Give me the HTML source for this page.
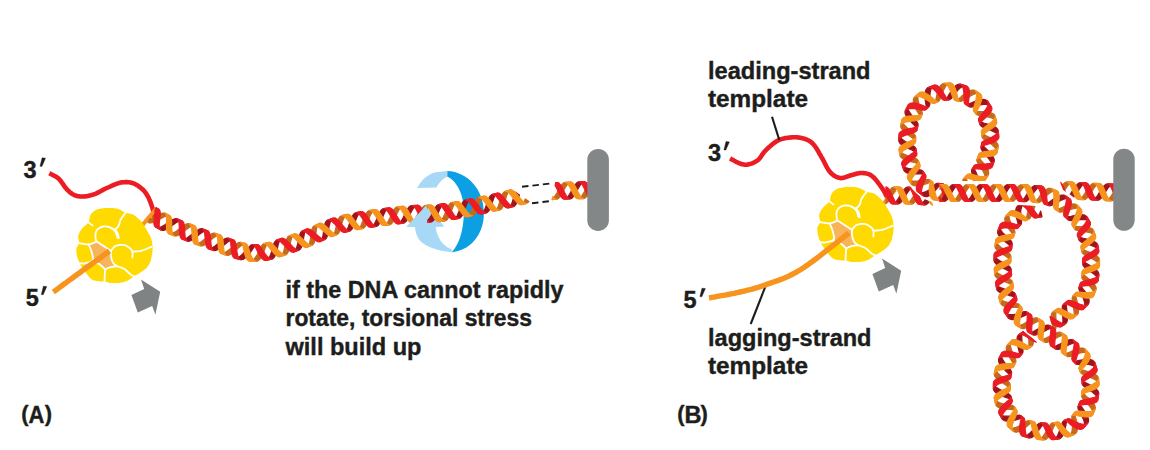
<!DOCTYPE html>
<html><head><meta charset="utf-8"><title>DNA replication torsional stress</title>
<style>html,body{margin:0;padding:0;background:#fff;width:1150px;height:450px;overflow:hidden}svg{display:block}</style>
</head><body>
<svg width="1150" height="450" viewBox="0 0 1150 450">
<rect width="1150" height="450" fill="#fff"/>
<path d="M447.2,171.1 C468,172 484,190 483.9,213.3 C483.8,236 469,251 451.7,252.2 C458,246 463.9,232 463.9,211 C463.9,195 457,181 447.2,176.5 Z" fill="#0c9fe3"/>
<path d="M417.2,188 C421,180 428,174 436,172.2 L447.2,171.1 L447.2,176.5 C442,179.5 438.5,183 436.5,187.5 Z" fill="#a7d8f5"/>
<path d="M49.3,173.2 L50.1,173.6 L50.9,174.1 L51.7,174.5 L52.5,174.9 L53.3,175.3 L54.1,175.7 L54.9,176.1 L55.7,176.5 L56.5,177.0 L57.2,177.5 L58.0,178.1 L58.7,178.7 L59.4,179.4 L60.1,180.2 L60.7,181.0 L61.4,181.9 L62.0,182.8 L62.7,183.7 L63.3,184.6 L63.9,185.6 L64.5,186.4 L65.1,187.3 L65.8,188.1 L66.4,188.8 L67.0,189.5 L67.7,190.1 L68.3,190.7 L68.9,191.3 L69.6,191.9 L70.2,192.4 L70.8,192.9 L71.5,193.4 L72.1,193.9 L72.8,194.3 L73.5,194.7 L74.2,195.0 L74.9,195.3 L75.6,195.6 L76.4,195.8 L77.1,196.0 L77.9,196.2 L78.7,196.3 L79.4,196.4 L80.2,196.5 L81.0,196.5 L81.8,196.5 L82.7,196.5 L83.5,196.5 L84.3,196.5 L85.2,196.4 L86.1,196.3 L87.0,196.2 L87.8,196.0 L88.8,195.8 L89.7,195.6 L90.6,195.4 L91.5,195.1 L92.5,194.9 L93.4,194.5 L94.4,194.2 L95.4,193.8 L96.4,193.4 L97.4,192.9 L98.4,192.4 L99.4,191.9 L100.5,191.3 L101.5,190.7 L102.6,190.2 L103.6,189.6 L104.7,189.0 L105.8,188.5 L106.9,188.0 L108.0,187.5 L109.2,187.0 L110.3,186.5 L111.5,185.9 L112.7,185.4 L113.9,184.9 L115.1,184.4 L116.3,183.9 L117.5,183.5 L118.6,183.1 L119.8,182.8 L120.9,182.6 L122.0,182.4 L123.1,182.3 L124.1,182.2 L125.2,182.1 L126.3,182.1 L127.3,182.1 L128.3,182.2 L129.3,182.3 L130.3,182.5 L131.3,182.7 L132.3,183.0 L133.3,183.3 L134.3,183.7 L135.3,184.2 L136.2,184.7 L137.2,185.3 L138.2,185.9 L139.1,186.6 L140.1,187.3 L141.0,188.0 L141.8,188.8 L142.7,189.5 L143.5,190.3 L144.2,191.1 L144.9,191.9 L145.5,192.7 L146.1,193.5 L146.7,194.4 L147.2,195.3 L147.7,196.2 L148.2,197.1 L148.7,198.0 L149.1,199.0 L149.5,200.0 L150.0,201.0 L150.4,202.0 L150.8,203.1 L151.2,204.2 L151.6,205.4 L152.0,206.6 L152.4,207.8 L152.7,209.1 L153.0,210.3 L153.4,211.5 L153.7,212.7 L154.0,213.9 L154.2,215.0 L154.5,216.0 L154.7,217.0 L155.0,217.9 L155.1,218.8 L155.3,219.6 L155.5,220.5 L155.6,221.2 L155.8,222.0 L155.9,222.8 L156.0,223.6 L156.2,224.4 L156.3,225.2 L156.5,226.0" fill="none" stroke="#ec1c24" stroke-width="4.6"/>
<path d="M140.0,228.0 L140.8,227.0 L141.7,225.9 L142.6,224.9 L143.5,223.8 L144.4,222.7 L145.2,221.7 L146.1,220.6 L147.0,219.6 L147.8,218.6 L148.6,217.7 L149.3,216.8 L150.0,216.0 L150.6,215.2 L151.2,214.5 L151.8,213.9 L152.3,213.3 L152.8,212.7 L153.2,212.2 L153.7,211.7 L154.1,211.1 L154.6,210.6 L155.0,210.1 L155.5,209.6 L156.0,209.0" fill="none" stroke="#f7941e" stroke-width="4"/>
<g transform="translate(0,0)">
<path d="M88.7,222.5 L88.9,221.5 L89.1,220.6 L89.3,219.6 L89.4,218.6 L89.6,217.6 L89.9,216.7 L90.1,215.8 L90.5,215.0 L90.9,214.3 L91.4,213.6 L91.9,213.0 L92.5,212.4 L93.1,211.9 L93.7,211.4 L94.3,210.9 L95.0,210.5 L95.7,210.1 L96.4,209.8 L97.1,209.5 L97.8,209.3 L98.6,209.1 L99.4,208.9 L100.2,208.8 L101.0,208.6 L101.8,208.4 L102.7,208.3 L103.5,208.2 L104.4,208.1 L105.3,208.0 L106.2,207.9 L107.2,207.9 L108.2,207.9 L109.3,207.9 L110.5,208.0 L111.8,208.0 L113.1,208.1 L114.4,208.2 L115.7,208.4 L116.9,208.6 L118.0,208.9 L119.0,209.3 L120.0,209.7 L121.0,210.2 L121.9,210.8 L122.8,211.3 L123.7,211.9 L124.6,212.4 L125.5,212.8 L126.5,213.1 L127.4,213.3 L128.4,213.5 L129.4,213.6 L130.4,213.8 L131.4,214.0 L132.4,214.3 L133.4,214.8 L134.4,215.4 L135.4,216.1 L136.4,216.9 L137.4,217.8 L138.4,218.7 L139.4,219.6 L140.3,220.6 L141.2,221.6 L142.0,222.6 L142.8,223.7 L143.6,224.8 L144.3,225.9 L145.0,227.1 L145.7,228.2 L146.4,229.3 L147.0,230.4 L147.6,231.4 L148.2,232.4 L148.7,233.4 L149.3,234.3 L149.8,235.2 L150.2,236.2 L150.6,237.2 L151.0,238.2 L151.3,239.3 L151.6,240.4 L151.9,241.5 L152.1,242.6 L152.3,243.7 L152.4,244.9 L152.5,245.9 L152.6,247.0 L152.6,248.0 L152.6,249.0 L152.6,250.0 L152.5,250.9 L152.4,251.9 L152.3,252.8 L152.2,253.7 L152.0,254.7 L151.8,255.7 L151.6,256.7 L151.4,257.7 L151.2,258.7 L151.0,259.7 L150.7,260.7 L150.4,261.6 L150.0,262.5 L149.6,263.3 L149.2,264.1 L148.7,264.9 L148.2,265.7 L147.7,266.4 L147.2,267.1 L146.6,267.7 L146.0,268.4 L145.3,269.0 L144.6,269.6 L143.9,270.2 L143.1,270.7 L142.3,271.3 L141.5,271.8 L140.8,272.3 L140.0,272.8 L139.2,273.3 L138.5,273.8 L137.8,274.2 L137.0,274.7 L136.2,275.1 L135.5,275.6 L134.8,276.0 L134.0,276.5 L133.3,277.0 L132.5,277.5 L131.8,278.1 L131.1,278.6 L130.4,279.1 L129.6,279.6 L128.8,280.1 L128.0,280.5 L127.1,280.9 L126.2,281.2 L125.2,281.6 L124.2,281.9 L123.2,282.2 L122.1,282.4 L121.1,282.6 L120.0,282.8 L118.9,282.9 L117.8,283.0 L116.6,283.1 L115.4,283.1 L114.2,283.1 L113.1,283.1 L112.0,283.1 L111.0,283.0 L110.1,282.9 L109.2,282.7 L108.4,282.5 L107.6,282.3 L106.8,282.0 L106.1,281.8 L105.3,281.6 L104.5,281.5 L103.7,281.4 L102.9,281.4 L102.0,281.4 L101.2,281.4 L100.4,281.4 L99.6,281.3 L98.8,281.3 L98.0,281.2 L97.2,281.1 L96.4,280.9 L95.6,280.8 L94.9,280.6 L94.1,280.4 L93.4,280.2 L92.7,279.9 L92.0,279.5 L91.4,279.1 L90.8,278.6 L90.2,278.1 L89.7,277.5 L89.1,276.9 L88.6,276.3 L88.1,275.7 L87.5,275.0 L86.9,274.3 L86.4,273.6 L85.8,272.9 L85.2,272.1 L84.6,271.3 L84.1,270.5 L83.5,269.8 L83.0,269.0 L82.5,268.3 L82.0,267.5 L81.6,266.8 L81.1,266.1 L80.7,265.3 L80.3,264.6 L79.9,263.8 L79.5,263.0 L79.1,262.2 L78.8,261.3 L78.4,260.5 L78.1,259.6 L77.8,258.7 L77.5,257.8 L77.2,256.9 L77.0,256.0 L76.8,255.1 L76.6,254.1 L76.5,253.1 L76.4,252.2 L76.3,251.2 L76.3,250.2 L76.3,249.3 L76.4,248.5 L76.6,247.7 L76.9,247.0 L77.3,246.4 L77.8,245.8 L78.2,245.2 L78.6,244.5 L78.9,243.8 L79.1,243.1 L79.1,242.3 L79.0,241.4 L78.8,240.6 L78.6,239.7 L78.4,238.7 L78.2,237.8 L78.1,236.9 L78.2,236.0 L78.4,235.1 L78.7,234.2 L79.1,233.3 L79.5,232.4 L80.0,231.5 L80.6,230.6 L81.2,229.8 L81.8,228.9 L82.5,228.1 L83.3,227.3 L84.1,226.4 L85.0,225.7 L86.0,224.9 L86.9,224.1 L87.8,223.3 L88.7,222.5Z" fill="#ffda00"/>
<path d="M88.7,244.4 L96.5,241.5 L103.4,245.9 L110.8,250.8 L111.3,258.0 L113.5,263.3 L117.3,266.4 L110.5,267.1 L105.2,269.4 L103.7,267.9 L99.2,264.1 L95.0,262.5 L90.8,261.8 L93.1,259.6 L91.6,251.7Z" fill="#f8b45a"/>
<path d="M88.7,222.6 L89.2,223.0 L89.7,223.3 L90.2,223.7 L90.7,224.1 L91.1,224.4 L91.6,224.8 L92.1,225.1 L92.6,225.5" fill="none" stroke="#fff" stroke-width="1.8" stroke-linecap="round"/>
<path d="M117.5,237.8 L117.2,237.0 L117.0,236.1 L116.7,235.3 L116.5,234.4 L116.2,233.6 L115.9,232.8 L115.5,232.1 L115.1,231.4 L114.6,230.8 L114.1,230.2 L113.5,229.6 L112.9,229.1 L112.3,228.6 L111.6,228.2 L110.9,227.8 L110.2,227.5 L109.4,227.2 L108.6,227.0 L107.7,226.7 L106.9,226.6 L106.0,226.5 L105.1,226.4 L104.2,226.4 L103.4,226.5 L102.6,226.7 L101.8,226.9 L101.0,227.2 L100.2,227.6 L99.4,228.0 L98.7,228.4 L98.0,228.9 L97.5,229.4 L97.0,229.9 L96.7,230.5 L96.4,231.0 L96.1,231.7 L95.9,232.3 L95.7,233.0 L95.6,233.6 L95.5,234.3 L95.4,235.0 L95.4,235.8 L95.5,236.6 L95.6,237.5 L95.7,238.3 L95.8,239.0 L95.9,239.7 L96.0,240.2 L96.1,240.6 L96.1,240.8 L96.2,241.0 L96.2,241.1 L96.3,241.2 L96.4,241.3 L96.4,241.4 L96.5,241.5" fill="none" stroke="#fff" stroke-width="1.8" stroke-linecap="round"/>
<path d="M125.5,212.8 L124.9,213.7 L124.2,214.6 L123.5,215.4 L122.9,216.3 L122.2,217.2 L121.6,218.1 L121.1,218.9 L120.6,219.7 L120.2,220.5 L120.0,221.3 L119.8,222.0 L119.6,222.8 L119.4,223.5 L119.2,224.2 L119.0,224.9 L118.7,225.5 L118.3,226.1 L117.9,226.7 L117.4,227.4 L116.9,227.9 L116.4,228.4 L115.9,228.9 L115.3,229.2 L114.8,229.4 L114.3,229.4 L113.7,229.3 L113.1,229.1 L112.5,228.8 L112.0,228.5 L111.4,228.1 L110.8,227.8 L110.2,227.5" fill="none" stroke="#fff" stroke-width="1.8" stroke-linecap="round"/>
<path d="M114.8,229.4 L115.2,229.9 L115.6,230.4 L116.0,230.9 L116.4,231.4 L116.8,231.8 L117.1,232.3 L117.4,232.9 L117.7,233.4 L117.9,234.0 L118.1,234.5 L118.2,235.1 L118.3,235.8 L118.4,236.4 L118.5,237.0 L118.6,237.6 L118.7,238.2" fill="none" stroke="#fff" stroke-width="1.8" stroke-linecap="round"/>
<path d="M77.9,243.0 L78.6,243.1 L79.4,243.2 L80.2,243.4 L80.9,243.5 L81.7,243.6 L82.4,243.7 L83.1,243.8 L83.8,243.9 L84.5,244.0 L85.1,244.1 L85.7,244.2 L86.3,244.3 L86.9,244.4 L87.5,244.4 L88.1,244.4 L88.7,244.4 L89.3,244.3 L90.0,244.2 L90.6,244.0 L91.3,243.8 L91.9,243.5 L92.5,243.3 L93.1,243.1 L93.6,242.9 L94.1,242.7 L94.5,242.5 L94.8,242.4 L95.2,242.2 L95.5,242.0 L95.8,241.8 L96.2,241.7 L96.5,241.5" fill="none" stroke="#fff" stroke-width="1.8" stroke-linecap="round"/>
<path d="M96.5,241.5 L97.4,242.0 L98.2,242.6 L99.1,243.1 L99.9,243.7 L100.8,244.2 L101.6,244.8 L102.5,245.3 L103.4,245.9 L104.3,246.5 L105.2,247.1 L106.1,247.7 L107.1,248.3 L108.0,248.9 L108.9,249.6 L109.9,250.2 L110.8,250.8" fill="none" stroke="#fff" stroke-width="1.8" stroke-linecap="round"/>
<path d="M88.7,244.4 L89.1,245.3 L89.5,246.2 L89.8,247.1 L90.2,248.0 L90.6,248.9 L91.0,249.8 L91.3,250.8 L91.6,251.7 L91.9,252.7 L92.2,253.8 L92.4,254.9 L92.7,256.0 L92.9,257.0 L93.0,258.0 L93.1,258.9 L93.1,259.6 L93.0,260.1 L92.8,260.6 L92.5,260.8 L92.2,261.1 L91.8,261.2 L91.5,261.4 L91.1,261.6 L90.8,261.8" fill="none" stroke="#fff" stroke-width="1.8" stroke-linecap="round"/>
<path d="M78.5,263.0 L79.2,263.1 L79.8,263.2 L80.4,263.3 L81.0,263.4 L81.7,263.5 L82.4,263.5 L83.1,263.5 L83.8,263.5 L84.6,263.4 L85.4,263.2 L86.3,263.0 L87.2,262.8 L88.1,262.5 L89.0,262.3 L89.9,262.0 L90.8,261.8" fill="none" stroke="#fff" stroke-width="1.8" stroke-linecap="round"/>
<path d="M90.8,261.8 L91.3,261.9 L91.8,262.0 L92.4,262.0 L92.9,262.1 L93.4,262.2 L94.0,262.3 L94.5,262.4 L95.0,262.5 L95.5,262.6 L96.0,262.8 L96.6,262.9 L97.1,263.1 L97.6,263.3 L98.1,263.5 L98.7,263.8 L99.2,264.1 L99.8,264.5 L100.4,264.9 L101.0,265.5 L101.6,266.0 L102.2,266.5 L102.8,267.1 L103.3,267.5 L103.7,267.9 L104.0,268.2 L104.3,268.4 L104.5,268.6 L104.6,268.8 L104.8,268.9 L104.9,269.1 L105.0,269.2 L105.2,269.4" fill="none" stroke="#fff" stroke-width="1.8" stroke-linecap="round"/>
<path d="M105.2,269.4 L105.1,270.1 L105.1,270.7 L105.0,271.3 L105.0,272.0 L104.9,272.6 L104.9,273.3 L104.8,274.0 L104.8,274.7 L104.8,275.5 L104.7,276.3 L104.7,277.1 L104.6,278.0 L104.6,278.9 L104.6,279.8 L104.5,280.6 L104.5,281.5" fill="none" stroke="#fff" stroke-width="1.8" stroke-linecap="round"/>
<path d="M105.2,269.4 L105.9,269.1 L106.5,268.8 L107.1,268.5 L107.8,268.1 L108.4,267.8 L109.1,267.6 L109.8,267.3 L110.5,267.1 L111.3,266.9 L112.1,266.8 L113.0,266.6 L114.0,266.5 L114.9,266.4 L115.7,266.4 L116.5,266.4 L117.3,266.4 L118.0,266.5 L118.6,266.6 L119.2,266.8 L119.8,267.0 L120.3,267.2 L120.8,267.5 L121.3,267.7 L121.8,267.9 L122.2,268.1 L122.6,268.2 L122.9,268.3 L123.3,268.4 L123.6,268.6 L124.0,268.8 L124.4,269.0 L124.9,269.4 L125.5,269.9 L126.3,270.5 L127.0,271.3 L127.9,272.0 L128.7,272.8 L129.5,273.5 L130.2,274.2 L130.9,274.7 L131.5,275.1 L132.0,275.4 L132.4,275.6 L132.9,275.8 L133.3,276.0 L133.7,276.1 L134.1,276.3 L134.5,276.5" fill="none" stroke="#fff" stroke-width="1.8" stroke-linecap="round"/>
<path d="M110.8,250.8 L110.9,251.7 L110.9,252.6 L110.9,253.6 L110.9,254.5 L111.0,255.4 L111.1,256.3 L111.2,257.2 L111.3,258.0 L111.5,258.8 L111.7,259.5 L111.9,260.2 L112.2,260.9 L112.5,261.6 L112.8,262.2 L113.1,262.8 L113.5,263.3 L113.9,263.8 L114.3,264.2 L114.8,264.6 L115.3,265.0 L115.8,265.3 L116.3,265.7 L116.8,266.0 L117.3,266.4" fill="none" stroke="#fff" stroke-width="1.8" stroke-linecap="round"/>
<path d="M110.8,250.8 L111.4,250.2 L112.0,249.5 L112.5,248.8 L113.1,248.1 L113.6,247.5 L114.3,246.9 L114.9,246.3 L115.7,245.9 L116.6,245.6 L117.5,245.3 L118.5,245.1 L119.6,244.9 L120.7,244.8 L121.7,244.8 L122.7,244.8 L123.6,244.9 L124.4,245.1 L125.3,245.3 L126.1,245.7 L126.8,246.0 L127.5,246.5 L128.2,246.9 L128.8,247.4 L129.4,247.8 L129.9,248.2 L130.4,248.7 L130.9,249.1 L131.3,249.6 L131.6,250.0 L131.9,250.6 L132.2,251.1 L132.4,251.7 L132.5,252.3 L132.6,253.0 L132.6,253.8 L132.6,254.5 L132.5,255.3 L132.5,256.1 L132.4,256.8 L132.4,257.6" fill="none" stroke="#fff" stroke-width="1.8" stroke-linecap="round"/>
<path d="M132.4,251.7 L133.5,251.6 L134.6,251.5 L135.6,251.5 L136.7,251.4 L137.8,251.4 L138.9,251.2 L140.0,251.1 L141.2,250.8 L142.4,250.4 L143.7,250.0 L145.0,249.5 L146.3,249.0 L147.6,248.4 L148.9,247.9 L150.2,247.3 L151.5,246.8" fill="none" stroke="#fff" stroke-width="1.8" stroke-linecap="round"/>
</g>
<path d="M53.3,292.0 L56.0,290.1 L58.6,288.1 L61.2,286.2 L63.8,284.3 L66.5,282.4 L69.1,280.4 L71.8,278.5 L74.5,276.5 L77.2,274.5 L80.0,272.5 L82.8,270.4 L85.7,268.3 L88.6,266.2 L91.6,264.0 L94.6,261.9 L97.6,259.7 L100.6,257.5 L103.6,255.3 L106.5,253.2 L109.5,251.0" fill="none" stroke="#f7941e" stroke-width="5.4" stroke-linecap="butt"/>
<path d="M141.0,279.5 L160.2,291.7 L155.4,314.7 L152.2,306.1 L137.8,312.5 L131.4,295.0 L144.2,289.0Z" fill="#808384"/>
<path d="M155.5,208.8 L156.2,208.7 L157.6,208.8 L158.8,209.2 L156.1,207.7Z" fill="#a0141b" stroke="#a0141b" stroke-width="1.2" stroke-linejoin="round"/>
<path d="M160.9,230.0 L162.1,230.4 L163.5,230.4 L165.0,230.0 L166.6,229.2 L168.3,228.2 L170.1,227.1 L171.8,225.8 L173.6,224.5 L175.3,223.3 L176.9,222.3 L178.5,221.5 L179.9,221.0 L181.1,220.8 L182.2,221.0 L177.2,218.9 L176.1,218.7 L174.8,218.8 L173.4,219.3 L171.9,220.1 L170.2,221.1 L168.5,222.3 L166.7,223.5 L164.9,224.7 L163.1,225.8 L161.3,226.7 L159.6,227.3 L158.0,227.5 L156.6,227.4 L155.5,227.0Z" fill="#a0141b" stroke="#a0141b" stroke-width="1.2" stroke-linejoin="round"/>
<path d="M187.2,241.0 L188.4,241.3 L189.6,241.1 L191.0,240.5 L192.6,239.7 L194.2,238.6 L195.9,237.3 L197.6,236.0 L199.2,234.6 L200.9,233.3 L202.5,232.2 L204.0,231.3 L205.4,230.7 L206.6,230.5 L207.7,230.7 L202.5,228.8 L201.4,228.7 L200.2,228.9 L198.8,229.4 L197.3,230.3 L195.7,231.4 L194.0,232.6 L192.3,234.0 L190.6,235.3 L188.9,236.6 L187.3,237.7 L185.8,238.5 L184.3,239.0 L183.1,239.2 L181.9,239.0Z" fill="#a0141b" stroke="#a0141b" stroke-width="1.2" stroke-linejoin="round"/>
<path d="M213.4,250.4 L214.4,250.6 L215.7,250.4 L217.1,249.9 L218.6,249.0 L220.2,247.9 L221.9,246.7 L223.6,245.3 L225.3,244.0 L226.9,242.7 L228.5,241.6 L230.0,240.7 L231.4,240.1 L232.6,239.9 L233.7,240.1 L228.6,238.2 L227.5,238.0 L226.2,238.2 L224.9,238.8 L223.3,239.6 L221.7,240.7 L220.0,242.0 L218.3,243.3 L216.6,244.7 L215.0,246.0 L213.4,247.1 L211.9,248.0 L210.6,248.6 L209.4,248.8 L208.3,248.7Z" fill="#a0141b" stroke="#a0141b" stroke-width="1.2" stroke-linejoin="round"/>
<path d="M240.5,259.6 L241.8,259.7 L243.1,259.4 L244.5,258.6 L246.0,257.5 L247.4,256.1 L248.8,254.5 L250.1,252.8 L251.4,251.0 L252.5,249.3 L253.6,247.7 L254.6,246.4 L255.6,245.4 L256.5,244.8 L257.4,244.5 L252.8,244.6 L251.8,244.7 L250.8,245.2 L249.8,246.1 L248.6,247.3 L247.4,248.7 L246.0,250.3 L244.6,251.9 L243.1,253.5 L241.6,255.0 L240.0,256.3 L238.6,257.3 L237.2,257.9 L235.8,258.2 L234.6,258.1Z" fill="#a0141b" stroke="#a0141b" stroke-width="1.2" stroke-linejoin="round"/>
<path d="M271.8,259.1 L272.9,258.6 L273.9,257.7 L274.8,256.4 L275.5,254.8 L276.2,252.9 L276.8,250.9 L277.3,248.8 L277.8,246.7 L278.2,244.6 L278.8,242.8 L279.4,241.2 L280.1,239.9 L280.9,238.9 L281.9,238.3 L276.7,240.1 L275.8,240.7 L275.0,241.6 L274.2,242.8 L273.6,244.4 L273.0,246.3 L272.5,248.3 L271.9,250.4 L271.3,252.5 L270.6,254.5 L269.8,256.3 L269.0,257.9 L268.0,259.1 L266.9,260.0 L265.7,260.4Z" fill="#a0141b" stroke="#a0141b" stroke-width="1.2" stroke-linejoin="round"/>
<path d="M298.7,250.3 L299.7,249.7 L300.6,248.8 L301.4,247.4 L302.0,245.8 L302.6,243.9 L303.0,241.8 L303.4,239.7 L303.7,237.5 L304.1,235.5 L304.4,233.6 L304.9,231.9 L305.5,230.6 L306.3,229.6 L307.2,228.9 L302.2,231.1 L301.3,231.7 L300.6,232.6 L300.0,234.0 L299.4,235.6 L299.0,237.5 L298.6,239.5 L298.1,241.6 L297.7,243.8 L297.1,245.8 L296.6,247.6 L296.0,249.3 L295.3,250.6 L294.5,251.5 L293.5,252.1Z" fill="#a0141b" stroke="#a0141b" stroke-width="1.2" stroke-linejoin="round"/>
<path d="M324.9,239.4 L325.8,238.8 L326.6,237.8 L327.2,236.4 L327.6,234.8 L328.1,232.9 L328.4,230.8 L328.7,228.7 L329.1,226.5 L329.5,224.5 L330.1,222.6 L330.7,220.9 L331.5,219.6 L332.4,218.6 L333.5,218.0 L327.9,220.0 L326.8,220.6 L325.9,221.6 L325.2,223.0 L324.7,224.7 L324.2,226.6 L323.9,228.7 L323.6,230.8 L323.3,233.0 L323.0,235.0 L322.6,236.9 L322.2,238.6 L321.6,240.0 L320.8,241.0 L319.9,241.6Z" fill="#a0141b" stroke="#a0141b" stroke-width="1.2" stroke-linejoin="round"/>
<path d="M349.5,231.1 L350.5,230.7 L351.4,229.8 L352.3,228.6 L353.1,227.1 L353.8,225.3 L354.6,223.4 L355.3,221.3 L356.1,219.3 L356.9,217.3 L357.7,215.6 L358.6,214.1 L359.6,212.9 L360.6,212.1 L361.7,211.7 L356.0,212.7 L355.0,213.1 L353.9,213.9 L353.0,215.1 L352.1,216.6 L351.3,218.4 L350.6,220.4 L349.9,222.4 L349.1,224.5 L348.5,226.5 L347.7,228.2 L347.0,229.8 L346.2,231.0 L345.3,231.9 L344.4,232.3Z" fill="#a0141b" stroke="#a0141b" stroke-width="1.2" stroke-linejoin="round"/>
<path d="M376.1,226.5 L377.1,226.1 L378.2,225.4 L379.1,224.2 L380.0,222.8 L380.9,221.1 L381.8,219.1 L382.7,217.1 L383.5,215.2 L384.4,213.3 L385.3,211.5 L386.3,210.1 L387.3,208.9 L388.3,208.2 L389.4,207.8 L383.8,208.5 L382.7,208.9 L381.7,209.6 L380.7,210.8 L379.8,212.2 L378.9,214.0 L378.0,215.9 L377.1,217.9 L376.3,219.9 L375.4,221.8 L374.5,223.5 L373.6,225.0 L372.7,226.2 L371.7,226.9 L370.6,227.3Z" fill="#a0141b" stroke="#a0141b" stroke-width="1.2" stroke-linejoin="round"/>
<path d="M403.3,223.1 L404.4,222.8 L405.4,222.1 L406.4,221.0 L407.3,219.5 L408.2,217.8 L409.2,216.0 L410.1,214.0 L411.1,212.1 L412.2,210.2 L413.2,208.6 L414.4,207.2 L415.5,206.2 L416.7,205.5 L417.9,205.3 L411.9,205.5 L410.7,205.8 L409.6,206.5 L408.5,207.6 L407.4,209.0 L406.4,210.7 L405.5,212.6 L404.6,214.5 L403.7,216.5 L402.8,218.4 L401.8,220.1 L400.9,221.6 L399.9,222.7 L398.8,223.4 L397.8,223.8Z" fill="#a0141b" stroke="#a0141b" stroke-width="1.2" stroke-linejoin="round"/>
<path d="M430.1,222.2 L431.4,221.9 L432.5,221.3 L433.7,220.2 L434.8,218.8 L435.8,217.1 L436.8,215.2 L437.8,213.3 L438.7,211.3 L439.5,209.4 L440.4,207.7 L441.3,206.2 L442.2,205.1 L443.2,204.3 L444.2,203.9 L438.9,204.7 L437.9,205.0 L437.0,205.7 L436.0,206.8 L435.1,208.3 L434.1,209.9 L433.2,211.8 L432.2,213.7 L431.1,215.6 L430.0,217.4 L428.9,219.0 L427.7,220.4 L426.5,221.4 L425.4,222.0 L424.2,222.2Z" fill="#a0141b" stroke="#a0141b" stroke-width="1.2" stroke-linejoin="round"/>
<path d="M458.9,218.4 L460.0,218.0 L460.9,217.2 L461.9,216.0 L462.7,214.5 L463.5,212.7 L464.3,210.7 L465.0,208.7 L465.8,206.6 L466.5,204.7 L467.3,202.9 L468.1,201.4 L469.0,200.2 L470.0,199.3 L471.0,198.9 L465.6,200.0 L464.5,200.4 L463.5,201.2 L462.6,202.4 L461.8,204.0 L461.0,205.7 L460.3,207.7 L459.5,209.7 L458.8,211.8 L458.0,213.7 L457.2,215.5 L456.3,217.0 L455.4,218.2 L454.4,219.0 L453.3,219.4Z" fill="#a0141b" stroke="#a0141b" stroke-width="1.2" stroke-linejoin="round"/>
<path d="M486.2,212.9 L487.2,212.5 L488.2,211.6 L489.1,210.4 L489.9,208.9 L490.7,207.1 L491.4,205.1 L492.1,203.1 L492.8,201.0 L493.5,199.0 L494.2,197.2 L495.0,195.7 L495.9,194.5 L496.8,193.6 L497.8,193.2 L492.5,194.4 L491.4,194.8 L490.5,195.7 L489.6,196.9 L488.8,198.4 L488.1,200.2 L487.3,202.2 L486.6,204.2 L485.9,206.3 L485.2,208.2 L484.4,210.0 L483.6,211.6 L482.7,212.8 L481.7,213.6 L480.7,214.0Z" fill="#a0141b" stroke="#a0141b" stroke-width="1.2" stroke-linejoin="round"/>
<path d="M513.5,206.6 L514.5,206.1 L515.4,205.2 L516.2,204.0 L517.0,202.4 L517.7,200.6 L518.3,198.6 L519.0,196.5 L519.4,194.9 L515.4,192.2 L514.8,193.8 L514.1,195.8 L513.5,197.9 L512.9,200.0 L512.3,202.0 L511.6,203.8 L510.8,205.3 L510.0,206.6 L509.0,207.5 L508.0,208.0Z" fill="#a0141b" stroke="#a0141b" stroke-width="1.2" stroke-linejoin="round"/>
<path d="M147.9,222.3 L148.5,222.7 L149.5,223.0 L150.6,223.0 L152.0,222.7 L153.7,222.1 L155.5,221.4 L157.4,220.5 L159.3,219.5 L161.2,218.5 L163.1,217.5 L164.7,216.6 L166.3,215.9 L167.6,215.5 L168.8,215.4 L169.8,215.7 L165.4,213.4 L164.5,213.0 L163.3,213.0 L161.9,213.3 L160.2,213.9 L158.4,214.6 L156.5,215.5 L154.6,216.5 L152.7,217.5 L150.8,218.5 L149.7,219.1Z" fill="#c6691d" stroke="#c6691d" stroke-width="1.2" stroke-linejoin="round"/>
<path d="M174.0,235.8 L175.1,236.0 L176.4,235.9 L177.8,235.4 L179.4,234.6 L181.0,233.5 L182.7,232.3 L184.4,230.9 L186.2,229.6 L187.8,228.4 L189.5,227.3 L191.0,226.4 L192.4,225.9 L193.6,225.7 L194.7,225.9 L189.6,223.9 L188.5,223.7 L187.2,223.9 L185.8,224.4 L184.3,225.3 L182.7,226.3 L181.0,227.6 L179.2,228.9 L177.5,230.2 L175.8,231.4 L174.1,232.4 L172.6,233.2 L171.1,233.7 L169.8,233.8 L168.7,233.6Z" fill="#c6691d" stroke="#c6691d" stroke-width="1.2" stroke-linejoin="round"/>
<path d="M200.2,245.8 L201.3,246.0 L202.6,245.8 L204.0,245.2 L205.5,244.4 L207.1,243.2 L208.7,241.9 L210.4,240.5 L212.0,239.1 L213.7,237.8 L215.3,236.6 L216.8,235.8 L218.2,235.2 L219.5,235.0 L220.7,235.2 L215.2,233.3 L214.0,233.1 L212.8,233.3 L211.4,233.9 L209.9,234.8 L208.4,236.0 L206.8,237.3 L205.1,238.7 L203.4,240.1 L201.7,241.4 L200.1,242.5 L198.6,243.3 L197.2,243.9 L195.9,244.1 L194.8,243.9Z" fill="#c6691d" stroke="#c6691d" stroke-width="1.2" stroke-linejoin="round"/>
<path d="M226.1,255.2 L227.3,255.4 L228.6,255.2 L230.0,254.6 L231.5,253.8 L233.1,252.6 L234.8,251.3 L236.4,249.8 L238.0,248.4 L239.5,247.0 L241.0,245.7 L242.3,244.7 L243.6,244.0 L244.7,243.6 L245.7,243.6 L240.8,242.4 L239.8,242.3 L238.6,242.6 L237.3,243.2 L235.9,244.2 L234.4,245.3 L232.7,246.7 L231.1,248.1 L229.4,249.5 L227.7,250.7 L226.1,251.8 L224.6,252.7 L223.2,253.2 L221.9,253.4 L220.8,253.2Z" fill="#c6691d" stroke="#c6691d" stroke-width="1.2" stroke-linejoin="round"/>
<path d="M256.0,261.4 L257.3,261.1 L258.6,260.4 L259.8,259.3 L260.9,257.9 L261.9,256.2 L262.8,254.3 L263.7,252.2 L264.4,250.2 L265.1,248.3 L265.8,246.5 L266.6,245.0 L267.3,243.8 L268.2,242.9 L269.1,242.4 L264.2,243.6 L263.3,244.0 L262.4,244.8 L261.6,245.9 L260.8,247.4 L259.9,249.1 L259.1,250.9 L258.1,252.9 L257.1,254.8 L255.9,256.6 L254.7,258.2 L253.5,259.6 L252.1,260.5 L250.8,261.0 L249.5,261.1Z" fill="#c6691d" stroke="#c6691d" stroke-width="1.2" stroke-linejoin="round"/>
<path d="M285.5,254.9 L286.5,254.3 L287.4,253.3 L288.1,252.0 L288.7,250.4 L289.2,248.5 L289.7,246.5 L290.1,244.3 L290.6,242.2 L291.0,240.2 L291.6,238.3 L292.2,236.7 L293.0,235.3 L293.9,234.4 L294.9,233.9 L289.5,235.7 L288.5,236.2 L287.6,237.2 L286.9,238.5 L286.3,240.2 L285.7,242.0 L285.3,244.1 L284.8,246.2 L284.4,248.3 L283.9,250.4 L283.4,252.3 L282.7,253.9 L282.0,255.2 L281.0,256.2 L280.0,256.7Z" fill="#c6691d" stroke="#c6691d" stroke-width="1.2" stroke-linejoin="round"/>
<path d="M312.1,245.2 L313.0,244.5 L313.8,243.5 L314.5,242.1 L314.9,240.4 L315.3,238.5 L315.6,236.4 L315.8,234.2 L316.1,232.1 L316.4,230.0 L316.8,228.1 L317.2,226.4 L317.9,225.0 L318.7,224.0 L319.6,223.4 L314.4,225.7 L313.5,226.3 L312.7,227.4 L312.1,228.7 L311.6,230.4 L311.3,232.3 L311.0,234.4 L310.7,236.6 L310.5,238.7 L310.1,240.8 L309.7,242.7 L309.2,244.4 L308.5,245.8 L307.7,246.8 L306.6,247.4Z" fill="#c6691d" stroke="#c6691d" stroke-width="1.2" stroke-linejoin="round"/>
<path d="M336.9,234.6 L337.8,234.1 L338.6,233.1 L339.3,231.9 L339.9,230.3 L340.5,228.5 L341.0,226.5 L341.6,224.4 L342.2,222.3 L342.9,220.3 L343.7,218.4 L344.5,216.9 L345.4,215.6 L346.4,214.8 L347.5,214.3 L341.8,215.7 L340.6,216.2 L339.6,217.1 L338.8,218.3 L338.0,219.9 L337.3,221.8 L336.8,223.8 L336.3,226.0 L335.8,228.1 L335.3,230.1 L334.8,232.0 L334.3,233.6 L333.7,234.9 L332.9,235.8 L332.0,236.4Z" fill="#c6691d" stroke="#c6691d" stroke-width="1.2" stroke-linejoin="round"/>
<path d="M362.4,228.6 L363.5,228.2 L364.4,227.4 L365.4,226.3 L366.3,224.8 L367.1,223.0 L367.9,221.1 L368.8,219.1 L369.6,217.1 L370.4,215.1 L371.3,213.4 L372.3,211.9 L373.2,210.8 L374.3,210.0 L375.4,209.6 L369.7,210.4 L368.7,210.8 L367.6,211.6 L366.6,212.8 L365.7,214.2 L364.9,216.0 L364.0,217.9 L363.2,220.0 L362.4,222.0 L361.6,223.9 L360.8,225.7 L360.0,227.2 L359.1,228.3 L358.1,229.2 L357.1,229.6Z" fill="#c6691d" stroke="#c6691d" stroke-width="1.2" stroke-linejoin="round"/>
<path d="M389.4,224.8 L390.5,224.4 L391.5,223.7 L392.5,222.6 L393.5,221.1 L394.4,219.4 L395.3,217.5 L396.2,215.5 L397.1,213.5 L398.0,211.6 L398.9,209.9 L399.9,208.5 L400.9,207.4 L401.9,206.6 L403.0,206.3 L397.4,206.9 L396.3,207.2 L395.3,208.0 L394.3,209.1 L393.3,210.6 L392.4,212.3 L391.5,214.2 L390.6,216.2 L389.7,218.2 L388.8,220.0 L387.9,221.8 L387.0,223.2 L386.0,224.4 L385.0,225.1 L383.9,225.5Z" fill="#c6691d" stroke="#c6691d" stroke-width="1.2" stroke-linejoin="round"/>
<path d="M416.1,222.1 L417.2,221.9 L418.2,221.3 L419.3,220.3 L420.3,218.9 L421.4,217.4 L422.6,215.6 L423.7,213.8 L424.9,211.9 L426.0,210.1 L427.1,208.6 L428.2,207.2 L429.2,206.2 L430.2,205.6 L431.2,205.3 L426.0,205.4 L425.0,205.6 L423.8,206.2 L422.7,207.2 L421.6,208.5 L420.4,210.1 L419.3,211.8 L418.1,213.7 L417.0,215.6 L416.0,217.4 L415.0,219.0 L413.9,220.4 L412.9,221.4 L412.0,222.1 L410.9,222.4Z" fill="#c6691d" stroke="#c6691d" stroke-width="1.2" stroke-linejoin="round"/>
<path d="M444.7,220.8 L445.8,220.4 L446.9,219.7 L447.8,218.5 L448.8,217.0 L449.6,215.2 L450.4,213.3 L451.2,211.3 L452.0,209.2 L452.8,207.3 L453.6,205.5 L454.4,204.0 L455.3,202.8 L456.3,202.0 L457.3,201.6 L451.9,202.6 L450.9,203.0 L449.9,203.8 L449.0,205.0 L448.1,206.5 L447.3,208.2 L446.5,210.2 L445.7,212.2 L444.9,214.2 L444.0,216.1 L443.1,217.9 L442.2,219.3 L441.1,220.5 L440.0,221.2 L438.8,221.6Z" fill="#c6691d" stroke="#c6691d" stroke-width="1.2" stroke-linejoin="round"/>
<path d="M472.4,215.8 L473.4,215.3 L474.4,214.5 L475.3,213.3 L476.1,211.8 L476.9,210.0 L477.6,208.0 L478.3,206.0 L479.1,203.9 L479.8,201.9 L480.6,200.1 L481.4,198.6 L482.3,197.4 L483.2,196.6 L484.3,196.1 L478.8,197.3 L477.8,197.7 L476.8,198.5 L475.9,199.8 L475.1,201.3 L474.3,203.1 L473.6,205.0 L472.9,207.1 L472.1,209.1 L471.4,211.1 L470.6,212.9 L469.8,214.4 L468.9,215.6 L467.9,216.5 L466.8,216.9Z" fill="#c6691d" stroke="#c6691d" stroke-width="1.2" stroke-linejoin="round"/>
<path d="M499.6,210.0 L500.7,209.5 L501.7,208.7 L502.5,207.4 L503.3,205.9 L504.0,204.0 L504.7,202.0 L505.3,200.0 L506.0,197.9 L506.6,195.9 L507.3,194.1 L508.0,192.5 L508.9,191.3 L509.8,190.4 L510.8,189.9 L505.4,191.3 L504.4,191.8 L503.5,192.6 L502.7,193.9 L501.9,195.4 L501.2,197.2 L500.5,199.2 L499.9,201.3 L499.2,203.4 L498.5,205.4 L497.8,207.2 L497.0,208.7 L496.1,209.9 L495.1,210.8 L494.0,211.2Z" fill="#c6691d" stroke="#c6691d" stroke-width="1.2" stroke-linejoin="round"/>
<path d="M526.5,203.3 L527.6,202.8 L528.5,202.0 L528.9,201.4 L525.3,199.0 L524.7,200.5 L523.9,202.0 L523.1,203.3 L522.2,204.1 L521.1,204.6Z" fill="#c6691d" stroke="#c6691d" stroke-width="1.2" stroke-linejoin="round"/>
<path d="M156.1,207.7 L158.9,209.3 L159.6,210.0 L160.0,211.0 L160.2,212.3 L160.2,213.9 L160.1,215.7 L159.8,217.6 L159.6,219.7 L159.4,221.7 L159.2,223.7 L159.2,225.5 L159.4,227.1 L159.7,228.5 L160.3,229.5 L161.0,230.1 L155.4,226.9 L154.7,226.3 L154.3,225.3 L154.0,223.9 L154.0,222.3 L154.2,220.6 L154.4,218.6 L154.7,216.6 L154.9,214.5 L155.0,212.5 L155.0,210.7 L155.0,209.7Z" fill="#ec1c24" stroke="#ec1c24" stroke-width="1.2" stroke-linejoin="round"/>
<path d="M182.3,221.1 L183.0,221.6 L183.6,222.5 L184.0,223.7 L184.3,225.3 L184.5,227.0 L184.6,229.0 L184.7,231.1 L184.8,233.1 L185.0,235.1 L185.2,236.9 L185.6,238.4 L186.0,239.7 L186.6,240.6 L187.3,241.1 L181.8,239.0 L181.1,238.4 L180.5,237.5 L180.1,236.3 L179.8,234.7 L179.6,232.9 L179.4,231.0 L179.3,228.9 L179.3,226.9 L179.1,224.9 L179.0,223.1 L178.7,221.5 L178.3,220.3 L177.8,219.4 L177.1,218.9Z" fill="#ec1c24" stroke="#ec1c24" stroke-width="1.2" stroke-linejoin="round"/>
<path d="M207.8,230.7 L208.5,231.2 L209.1,232.1 L209.6,233.3 L209.9,234.8 L210.2,236.6 L210.5,238.6 L210.7,240.6 L210.9,242.6 L211.1,244.6 L211.4,246.4 L211.7,247.9 L212.2,249.1 L212.7,250.0 L213.4,250.5 L208.2,248.6 L207.5,248.1 L206.8,247.3 L206.3,246.0 L205.9,244.5 L205.6,242.7 L205.4,240.8 L205.2,238.7 L205.0,236.7 L204.8,234.7 L204.5,232.9 L204.2,231.4 L203.7,230.2 L203.1,229.3 L202.4,228.8Z" fill="#ec1c24" stroke="#ec1c24" stroke-width="1.2" stroke-linejoin="round"/>
<path d="M233.8,240.1 L234.5,240.6 L235.1,241.4 L235.5,242.6 L235.9,244.2 L236.2,245.9 L236.4,247.9 L236.7,249.9 L237.0,252.0 L237.4,253.9 L237.8,255.7 L238.3,257.2 L239.0,258.4 L239.7,259.2 L240.6,259.7 L234.5,258.0 L233.7,257.6 L233.0,256.7 L232.4,255.5 L232.0,253.9 L231.7,252.1 L231.4,250.2 L231.2,248.1 L231.0,246.1 L230.8,244.1 L230.6,242.3 L230.2,240.8 L229.8,239.6 L229.2,238.7 L228.5,238.2Z" fill="#ec1c24" stroke="#ec1c24" stroke-width="1.2" stroke-linejoin="round"/>
<path d="M257.5,244.5 L258.2,244.7 L259.0,245.2 L259.8,246.1 L260.8,247.4 L261.8,248.8 L262.8,250.5 L264.0,252.2 L265.2,253.9 L266.4,255.4 L267.6,256.8 L268.8,257.9 L269.9,258.7 L271.0,259.1 L271.9,259.1 L265.6,260.4 L264.6,260.4 L263.6,259.9 L262.5,259.0 L261.4,257.8 L260.3,256.4 L259.2,254.7 L258.2,252.9 L257.3,251.1 L256.4,249.3 L255.6,247.8 L254.8,246.4 L254.1,245.4 L253.4,244.8 L252.7,244.5Z" fill="#ec1c24" stroke="#ec1c24" stroke-width="1.2" stroke-linejoin="round"/>
<path d="M282.0,238.3 L282.9,238.2 L283.9,238.5 L285.0,239.2 L286.3,240.2 L287.6,241.4 L289.0,242.8 L290.4,244.2 L291.9,245.7 L293.2,247.1 L294.6,248.3 L295.8,249.3 L296.9,250.0 L297.9,250.3 L298.7,250.3 L293.4,252.1 L292.5,252.2 L291.5,251.9 L290.4,251.2 L289.1,250.2 L287.8,249.0 L286.4,247.6 L285.0,246.2 L283.5,244.7 L282.1,243.3 L280.8,242.1 L279.6,241.1 L278.5,240.4 L277.5,240.1 L276.6,240.1Z" fill="#ec1c24" stroke="#ec1c24" stroke-width="1.2" stroke-linejoin="round"/>
<path d="M307.3,228.9 L308.1,228.8 L309.1,229.0 L310.3,229.5 L311.6,230.4 L313.1,231.5 L314.6,232.8 L316.1,234.1 L317.7,235.5 L319.2,236.7 L320.6,237.8 L321.9,238.7 L323.1,239.3 L324.1,239.5 L325.0,239.4 L319.8,241.7 L318.9,241.8 L317.9,241.6 L316.7,241.1 L315.4,240.2 L313.9,239.1 L312.4,237.9 L310.9,236.5 L309.3,235.1 L307.8,233.9 L306.4,232.7 L305.1,231.8 L304.0,231.3 L303.0,231.0 L302.1,231.1Z" fill="#ec1c24" stroke="#ec1c24" stroke-width="1.2" stroke-linejoin="round"/>
<path d="M333.6,218.0 L334.5,217.9 L335.6,218.2 L336.7,218.9 L338.0,219.9 L339.3,221.2 L340.6,222.7 L341.9,224.3 L343.2,225.9 L344.5,227.4 L345.7,228.7 L346.8,229.8 L347.8,230.6 L348.8,231.0 L349.6,231.1 L344.3,232.4 L343.5,232.3 L342.5,232.0 L341.5,231.2 L340.3,230.2 L339.1,228.9 L337.8,227.4 L336.4,225.9 L335.0,224.4 L333.6,223.0 L332.2,221.8 L330.9,220.8 L329.7,220.2 L328.7,219.9 L327.8,220.0Z" fill="#ec1c24" stroke="#ec1c24" stroke-width="1.2" stroke-linejoin="round"/>
<path d="M361.8,211.7 L362.7,211.7 L363.7,212.2 L364.7,213.1 L365.7,214.2 L366.8,215.7 L368.0,217.3 L369.1,219.0 L370.2,220.8 L371.3,222.4 L372.4,223.8 L373.4,225.0 L374.4,225.9 L375.3,226.4 L376.2,226.5 L370.5,227.3 L369.6,227.2 L368.7,226.7 L367.7,225.9 L366.7,224.7 L365.6,223.3 L364.5,221.6 L363.3,219.9 L362.2,218.2 L361.1,216.6 L359.9,215.2 L358.9,214.0 L357.8,213.2 L356.9,212.7 L355.9,212.7Z" fill="#ec1c24" stroke="#ec1c24" stroke-width="1.2" stroke-linejoin="round"/>
<path d="M389.5,207.8 L390.4,207.9 L391.3,208.5 L392.3,209.3 L393.3,210.6 L394.4,212.0 L395.4,213.7 L396.5,215.5 L397.6,217.2 L398.6,218.9 L399.6,220.4 L400.6,221.6 L401.6,222.5 L402.5,223.0 L403.4,223.1 L397.7,223.8 L396.8,223.7 L395.9,223.2 L394.9,222.3 L393.9,221.0 L392.9,219.6 L391.8,217.9 L390.7,216.1 L389.7,214.4 L388.6,212.7 L387.5,211.3 L386.5,210.0 L385.6,209.2 L384.6,208.6 L383.7,208.5Z" fill="#ec1c24" stroke="#ec1c24" stroke-width="1.2" stroke-linejoin="round"/>
<path d="M418.0,205.3 L418.9,205.5 L419.8,206.1 L420.7,207.1 L421.6,208.5 L422.4,210.1 L423.2,211.9 L424.1,213.8 L424.9,215.6 L425.7,217.4 L426.6,219.0 L427.5,220.4 L428.4,221.4 L429.3,222.0 L430.3,222.2 L424.1,222.2 L423.3,221.9 L422.4,221.3 L421.6,220.3 L420.8,219.0 L420.0,217.4 L419.1,215.6 L418.3,213.7 L417.4,211.8 L416.5,210.1 L415.6,208.5 L414.6,207.2 L413.7,206.2 L412.7,205.7 L411.8,205.5Z" fill="#ec1c24" stroke="#ec1c24" stroke-width="1.2" stroke-linejoin="round"/>
<path d="M444.3,203.9 L445.2,204.0 L446.1,204.4 L447.1,205.3 L448.1,206.5 L449.2,207.9 L450.4,209.5 L451.5,211.2 L452.7,212.9 L453.9,214.5 L455.0,215.9 L456.1,217.1 L457.1,217.9 L458.1,218.3 L459.0,218.4 L453.2,219.4 L452.3,219.4 L451.3,218.9 L450.3,218.1 L449.2,216.9 L448.1,215.5 L447.0,213.9 L445.8,212.2 L444.7,210.4 L443.6,208.8 L442.5,207.4 L441.5,206.2 L440.5,205.3 L439.6,204.8 L438.8,204.7Z" fill="#ec1c24" stroke="#ec1c24" stroke-width="1.2" stroke-linejoin="round"/>
<path d="M471.1,198.9 L472.0,198.9 L472.9,199.3 L474.0,200.2 L475.1,201.3 L476.2,202.7 L477.4,204.2 L478.7,205.9 L479.9,207.5 L481.1,209.1 L482.3,210.5 L483.4,211.6 L484.4,212.4 L485.4,212.8 L486.3,212.9 L480.6,214.1 L479.7,214.0 L478.7,213.6 L477.7,212.8 L476.6,211.7 L475.4,210.3 L474.2,208.7 L473.0,207.1 L471.8,205.4 L470.6,203.8 L469.4,202.4 L468.3,201.3 L467.3,200.5 L466.3,200.1 L465.5,200.0Z" fill="#ec1c24" stroke="#ec1c24" stroke-width="1.2" stroke-linejoin="round"/>
<path d="M497.9,193.1 L498.8,193.1 L499.7,193.6 L500.8,194.3 L501.9,195.4 L503.1,196.8 L504.4,198.3 L505.7,199.9 L506.9,201.5 L508.2,203.0 L509.4,204.3 L510.6,205.4 L511.7,206.2 L512.7,206.5 L513.6,206.5 L507.9,208.0 L507.0,208.0 L506.0,207.6 L504.9,206.8 L503.8,205.8 L502.5,204.4 L501.3,202.9 L500.0,201.3 L498.8,199.6 L497.5,198.1 L496.3,196.7 L495.2,195.6 L494.2,194.8 L493.2,194.4 L492.4,194.4Z" fill="#ec1c24" stroke="#ec1c24" stroke-width="1.2" stroke-linejoin="round"/>
<path d="M148.0,222.1 L148.6,222.7 L147.9,222.3Z" fill="#f7941e" stroke="#f7941e" stroke-width="1.2" stroke-linejoin="round"/>
<path d="M169.9,215.7 L170.5,216.2 L171.0,217.1 L171.3,218.4 L171.5,219.9 L171.6,221.7 L171.7,223.7 L171.7,225.7 L171.8,227.8 L171.9,229.8 L172.1,231.6 L172.4,233.1 L172.8,234.4 L173.3,235.3 L174.1,235.8 L168.6,233.5 L167.9,233.0 L167.3,232.1 L166.9,230.8 L166.6,229.2 L166.5,227.4 L166.4,225.4 L166.4,223.4 L166.5,221.3 L166.5,219.4 L166.5,217.6 L166.5,216.0 L166.3,214.8 L165.9,213.9 L165.3,213.3Z" fill="#f7941e" stroke="#f7941e" stroke-width="1.2" stroke-linejoin="round"/>
<path d="M194.8,226.0 L195.5,226.5 L196.1,227.3 L196.5,228.6 L196.9,230.1 L197.1,231.9 L197.3,233.9 L197.4,235.9 L197.6,238.0 L197.8,239.9 L198.1,241.7 L198.4,243.3 L198.9,244.5 L199.5,245.4 L200.3,245.9 L194.7,243.9 L194.0,243.4 L193.4,242.5 L192.9,241.2 L192.6,239.7 L192.3,237.9 L192.1,235.9 L192.0,233.9 L191.9,231.8 L191.7,229.9 L191.5,228.1 L191.2,226.5 L190.7,225.3 L190.2,224.4 L189.5,223.9Z" fill="#f7941e" stroke="#f7941e" stroke-width="1.2" stroke-linejoin="round"/>
<path d="M220.8,235.3 L221.5,235.8 L222.1,236.7 L222.6,237.9 L222.9,239.5 L223.1,241.2 L223.3,243.2 L223.5,245.3 L223.6,247.3 L223.8,249.3 L224.0,251.1 L224.4,252.6 L224.8,253.9 L225.5,254.8 L226.2,255.3 L220.7,253.2 L219.9,252.7 L219.4,251.8 L218.9,250.6 L218.6,249.0 L218.3,247.2 L218.2,245.3 L218.0,243.2 L217.9,241.2 L217.7,239.2 L217.4,237.4 L217.0,235.8 L216.5,234.6 L215.9,233.7 L215.1,233.2Z" fill="#f7941e" stroke="#f7941e" stroke-width="1.2" stroke-linejoin="round"/>
<path d="M245.8,243.6 L246.5,244.0 L247.1,244.7 L247.7,245.8 L248.2,247.3 L248.8,248.9 L249.4,250.8 L250.0,252.8 L250.7,254.7 L251.5,256.5 L252.3,258.2 L253.2,259.5 L254.2,260.6 L255.2,261.2 L256.2,261.4 L249.4,261.1 L248.4,260.8 L247.5,260.1 L246.7,259.0 L246.0,257.5 L245.3,255.8 L244.7,253.9 L244.3,251.9 L243.8,249.9 L243.4,247.9 L243.0,246.2 L242.5,244.7 L242.0,243.6 L241.4,242.8 L240.7,242.4Z" fill="#f7941e" stroke="#f7941e" stroke-width="1.2" stroke-linejoin="round"/>
<path d="M269.2,242.4 L270.0,242.4 L271.0,242.8 L272.0,243.5 L273.2,244.6 L274.4,245.9 L275.8,247.3 L277.1,248.8 L278.5,250.3 L279.9,251.7 L281.3,253.0 L282.5,254.0 L283.7,254.6 L284.7,254.9 L285.6,254.8 L279.9,256.8 L279.0,256.8 L277.9,256.5 L276.8,255.8 L275.5,254.8 L274.2,253.5 L272.9,252.0 L271.6,250.5 L270.3,248.9 L269.0,247.4 L267.9,246.0 L266.8,244.9 L265.8,244.1 L264.9,243.7 L264.1,243.6Z" fill="#f7941e" stroke="#f7941e" stroke-width="1.2" stroke-linejoin="round"/>
<path d="M295.0,233.8 L295.8,233.8 L296.7,234.1 L297.8,234.8 L299.0,235.7 L300.4,236.9 L301.8,238.3 L303.3,239.7 L304.8,241.1 L306.2,242.5 L307.6,243.6 L309.0,244.5 L310.2,245.0 L311.3,245.3 L312.1,245.1 L306.5,247.5 L305.6,247.6 L304.6,247.3 L303.3,246.7 L302.0,245.8 L300.7,244.6 L299.2,243.2 L297.8,241.7 L296.4,240.2 L295.1,238.8 L293.7,237.6 L292.5,236.6 L291.3,235.9 L290.3,235.6 L289.4,235.7Z" fill="#f7941e" stroke="#f7941e" stroke-width="1.2" stroke-linejoin="round"/>
<path d="M319.7,223.3 L320.6,223.2 L321.7,223.4 L322.9,224.0 L324.2,224.8 L325.7,226.0 L327.1,227.3 L328.6,228.7 L330.1,230.2 L331.5,231.5 L332.9,232.7 L334.1,233.7 L335.2,234.3 L336.2,234.6 L337.0,234.6 L331.9,236.5 L331.0,236.6 L330.1,236.3 L328.9,235.7 L327.6,234.8 L326.3,233.6 L324.8,232.3 L323.3,230.9 L321.7,229.6 L320.2,228.3 L318.8,227.2 L317.5,226.3 L316.2,225.8 L315.2,225.6 L314.3,225.7Z" fill="#f7941e" stroke="#f7941e" stroke-width="1.2" stroke-linejoin="round"/>
<path d="M347.6,214.3 L348.5,214.3 L349.5,214.8 L350.6,215.6 L351.7,216.7 L352.8,218.1 L354.0,219.7 L355.2,221.4 L356.4,223.0 L357.6,224.6 L358.7,226.0 L359.7,227.2 L360.7,228.0 L361.7,228.5 L362.5,228.6 L357.0,229.6 L356.1,229.5 L355.2,229.1 L354.2,228.2 L353.1,227.1 L351.9,225.7 L350.8,224.1 L349.5,222.5 L348.3,220.8 L347.1,219.3 L345.9,217.9 L344.7,216.8 L343.6,216.1 L342.6,215.7 L341.7,215.7Z" fill="#f7941e" stroke="#f7941e" stroke-width="1.2" stroke-linejoin="round"/>
<path d="M375.5,209.6 L376.3,209.7 L377.3,210.2 L378.3,211.1 L379.3,212.3 L380.4,213.8 L381.5,215.4 L382.5,217.2 L383.6,218.9 L384.7,220.6 L385.7,222.0 L386.8,223.3 L387.7,224.1 L388.7,224.7 L389.5,224.8 L383.8,225.5 L382.9,225.4 L382.0,224.9 L381.1,224.0 L380.0,222.8 L379.0,221.3 L377.9,219.7 L376.8,217.9 L375.7,216.2 L374.6,214.6 L373.5,213.1 L372.5,211.9 L371.5,211.0 L370.5,210.5 L369.6,210.5Z" fill="#f7941e" stroke="#f7941e" stroke-width="1.2" stroke-linejoin="round"/>
<path d="M403.1,206.3 L404.0,206.4 L404.9,206.9 L405.9,207.8 L407.0,209.0 L408.0,210.5 L409.0,212.2 L410.0,214.0 L411.0,215.8 L411.9,217.5 L412.9,219.1 L413.7,220.4 L414.6,221.3 L415.4,221.9 L416.2,222.1 L410.8,222.4 L410.0,222.2 L409.2,221.7 L408.3,220.8 L407.3,219.5 L406.3,218.0 L405.3,216.3 L404.2,214.6 L403.2,212.8 L402.1,211.2 L401.1,209.7 L400.1,208.4 L399.1,207.5 L398.2,207.0 L397.3,206.9Z" fill="#f7941e" stroke="#f7941e" stroke-width="1.2" stroke-linejoin="round"/>
<path d="M431.3,205.3 L432.1,205.5 L432.9,206.1 L433.8,207.0 L434.7,208.3 L435.6,209.8 L436.6,211.5 L437.6,213.3 L438.7,215.0 L439.8,216.7 L440.9,218.2 L441.9,219.4 L442.9,220.2 L443.9,220.7 L444.8,220.8 L438.7,221.6 L437.8,221.5 L436.8,221.0 L435.8,220.0 L434.8,218.8 L433.8,217.3 L432.8,215.5 L431.9,213.7 L430.9,211.9 L430.1,210.1 L429.2,208.5 L428.4,207.2 L427.6,206.2 L426.8,205.6 L425.9,205.4Z" fill="#f7941e" stroke="#f7941e" stroke-width="1.2" stroke-linejoin="round"/>
<path d="M457.4,201.6 L458.3,201.6 L459.3,202.1 L460.3,202.9 L461.4,204.0 L462.5,205.4 L463.7,207.0 L464.9,208.7 L466.1,210.4 L467.3,211.9 L468.5,213.3 L469.6,214.5 L470.6,215.3 L471.6,215.7 L472.5,215.7 L466.7,216.9 L465.8,216.9 L464.9,216.4 L463.8,215.6 L462.7,214.5 L461.6,213.1 L460.4,211.5 L459.2,209.8 L458.0,208.1 L456.8,206.5 L455.7,205.1 L454.6,204.0 L453.6,203.1 L452.7,202.7 L451.8,202.6Z" fill="#f7941e" stroke="#f7941e" stroke-width="1.2" stroke-linejoin="round"/>
<path d="M484.4,196.1 L485.3,196.1 L486.2,196.6 L487.3,197.4 L488.4,198.5 L489.5,199.9 L490.7,201.4 L492.0,203.1 L493.2,204.7 L494.4,206.3 L495.6,207.6 L496.8,208.8 L497.8,209.5 L498.8,210.0 L499.7,210.0 L493.9,211.2 L493.0,211.2 L492.1,210.8 L491.0,210.0 L489.9,208.9 L488.7,207.5 L487.5,205.9 L486.3,204.3 L485.1,202.6 L483.9,201.1 L482.7,199.7 L481.6,198.6 L480.5,197.8 L479.6,197.3 L478.7,197.3Z" fill="#f7941e" stroke="#f7941e" stroke-width="1.2" stroke-linejoin="round"/>
<path d="M510.9,189.9 L511.8,189.9 L512.0,189.9 L514.6,191.7 L515.1,192.1 L516.3,193.4 L517.5,194.9 L518.8,196.5 L520.1,198.1 L521.4,199.7 L522.6,201.0 L523.7,202.1 L524.8,202.9 L525.8,203.3 L526.6,203.3 L521.0,204.6 L520.2,204.6 L519.2,204.2 L518.1,203.5 L517.0,202.4 L515.8,201.1 L514.5,199.6 L513.2,198.0 L511.9,196.4 L510.6,194.8 L509.4,193.5 L508.3,192.4 L507.2,191.7 L506.2,191.3 L505.3,191.3Z" fill="#f7941e" stroke="#f7941e" stroke-width="1.2" stroke-linejoin="round"/>
<path d="M451.7,252.2 C438,251 424,246 419.4,240 C416.5,236 415.2,231 415,227 L406.2,227 L425.8,205.7 L444.5,226.6 L435.6,227 C436.5,233 439,240 443.9,244.4 C446,246.5 448.5,248 451.7,249 Z" fill="#a7d8f5"/>
<clipPath id="cR"><rect x="427.5" y="195" width="25" height="45"/></clipPath><g clip-path="url(#cR)"><path d="M155.5,208.8 L156.2,208.7 L157.6,208.8 L158.8,209.2 L156.1,207.7Z" fill="#a0141b" stroke="#a0141b" stroke-width="1.2" stroke-linejoin="round"/>
<path d="M160.9,230.0 L162.1,230.4 L163.5,230.4 L165.0,230.0 L166.6,229.2 L168.3,228.2 L170.1,227.1 L171.8,225.8 L173.6,224.5 L175.3,223.3 L176.9,222.3 L178.5,221.5 L179.9,221.0 L181.1,220.8 L182.2,221.0 L177.2,218.9 L176.1,218.7 L174.8,218.8 L173.4,219.3 L171.9,220.1 L170.2,221.1 L168.5,222.3 L166.7,223.5 L164.9,224.7 L163.1,225.8 L161.3,226.7 L159.6,227.3 L158.0,227.5 L156.6,227.4 L155.5,227.0Z" fill="#a0141b" stroke="#a0141b" stroke-width="1.2" stroke-linejoin="round"/>
<path d="M187.2,241.0 L188.4,241.3 L189.6,241.1 L191.0,240.5 L192.6,239.7 L194.2,238.6 L195.9,237.3 L197.6,236.0 L199.2,234.6 L200.9,233.3 L202.5,232.2 L204.0,231.3 L205.4,230.7 L206.6,230.5 L207.7,230.7 L202.5,228.8 L201.4,228.7 L200.2,228.9 L198.8,229.4 L197.3,230.3 L195.7,231.4 L194.0,232.6 L192.3,234.0 L190.6,235.3 L188.9,236.6 L187.3,237.7 L185.8,238.5 L184.3,239.0 L183.1,239.2 L181.9,239.0Z" fill="#a0141b" stroke="#a0141b" stroke-width="1.2" stroke-linejoin="round"/>
<path d="M213.4,250.4 L214.4,250.6 L215.7,250.4 L217.1,249.9 L218.6,249.0 L220.2,247.9 L221.9,246.7 L223.6,245.3 L225.3,244.0 L226.9,242.7 L228.5,241.6 L230.0,240.7 L231.4,240.1 L232.6,239.9 L233.7,240.1 L228.6,238.2 L227.5,238.0 L226.2,238.2 L224.9,238.8 L223.3,239.6 L221.7,240.7 L220.0,242.0 L218.3,243.3 L216.6,244.7 L215.0,246.0 L213.4,247.1 L211.9,248.0 L210.6,248.6 L209.4,248.8 L208.3,248.7Z" fill="#a0141b" stroke="#a0141b" stroke-width="1.2" stroke-linejoin="round"/>
<path d="M240.5,259.6 L241.8,259.7 L243.1,259.4 L244.5,258.6 L246.0,257.5 L247.4,256.1 L248.8,254.5 L250.1,252.8 L251.4,251.0 L252.5,249.3 L253.6,247.7 L254.6,246.4 L255.6,245.4 L256.5,244.8 L257.4,244.5 L252.8,244.6 L251.8,244.7 L250.8,245.2 L249.8,246.1 L248.6,247.3 L247.4,248.7 L246.0,250.3 L244.6,251.9 L243.1,253.5 L241.6,255.0 L240.0,256.3 L238.6,257.3 L237.2,257.9 L235.8,258.2 L234.6,258.1Z" fill="#a0141b" stroke="#a0141b" stroke-width="1.2" stroke-linejoin="round"/>
<path d="M271.8,259.1 L272.9,258.6 L273.9,257.7 L274.8,256.4 L275.5,254.8 L276.2,252.9 L276.8,250.9 L277.3,248.8 L277.8,246.7 L278.2,244.6 L278.8,242.8 L279.4,241.2 L280.1,239.9 L280.9,238.9 L281.9,238.3 L276.7,240.1 L275.8,240.7 L275.0,241.6 L274.2,242.8 L273.6,244.4 L273.0,246.3 L272.5,248.3 L271.9,250.4 L271.3,252.5 L270.6,254.5 L269.8,256.3 L269.0,257.9 L268.0,259.1 L266.9,260.0 L265.7,260.4Z" fill="#a0141b" stroke="#a0141b" stroke-width="1.2" stroke-linejoin="round"/>
<path d="M298.7,250.3 L299.7,249.7 L300.6,248.8 L301.4,247.4 L302.0,245.8 L302.6,243.9 L303.0,241.8 L303.4,239.7 L303.7,237.5 L304.1,235.5 L304.4,233.6 L304.9,231.9 L305.5,230.6 L306.3,229.6 L307.2,228.9 L302.2,231.1 L301.3,231.7 L300.6,232.6 L300.0,234.0 L299.4,235.6 L299.0,237.5 L298.6,239.5 L298.1,241.6 L297.7,243.8 L297.1,245.8 L296.6,247.6 L296.0,249.3 L295.3,250.6 L294.5,251.5 L293.5,252.1Z" fill="#a0141b" stroke="#a0141b" stroke-width="1.2" stroke-linejoin="round"/>
<path d="M324.9,239.4 L325.8,238.8 L326.6,237.8 L327.2,236.4 L327.6,234.8 L328.1,232.9 L328.4,230.8 L328.7,228.7 L329.1,226.5 L329.5,224.5 L330.1,222.6 L330.7,220.9 L331.5,219.6 L332.4,218.6 L333.5,218.0 L327.9,220.0 L326.8,220.6 L325.9,221.6 L325.2,223.0 L324.7,224.7 L324.2,226.6 L323.9,228.7 L323.6,230.8 L323.3,233.0 L323.0,235.0 L322.6,236.9 L322.2,238.6 L321.6,240.0 L320.8,241.0 L319.9,241.6Z" fill="#a0141b" stroke="#a0141b" stroke-width="1.2" stroke-linejoin="round"/>
<path d="M349.5,231.1 L350.5,230.7 L351.4,229.8 L352.3,228.6 L353.1,227.1 L353.8,225.3 L354.6,223.4 L355.3,221.3 L356.1,219.3 L356.9,217.3 L357.7,215.6 L358.6,214.1 L359.6,212.9 L360.6,212.1 L361.7,211.7 L356.0,212.7 L355.0,213.1 L353.9,213.9 L353.0,215.1 L352.1,216.6 L351.3,218.4 L350.6,220.4 L349.9,222.4 L349.1,224.5 L348.5,226.5 L347.7,228.2 L347.0,229.8 L346.2,231.0 L345.3,231.9 L344.4,232.3Z" fill="#a0141b" stroke="#a0141b" stroke-width="1.2" stroke-linejoin="round"/>
<path d="M376.1,226.5 L377.1,226.1 L378.2,225.4 L379.1,224.2 L380.0,222.8 L380.9,221.1 L381.8,219.1 L382.7,217.1 L383.5,215.2 L384.4,213.3 L385.3,211.5 L386.3,210.1 L387.3,208.9 L388.3,208.2 L389.4,207.8 L383.8,208.5 L382.7,208.9 L381.7,209.6 L380.7,210.8 L379.8,212.2 L378.9,214.0 L378.0,215.9 L377.1,217.9 L376.3,219.9 L375.4,221.8 L374.5,223.5 L373.6,225.0 L372.7,226.2 L371.7,226.9 L370.6,227.3Z" fill="#a0141b" stroke="#a0141b" stroke-width="1.2" stroke-linejoin="round"/>
<path d="M403.3,223.1 L404.4,222.8 L405.4,222.1 L406.4,221.0 L407.3,219.5 L408.2,217.8 L409.2,216.0 L410.1,214.0 L411.1,212.1 L412.2,210.2 L413.2,208.6 L414.4,207.2 L415.5,206.2 L416.7,205.5 L417.9,205.3 L411.9,205.5 L410.7,205.8 L409.6,206.5 L408.5,207.6 L407.4,209.0 L406.4,210.7 L405.5,212.6 L404.6,214.5 L403.7,216.5 L402.8,218.4 L401.8,220.1 L400.9,221.6 L399.9,222.7 L398.8,223.4 L397.8,223.8Z" fill="#a0141b" stroke="#a0141b" stroke-width="1.2" stroke-linejoin="round"/>
<path d="M430.1,222.2 L431.4,221.9 L432.5,221.3 L433.7,220.2 L434.8,218.8 L435.8,217.1 L436.8,215.2 L437.8,213.3 L438.7,211.3 L439.5,209.4 L440.4,207.7 L441.3,206.2 L442.2,205.1 L443.2,204.3 L444.2,203.9 L438.9,204.7 L437.9,205.0 L437.0,205.7 L436.0,206.8 L435.1,208.3 L434.1,209.9 L433.2,211.8 L432.2,213.7 L431.1,215.6 L430.0,217.4 L428.9,219.0 L427.7,220.4 L426.5,221.4 L425.4,222.0 L424.2,222.2Z" fill="#a0141b" stroke="#a0141b" stroke-width="1.2" stroke-linejoin="round"/>
<path d="M458.9,218.4 L460.0,218.0 L460.9,217.2 L461.9,216.0 L462.7,214.5 L463.5,212.7 L464.3,210.7 L465.0,208.7 L465.8,206.6 L466.5,204.7 L467.3,202.9 L468.1,201.4 L469.0,200.2 L470.0,199.3 L471.0,198.9 L465.6,200.0 L464.5,200.4 L463.5,201.2 L462.6,202.4 L461.8,204.0 L461.0,205.7 L460.3,207.7 L459.5,209.7 L458.8,211.8 L458.0,213.7 L457.2,215.5 L456.3,217.0 L455.4,218.2 L454.4,219.0 L453.3,219.4Z" fill="#a0141b" stroke="#a0141b" stroke-width="1.2" stroke-linejoin="round"/>
<path d="M486.2,212.9 L487.2,212.5 L488.2,211.6 L489.1,210.4 L489.9,208.9 L490.7,207.1 L491.4,205.1 L492.1,203.1 L492.8,201.0 L493.5,199.0 L494.2,197.2 L495.0,195.7 L495.9,194.5 L496.8,193.6 L497.8,193.2 L492.5,194.4 L491.4,194.8 L490.5,195.7 L489.6,196.9 L488.8,198.4 L488.1,200.2 L487.3,202.2 L486.6,204.2 L485.9,206.3 L485.2,208.2 L484.4,210.0 L483.6,211.6 L482.7,212.8 L481.7,213.6 L480.7,214.0Z" fill="#a0141b" stroke="#a0141b" stroke-width="1.2" stroke-linejoin="round"/>
<path d="M513.5,206.6 L514.5,206.1 L515.4,205.2 L516.2,204.0 L517.0,202.4 L517.7,200.6 L518.3,198.6 L519.0,196.5 L519.4,194.9 L515.4,192.2 L514.8,193.8 L514.1,195.8 L513.5,197.9 L512.9,200.0 L512.3,202.0 L511.6,203.8 L510.8,205.3 L510.0,206.6 L509.0,207.5 L508.0,208.0Z" fill="#a0141b" stroke="#a0141b" stroke-width="1.2" stroke-linejoin="round"/>
<path d="M147.9,222.3 L148.5,222.7 L149.5,223.0 L150.6,223.0 L152.0,222.7 L153.7,222.1 L155.5,221.4 L157.4,220.5 L159.3,219.5 L161.2,218.5 L163.1,217.5 L164.7,216.6 L166.3,215.9 L167.6,215.5 L168.8,215.4 L169.8,215.7 L165.4,213.4 L164.5,213.0 L163.3,213.0 L161.9,213.3 L160.2,213.9 L158.4,214.6 L156.5,215.5 L154.6,216.5 L152.7,217.5 L150.8,218.5 L149.7,219.1Z" fill="#c6691d" stroke="#c6691d" stroke-width="1.2" stroke-linejoin="round"/>
<path d="M174.0,235.8 L175.1,236.0 L176.4,235.9 L177.8,235.4 L179.4,234.6 L181.0,233.5 L182.7,232.3 L184.4,230.9 L186.2,229.6 L187.8,228.4 L189.5,227.3 L191.0,226.4 L192.4,225.9 L193.6,225.7 L194.7,225.9 L189.6,223.9 L188.5,223.7 L187.2,223.9 L185.8,224.4 L184.3,225.3 L182.7,226.3 L181.0,227.6 L179.2,228.9 L177.5,230.2 L175.8,231.4 L174.1,232.4 L172.6,233.2 L171.1,233.7 L169.8,233.8 L168.7,233.6Z" fill="#c6691d" stroke="#c6691d" stroke-width="1.2" stroke-linejoin="round"/>
<path d="M200.2,245.8 L201.3,246.0 L202.6,245.8 L204.0,245.2 L205.5,244.4 L207.1,243.2 L208.7,241.9 L210.4,240.5 L212.0,239.1 L213.7,237.8 L215.3,236.6 L216.8,235.8 L218.2,235.2 L219.5,235.0 L220.7,235.2 L215.2,233.3 L214.0,233.1 L212.8,233.3 L211.4,233.9 L209.9,234.8 L208.4,236.0 L206.8,237.3 L205.1,238.7 L203.4,240.1 L201.7,241.4 L200.1,242.5 L198.6,243.3 L197.2,243.9 L195.9,244.1 L194.8,243.9Z" fill="#c6691d" stroke="#c6691d" stroke-width="1.2" stroke-linejoin="round"/>
<path d="M226.1,255.2 L227.3,255.4 L228.6,255.2 L230.0,254.6 L231.5,253.8 L233.1,252.6 L234.8,251.3 L236.4,249.8 L238.0,248.4 L239.5,247.0 L241.0,245.7 L242.3,244.7 L243.6,244.0 L244.7,243.6 L245.7,243.6 L240.8,242.4 L239.8,242.3 L238.6,242.6 L237.3,243.2 L235.9,244.2 L234.4,245.3 L232.7,246.7 L231.1,248.1 L229.4,249.5 L227.7,250.7 L226.1,251.8 L224.6,252.7 L223.2,253.2 L221.9,253.4 L220.8,253.2Z" fill="#c6691d" stroke="#c6691d" stroke-width="1.2" stroke-linejoin="round"/>
<path d="M256.0,261.4 L257.3,261.1 L258.6,260.4 L259.8,259.3 L260.9,257.9 L261.9,256.2 L262.8,254.3 L263.7,252.2 L264.4,250.2 L265.1,248.3 L265.8,246.5 L266.6,245.0 L267.3,243.8 L268.2,242.9 L269.1,242.4 L264.2,243.6 L263.3,244.0 L262.4,244.8 L261.6,245.9 L260.8,247.4 L259.9,249.1 L259.1,250.9 L258.1,252.9 L257.1,254.8 L255.9,256.6 L254.7,258.2 L253.5,259.6 L252.1,260.5 L250.8,261.0 L249.5,261.1Z" fill="#c6691d" stroke="#c6691d" stroke-width="1.2" stroke-linejoin="round"/>
<path d="M285.5,254.9 L286.5,254.3 L287.4,253.3 L288.1,252.0 L288.7,250.4 L289.2,248.5 L289.7,246.5 L290.1,244.3 L290.6,242.2 L291.0,240.2 L291.6,238.3 L292.2,236.7 L293.0,235.3 L293.9,234.4 L294.9,233.9 L289.5,235.7 L288.5,236.2 L287.6,237.2 L286.9,238.5 L286.3,240.2 L285.7,242.0 L285.3,244.1 L284.8,246.2 L284.4,248.3 L283.9,250.4 L283.4,252.3 L282.7,253.9 L282.0,255.2 L281.0,256.2 L280.0,256.7Z" fill="#c6691d" stroke="#c6691d" stroke-width="1.2" stroke-linejoin="round"/>
<path d="M312.1,245.2 L313.0,244.5 L313.8,243.5 L314.5,242.1 L314.9,240.4 L315.3,238.5 L315.6,236.4 L315.8,234.2 L316.1,232.1 L316.4,230.0 L316.8,228.1 L317.2,226.4 L317.9,225.0 L318.7,224.0 L319.6,223.4 L314.4,225.7 L313.5,226.3 L312.7,227.4 L312.1,228.7 L311.6,230.4 L311.3,232.3 L311.0,234.4 L310.7,236.6 L310.5,238.7 L310.1,240.8 L309.7,242.7 L309.2,244.4 L308.5,245.8 L307.7,246.8 L306.6,247.4Z" fill="#c6691d" stroke="#c6691d" stroke-width="1.2" stroke-linejoin="round"/>
<path d="M336.9,234.6 L337.8,234.1 L338.6,233.1 L339.3,231.9 L339.9,230.3 L340.5,228.5 L341.0,226.5 L341.6,224.4 L342.2,222.3 L342.9,220.3 L343.7,218.4 L344.5,216.9 L345.4,215.6 L346.4,214.8 L347.5,214.3 L341.8,215.7 L340.6,216.2 L339.6,217.1 L338.8,218.3 L338.0,219.9 L337.3,221.8 L336.8,223.8 L336.3,226.0 L335.8,228.1 L335.3,230.1 L334.8,232.0 L334.3,233.6 L333.7,234.9 L332.9,235.8 L332.0,236.4Z" fill="#c6691d" stroke="#c6691d" stroke-width="1.2" stroke-linejoin="round"/>
<path d="M362.4,228.6 L363.5,228.2 L364.4,227.4 L365.4,226.3 L366.3,224.8 L367.1,223.0 L367.9,221.1 L368.8,219.1 L369.6,217.1 L370.4,215.1 L371.3,213.4 L372.3,211.9 L373.2,210.8 L374.3,210.0 L375.4,209.6 L369.7,210.4 L368.7,210.8 L367.6,211.6 L366.6,212.8 L365.7,214.2 L364.9,216.0 L364.0,217.9 L363.2,220.0 L362.4,222.0 L361.6,223.9 L360.8,225.7 L360.0,227.2 L359.1,228.3 L358.1,229.2 L357.1,229.6Z" fill="#c6691d" stroke="#c6691d" stroke-width="1.2" stroke-linejoin="round"/>
<path d="M389.4,224.8 L390.5,224.4 L391.5,223.7 L392.5,222.6 L393.5,221.1 L394.4,219.4 L395.3,217.5 L396.2,215.5 L397.1,213.5 L398.0,211.6 L398.9,209.9 L399.9,208.5 L400.9,207.4 L401.9,206.6 L403.0,206.3 L397.4,206.9 L396.3,207.2 L395.3,208.0 L394.3,209.1 L393.3,210.6 L392.4,212.3 L391.5,214.2 L390.6,216.2 L389.7,218.2 L388.8,220.0 L387.9,221.8 L387.0,223.2 L386.0,224.4 L385.0,225.1 L383.9,225.5Z" fill="#c6691d" stroke="#c6691d" stroke-width="1.2" stroke-linejoin="round"/>
<path d="M416.1,222.1 L417.2,221.9 L418.2,221.3 L419.3,220.3 L420.3,218.9 L421.4,217.4 L422.6,215.6 L423.7,213.8 L424.9,211.9 L426.0,210.1 L427.1,208.6 L428.2,207.2 L429.2,206.2 L430.2,205.6 L431.2,205.3 L426.0,205.4 L425.0,205.6 L423.8,206.2 L422.7,207.2 L421.6,208.5 L420.4,210.1 L419.3,211.8 L418.1,213.7 L417.0,215.6 L416.0,217.4 L415.0,219.0 L413.9,220.4 L412.9,221.4 L412.0,222.1 L410.9,222.4Z" fill="#c6691d" stroke="#c6691d" stroke-width="1.2" stroke-linejoin="round"/>
<path d="M444.7,220.8 L445.8,220.4 L446.9,219.7 L447.8,218.5 L448.8,217.0 L449.6,215.2 L450.4,213.3 L451.2,211.3 L452.0,209.2 L452.8,207.3 L453.6,205.5 L454.4,204.0 L455.3,202.8 L456.3,202.0 L457.3,201.6 L451.9,202.6 L450.9,203.0 L449.9,203.8 L449.0,205.0 L448.1,206.5 L447.3,208.2 L446.5,210.2 L445.7,212.2 L444.9,214.2 L444.0,216.1 L443.1,217.9 L442.2,219.3 L441.1,220.5 L440.0,221.2 L438.8,221.6Z" fill="#c6691d" stroke="#c6691d" stroke-width="1.2" stroke-linejoin="round"/>
<path d="M472.4,215.8 L473.4,215.3 L474.4,214.5 L475.3,213.3 L476.1,211.8 L476.9,210.0 L477.6,208.0 L478.3,206.0 L479.1,203.9 L479.8,201.9 L480.6,200.1 L481.4,198.6 L482.3,197.4 L483.2,196.6 L484.3,196.1 L478.8,197.3 L477.8,197.7 L476.8,198.5 L475.9,199.8 L475.1,201.3 L474.3,203.1 L473.6,205.0 L472.9,207.1 L472.1,209.1 L471.4,211.1 L470.6,212.9 L469.8,214.4 L468.9,215.6 L467.9,216.5 L466.8,216.9Z" fill="#c6691d" stroke="#c6691d" stroke-width="1.2" stroke-linejoin="round"/>
<path d="M499.6,210.0 L500.7,209.5 L501.7,208.7 L502.5,207.4 L503.3,205.9 L504.0,204.0 L504.7,202.0 L505.3,200.0 L506.0,197.9 L506.6,195.9 L507.3,194.1 L508.0,192.5 L508.9,191.3 L509.8,190.4 L510.8,189.9 L505.4,191.3 L504.4,191.8 L503.5,192.6 L502.7,193.9 L501.9,195.4 L501.2,197.2 L500.5,199.2 L499.9,201.3 L499.2,203.4 L498.5,205.4 L497.8,207.2 L497.0,208.7 L496.1,209.9 L495.1,210.8 L494.0,211.2Z" fill="#c6691d" stroke="#c6691d" stroke-width="1.2" stroke-linejoin="round"/>
<path d="M526.5,203.3 L527.6,202.8 L528.5,202.0 L528.9,201.4 L525.3,199.0 L524.7,200.5 L523.9,202.0 L523.1,203.3 L522.2,204.1 L521.1,204.6Z" fill="#c6691d" stroke="#c6691d" stroke-width="1.2" stroke-linejoin="round"/>
<path d="M156.1,207.7 L158.9,209.3 L159.6,210.0 L160.0,211.0 L160.2,212.3 L160.2,213.9 L160.1,215.7 L159.8,217.6 L159.6,219.7 L159.4,221.7 L159.2,223.7 L159.2,225.5 L159.4,227.1 L159.7,228.5 L160.3,229.5 L161.0,230.1 L155.4,226.9 L154.7,226.3 L154.3,225.3 L154.0,223.9 L154.0,222.3 L154.2,220.6 L154.4,218.6 L154.7,216.6 L154.9,214.5 L155.0,212.5 L155.0,210.7 L155.0,209.7Z" fill="#ec1c24" stroke="#ec1c24" stroke-width="1.2" stroke-linejoin="round"/>
<path d="M182.3,221.1 L183.0,221.6 L183.6,222.5 L184.0,223.7 L184.3,225.3 L184.5,227.0 L184.6,229.0 L184.7,231.1 L184.8,233.1 L185.0,235.1 L185.2,236.9 L185.6,238.4 L186.0,239.7 L186.6,240.6 L187.3,241.1 L181.8,239.0 L181.1,238.4 L180.5,237.5 L180.1,236.3 L179.8,234.7 L179.6,232.9 L179.4,231.0 L179.3,228.9 L179.3,226.9 L179.1,224.9 L179.0,223.1 L178.7,221.5 L178.3,220.3 L177.8,219.4 L177.1,218.9Z" fill="#ec1c24" stroke="#ec1c24" stroke-width="1.2" stroke-linejoin="round"/>
<path d="M207.8,230.7 L208.5,231.2 L209.1,232.1 L209.6,233.3 L209.9,234.8 L210.2,236.6 L210.5,238.6 L210.7,240.6 L210.9,242.6 L211.1,244.6 L211.4,246.4 L211.7,247.9 L212.2,249.1 L212.7,250.0 L213.4,250.5 L208.2,248.6 L207.5,248.1 L206.8,247.3 L206.3,246.0 L205.9,244.5 L205.6,242.7 L205.4,240.8 L205.2,238.7 L205.0,236.7 L204.8,234.7 L204.5,232.9 L204.2,231.4 L203.7,230.2 L203.1,229.3 L202.4,228.8Z" fill="#ec1c24" stroke="#ec1c24" stroke-width="1.2" stroke-linejoin="round"/>
<path d="M233.8,240.1 L234.5,240.6 L235.1,241.4 L235.5,242.6 L235.9,244.2 L236.2,245.9 L236.4,247.9 L236.7,249.9 L237.0,252.0 L237.4,253.9 L237.8,255.7 L238.3,257.2 L239.0,258.4 L239.7,259.2 L240.6,259.7 L234.5,258.0 L233.7,257.6 L233.0,256.7 L232.4,255.5 L232.0,253.9 L231.7,252.1 L231.4,250.2 L231.2,248.1 L231.0,246.1 L230.8,244.1 L230.6,242.3 L230.2,240.8 L229.8,239.6 L229.2,238.7 L228.5,238.2Z" fill="#ec1c24" stroke="#ec1c24" stroke-width="1.2" stroke-linejoin="round"/>
<path d="M257.5,244.5 L258.2,244.7 L259.0,245.2 L259.8,246.1 L260.8,247.4 L261.8,248.8 L262.8,250.5 L264.0,252.2 L265.2,253.9 L266.4,255.4 L267.6,256.8 L268.8,257.9 L269.9,258.7 L271.0,259.1 L271.9,259.1 L265.6,260.4 L264.6,260.4 L263.6,259.9 L262.5,259.0 L261.4,257.8 L260.3,256.4 L259.2,254.7 L258.2,252.9 L257.3,251.1 L256.4,249.3 L255.6,247.8 L254.8,246.4 L254.1,245.4 L253.4,244.8 L252.7,244.5Z" fill="#ec1c24" stroke="#ec1c24" stroke-width="1.2" stroke-linejoin="round"/>
<path d="M282.0,238.3 L282.9,238.2 L283.9,238.5 L285.0,239.2 L286.3,240.2 L287.6,241.4 L289.0,242.8 L290.4,244.2 L291.9,245.7 L293.2,247.1 L294.6,248.3 L295.8,249.3 L296.9,250.0 L297.9,250.3 L298.7,250.3 L293.4,252.1 L292.5,252.2 L291.5,251.9 L290.4,251.2 L289.1,250.2 L287.8,249.0 L286.4,247.6 L285.0,246.2 L283.5,244.7 L282.1,243.3 L280.8,242.1 L279.6,241.1 L278.5,240.4 L277.5,240.1 L276.6,240.1Z" fill="#ec1c24" stroke="#ec1c24" stroke-width="1.2" stroke-linejoin="round"/>
<path d="M307.3,228.9 L308.1,228.8 L309.1,229.0 L310.3,229.5 L311.6,230.4 L313.1,231.5 L314.6,232.8 L316.1,234.1 L317.7,235.5 L319.2,236.7 L320.6,237.8 L321.9,238.7 L323.1,239.3 L324.1,239.5 L325.0,239.4 L319.8,241.7 L318.9,241.8 L317.9,241.6 L316.7,241.1 L315.4,240.2 L313.9,239.1 L312.4,237.9 L310.9,236.5 L309.3,235.1 L307.8,233.9 L306.4,232.7 L305.1,231.8 L304.0,231.3 L303.0,231.0 L302.1,231.1Z" fill="#ec1c24" stroke="#ec1c24" stroke-width="1.2" stroke-linejoin="round"/>
<path d="M333.6,218.0 L334.5,217.9 L335.6,218.2 L336.7,218.9 L338.0,219.9 L339.3,221.2 L340.6,222.7 L341.9,224.3 L343.2,225.9 L344.5,227.4 L345.7,228.7 L346.8,229.8 L347.8,230.6 L348.8,231.0 L349.6,231.1 L344.3,232.4 L343.5,232.3 L342.5,232.0 L341.5,231.2 L340.3,230.2 L339.1,228.9 L337.8,227.4 L336.4,225.9 L335.0,224.4 L333.6,223.0 L332.2,221.8 L330.9,220.8 L329.7,220.2 L328.7,219.9 L327.8,220.0Z" fill="#ec1c24" stroke="#ec1c24" stroke-width="1.2" stroke-linejoin="round"/>
<path d="M361.8,211.7 L362.7,211.7 L363.7,212.2 L364.7,213.1 L365.7,214.2 L366.8,215.7 L368.0,217.3 L369.1,219.0 L370.2,220.8 L371.3,222.4 L372.4,223.8 L373.4,225.0 L374.4,225.9 L375.3,226.4 L376.2,226.5 L370.5,227.3 L369.6,227.2 L368.7,226.7 L367.7,225.9 L366.7,224.7 L365.6,223.3 L364.5,221.6 L363.3,219.9 L362.2,218.2 L361.1,216.6 L359.9,215.2 L358.9,214.0 L357.8,213.2 L356.9,212.7 L355.9,212.7Z" fill="#ec1c24" stroke="#ec1c24" stroke-width="1.2" stroke-linejoin="round"/>
<path d="M389.5,207.8 L390.4,207.9 L391.3,208.5 L392.3,209.3 L393.3,210.6 L394.4,212.0 L395.4,213.7 L396.5,215.5 L397.6,217.2 L398.6,218.9 L399.6,220.4 L400.6,221.6 L401.6,222.5 L402.5,223.0 L403.4,223.1 L397.7,223.8 L396.8,223.7 L395.9,223.2 L394.9,222.3 L393.9,221.0 L392.9,219.6 L391.8,217.9 L390.7,216.1 L389.7,214.4 L388.6,212.7 L387.5,211.3 L386.5,210.0 L385.6,209.2 L384.6,208.6 L383.7,208.5Z" fill="#ec1c24" stroke="#ec1c24" stroke-width="1.2" stroke-linejoin="round"/>
<path d="M418.0,205.3 L418.9,205.5 L419.8,206.1 L420.7,207.1 L421.6,208.5 L422.4,210.1 L423.2,211.9 L424.1,213.8 L424.9,215.6 L425.7,217.4 L426.6,219.0 L427.5,220.4 L428.4,221.4 L429.3,222.0 L430.3,222.2 L424.1,222.2 L423.3,221.9 L422.4,221.3 L421.6,220.3 L420.8,219.0 L420.0,217.4 L419.1,215.6 L418.3,213.7 L417.4,211.8 L416.5,210.1 L415.6,208.5 L414.6,207.2 L413.7,206.2 L412.7,205.7 L411.8,205.5Z" fill="#ec1c24" stroke="#ec1c24" stroke-width="1.2" stroke-linejoin="round"/>
<path d="M444.3,203.9 L445.2,204.0 L446.1,204.4 L447.1,205.3 L448.1,206.5 L449.2,207.9 L450.4,209.5 L451.5,211.2 L452.7,212.9 L453.9,214.5 L455.0,215.9 L456.1,217.1 L457.1,217.9 L458.1,218.3 L459.0,218.4 L453.2,219.4 L452.3,219.4 L451.3,218.9 L450.3,218.1 L449.2,216.9 L448.1,215.5 L447.0,213.9 L445.8,212.2 L444.7,210.4 L443.6,208.8 L442.5,207.4 L441.5,206.2 L440.5,205.3 L439.6,204.8 L438.8,204.7Z" fill="#ec1c24" stroke="#ec1c24" stroke-width="1.2" stroke-linejoin="round"/>
<path d="M471.1,198.9 L472.0,198.9 L472.9,199.3 L474.0,200.2 L475.1,201.3 L476.2,202.7 L477.4,204.2 L478.7,205.9 L479.9,207.5 L481.1,209.1 L482.3,210.5 L483.4,211.6 L484.4,212.4 L485.4,212.8 L486.3,212.9 L480.6,214.1 L479.7,214.0 L478.7,213.6 L477.7,212.8 L476.6,211.7 L475.4,210.3 L474.2,208.7 L473.0,207.1 L471.8,205.4 L470.6,203.8 L469.4,202.4 L468.3,201.3 L467.3,200.5 L466.3,200.1 L465.5,200.0Z" fill="#ec1c24" stroke="#ec1c24" stroke-width="1.2" stroke-linejoin="round"/>
<path d="M497.9,193.1 L498.8,193.1 L499.7,193.6 L500.8,194.3 L501.9,195.4 L503.1,196.8 L504.4,198.3 L505.7,199.9 L506.9,201.5 L508.2,203.0 L509.4,204.3 L510.6,205.4 L511.7,206.2 L512.7,206.5 L513.6,206.5 L507.9,208.0 L507.0,208.0 L506.0,207.6 L504.9,206.8 L503.8,205.8 L502.5,204.4 L501.3,202.9 L500.0,201.3 L498.8,199.6 L497.5,198.1 L496.3,196.7 L495.2,195.6 L494.2,194.8 L493.2,194.4 L492.4,194.4Z" fill="#ec1c24" stroke="#ec1c24" stroke-width="1.2" stroke-linejoin="round"/>
<path d="M148.0,222.1 L148.6,222.7 L147.9,222.3Z" fill="#f7941e" stroke="#f7941e" stroke-width="1.2" stroke-linejoin="round"/>
<path d="M169.9,215.7 L170.5,216.2 L171.0,217.1 L171.3,218.4 L171.5,219.9 L171.6,221.7 L171.7,223.7 L171.7,225.7 L171.8,227.8 L171.9,229.8 L172.1,231.6 L172.4,233.1 L172.8,234.4 L173.3,235.3 L174.1,235.8 L168.6,233.5 L167.9,233.0 L167.3,232.1 L166.9,230.8 L166.6,229.2 L166.5,227.4 L166.4,225.4 L166.4,223.4 L166.5,221.3 L166.5,219.4 L166.5,217.6 L166.5,216.0 L166.3,214.8 L165.9,213.9 L165.3,213.3Z" fill="#f7941e" stroke="#f7941e" stroke-width="1.2" stroke-linejoin="round"/>
<path d="M194.8,226.0 L195.5,226.5 L196.1,227.3 L196.5,228.6 L196.9,230.1 L197.1,231.9 L197.3,233.9 L197.4,235.9 L197.6,238.0 L197.8,239.9 L198.1,241.7 L198.4,243.3 L198.9,244.5 L199.5,245.4 L200.3,245.9 L194.7,243.9 L194.0,243.4 L193.4,242.5 L192.9,241.2 L192.6,239.7 L192.3,237.9 L192.1,235.9 L192.0,233.9 L191.9,231.8 L191.7,229.9 L191.5,228.1 L191.2,226.5 L190.7,225.3 L190.2,224.4 L189.5,223.9Z" fill="#f7941e" stroke="#f7941e" stroke-width="1.2" stroke-linejoin="round"/>
<path d="M220.8,235.3 L221.5,235.8 L222.1,236.7 L222.6,237.9 L222.9,239.5 L223.1,241.2 L223.3,243.2 L223.5,245.3 L223.6,247.3 L223.8,249.3 L224.0,251.1 L224.4,252.6 L224.8,253.9 L225.5,254.8 L226.2,255.3 L220.7,253.2 L219.9,252.7 L219.4,251.8 L218.9,250.6 L218.6,249.0 L218.3,247.2 L218.2,245.3 L218.0,243.2 L217.9,241.2 L217.7,239.2 L217.4,237.4 L217.0,235.8 L216.5,234.6 L215.9,233.7 L215.1,233.2Z" fill="#f7941e" stroke="#f7941e" stroke-width="1.2" stroke-linejoin="round"/>
<path d="M245.8,243.6 L246.5,244.0 L247.1,244.7 L247.7,245.8 L248.2,247.3 L248.8,248.9 L249.4,250.8 L250.0,252.8 L250.7,254.7 L251.5,256.5 L252.3,258.2 L253.2,259.5 L254.2,260.6 L255.2,261.2 L256.2,261.4 L249.4,261.1 L248.4,260.8 L247.5,260.1 L246.7,259.0 L246.0,257.5 L245.3,255.8 L244.7,253.9 L244.3,251.9 L243.8,249.9 L243.4,247.9 L243.0,246.2 L242.5,244.7 L242.0,243.6 L241.4,242.8 L240.7,242.4Z" fill="#f7941e" stroke="#f7941e" stroke-width="1.2" stroke-linejoin="round"/>
<path d="M269.2,242.4 L270.0,242.4 L271.0,242.8 L272.0,243.5 L273.2,244.6 L274.4,245.9 L275.8,247.3 L277.1,248.8 L278.5,250.3 L279.9,251.7 L281.3,253.0 L282.5,254.0 L283.7,254.6 L284.7,254.9 L285.6,254.8 L279.9,256.8 L279.0,256.8 L277.9,256.5 L276.8,255.8 L275.5,254.8 L274.2,253.5 L272.9,252.0 L271.6,250.5 L270.3,248.9 L269.0,247.4 L267.9,246.0 L266.8,244.9 L265.8,244.1 L264.9,243.7 L264.1,243.6Z" fill="#f7941e" stroke="#f7941e" stroke-width="1.2" stroke-linejoin="round"/>
<path d="M295.0,233.8 L295.8,233.8 L296.7,234.1 L297.8,234.8 L299.0,235.7 L300.4,236.9 L301.8,238.3 L303.3,239.7 L304.8,241.1 L306.2,242.5 L307.6,243.6 L309.0,244.5 L310.2,245.0 L311.3,245.3 L312.1,245.1 L306.5,247.5 L305.6,247.6 L304.6,247.3 L303.3,246.7 L302.0,245.8 L300.7,244.6 L299.2,243.2 L297.8,241.7 L296.4,240.2 L295.1,238.8 L293.7,237.6 L292.5,236.6 L291.3,235.9 L290.3,235.6 L289.4,235.7Z" fill="#f7941e" stroke="#f7941e" stroke-width="1.2" stroke-linejoin="round"/>
<path d="M319.7,223.3 L320.6,223.2 L321.7,223.4 L322.9,224.0 L324.2,224.8 L325.7,226.0 L327.1,227.3 L328.6,228.7 L330.1,230.2 L331.5,231.5 L332.9,232.7 L334.1,233.7 L335.2,234.3 L336.2,234.6 L337.0,234.6 L331.9,236.5 L331.0,236.6 L330.1,236.3 L328.9,235.7 L327.6,234.8 L326.3,233.6 L324.8,232.3 L323.3,230.9 L321.7,229.6 L320.2,228.3 L318.8,227.2 L317.5,226.3 L316.2,225.8 L315.2,225.6 L314.3,225.7Z" fill="#f7941e" stroke="#f7941e" stroke-width="1.2" stroke-linejoin="round"/>
<path d="M347.6,214.3 L348.5,214.3 L349.5,214.8 L350.6,215.6 L351.7,216.7 L352.8,218.1 L354.0,219.7 L355.2,221.4 L356.4,223.0 L357.6,224.6 L358.7,226.0 L359.7,227.2 L360.7,228.0 L361.7,228.5 L362.5,228.6 L357.0,229.6 L356.1,229.5 L355.2,229.1 L354.2,228.2 L353.1,227.1 L351.9,225.7 L350.8,224.1 L349.5,222.5 L348.3,220.8 L347.1,219.3 L345.9,217.9 L344.7,216.8 L343.6,216.1 L342.6,215.7 L341.7,215.7Z" fill="#f7941e" stroke="#f7941e" stroke-width="1.2" stroke-linejoin="round"/>
<path d="M375.5,209.6 L376.3,209.7 L377.3,210.2 L378.3,211.1 L379.3,212.3 L380.4,213.8 L381.5,215.4 L382.5,217.2 L383.6,218.9 L384.7,220.6 L385.7,222.0 L386.8,223.3 L387.7,224.1 L388.7,224.7 L389.5,224.8 L383.8,225.5 L382.9,225.4 L382.0,224.9 L381.1,224.0 L380.0,222.8 L379.0,221.3 L377.9,219.7 L376.8,217.9 L375.7,216.2 L374.6,214.6 L373.5,213.1 L372.5,211.9 L371.5,211.0 L370.5,210.5 L369.6,210.5Z" fill="#f7941e" stroke="#f7941e" stroke-width="1.2" stroke-linejoin="round"/>
<path d="M403.1,206.3 L404.0,206.4 L404.9,206.9 L405.9,207.8 L407.0,209.0 L408.0,210.5 L409.0,212.2 L410.0,214.0 L411.0,215.8 L411.9,217.5 L412.9,219.1 L413.7,220.4 L414.6,221.3 L415.4,221.9 L416.2,222.1 L410.8,222.4 L410.0,222.2 L409.2,221.7 L408.3,220.8 L407.3,219.5 L406.3,218.0 L405.3,216.3 L404.2,214.6 L403.2,212.8 L402.1,211.2 L401.1,209.7 L400.1,208.4 L399.1,207.5 L398.2,207.0 L397.3,206.9Z" fill="#f7941e" stroke="#f7941e" stroke-width="1.2" stroke-linejoin="round"/>
<path d="M431.3,205.3 L432.1,205.5 L432.9,206.1 L433.8,207.0 L434.7,208.3 L435.6,209.8 L436.6,211.5 L437.6,213.3 L438.7,215.0 L439.8,216.7 L440.9,218.2 L441.9,219.4 L442.9,220.2 L443.9,220.7 L444.8,220.8 L438.7,221.6 L437.8,221.5 L436.8,221.0 L435.8,220.0 L434.8,218.8 L433.8,217.3 L432.8,215.5 L431.9,213.7 L430.9,211.9 L430.1,210.1 L429.2,208.5 L428.4,207.2 L427.6,206.2 L426.8,205.6 L425.9,205.4Z" fill="#f7941e" stroke="#f7941e" stroke-width="1.2" stroke-linejoin="round"/>
<path d="M457.4,201.6 L458.3,201.6 L459.3,202.1 L460.3,202.9 L461.4,204.0 L462.5,205.4 L463.7,207.0 L464.9,208.7 L466.1,210.4 L467.3,211.9 L468.5,213.3 L469.6,214.5 L470.6,215.3 L471.6,215.7 L472.5,215.7 L466.7,216.9 L465.8,216.9 L464.9,216.4 L463.8,215.6 L462.7,214.5 L461.6,213.1 L460.4,211.5 L459.2,209.8 L458.0,208.1 L456.8,206.5 L455.7,205.1 L454.6,204.0 L453.6,203.1 L452.7,202.7 L451.8,202.6Z" fill="#f7941e" stroke="#f7941e" stroke-width="1.2" stroke-linejoin="round"/>
<path d="M484.4,196.1 L485.3,196.1 L486.2,196.6 L487.3,197.4 L488.4,198.5 L489.5,199.9 L490.7,201.4 L492.0,203.1 L493.2,204.7 L494.4,206.3 L495.6,207.6 L496.8,208.8 L497.8,209.5 L498.8,210.0 L499.7,210.0 L493.9,211.2 L493.0,211.2 L492.1,210.8 L491.0,210.0 L489.9,208.9 L488.7,207.5 L487.5,205.9 L486.3,204.3 L485.1,202.6 L483.9,201.1 L482.7,199.7 L481.6,198.6 L480.5,197.8 L479.6,197.3 L478.7,197.3Z" fill="#f7941e" stroke="#f7941e" stroke-width="1.2" stroke-linejoin="round"/>
<path d="M510.9,189.9 L511.8,189.9 L512.0,189.9 L514.6,191.7 L515.1,192.1 L516.3,193.4 L517.5,194.9 L518.8,196.5 L520.1,198.1 L521.4,199.7 L522.6,201.0 L523.7,202.1 L524.8,202.9 L525.8,203.3 L526.6,203.3 L521.0,204.6 L520.2,204.6 L519.2,204.2 L518.1,203.5 L517.0,202.4 L515.8,201.1 L514.5,199.6 L513.2,198.0 L511.9,196.4 L510.6,194.8 L509.4,193.5 L508.3,192.4 L507.2,191.7 L506.2,191.3 L505.3,191.3Z" fill="#f7941e" stroke="#f7941e" stroke-width="1.2" stroke-linejoin="round"/></g>
<path d="M555.6,183.1 L556.3,182.7 L557.4,182.5 L555.8,182.5Z" fill="#a0141b" stroke="#a0141b" stroke-width="1.2" stroke-linejoin="round"/>
<path d="M569.8,199.0 L570.9,198.7 L572.0,198.1 L573.1,197.0 L574.1,195.7 L575.1,194.1 L576.2,192.2 L577.2,190.3 L578.2,188.4 L579.3,186.6 L580.3,185.0 L581.4,183.7 L582.4,182.6 L583.5,182.0 L584.6,181.7 L579.0,181.9 L577.9,182.1 L576.8,182.8 L575.8,183.8 L574.7,185.2 L573.7,186.8 L572.6,188.6 L571.6,190.5 L570.6,192.4 L569.5,194.2 L568.5,195.8 L567.5,197.2 L566.4,198.2 L565.3,198.9 L564.2,199.1Z" fill="#a0141b" stroke="#a0141b" stroke-width="1.2" stroke-linejoin="round"/>
<path d="M552.2,199.5 L556.2,199.3 L557.3,199.1 L558.4,198.4 L559.5,197.4 L560.5,196.1 L561.5,194.4 L562.6,192.6 L563.6,190.7 L564.6,188.8 L565.7,187.0 L566.7,185.4 L567.8,184.0 L568.8,183.0 L569.9,182.4 L571.0,182.1 L565.4,182.3 L564.3,182.5 L563.2,183.2 L562.2,184.2 L561.1,185.6 L560.1,187.2 L559.0,189.0 L558.0,190.9 L557.0,192.8 L555.9,194.6 L554.9,196.2 L553.9,197.6 L552.8,198.6 L552.4,198.9Z" fill="#c6691d" stroke="#c6691d" stroke-width="1.2" stroke-linejoin="round"/>
<path d="M583.5,198.6 L584.5,198.3 L585.6,197.7 L586.7,196.6 L587.7,195.3 L588.7,193.7 L589.1,193.0 L588.8,184.1 L588.3,184.8 L587.3,186.4 L586.2,188.2 L585.2,190.1 L584.2,192.0 L583.1,193.8 L582.1,195.4 L581.1,196.8 L580.0,197.8 L578.9,198.5 L577.9,198.7Z" fill="#c6691d" stroke="#c6691d" stroke-width="1.2" stroke-linejoin="round"/>
<path d="M555.8,182.5 L557.5,182.5 L558.3,182.7 L559.2,183.3 L560.1,184.3 L561.0,185.6 L561.9,187.1 L562.8,188.9 L563.7,190.7 L564.6,192.6 L565.5,194.3 L566.4,195.9 L567.3,197.2 L568.2,198.2 L569.1,198.8 L569.9,199.0 L564.1,199.1 L563.3,198.9 L562.4,198.3 L561.5,197.4 L560.6,196.1 L559.7,194.5 L558.8,192.7 L557.9,190.9 L557.0,189.0 L556.1,187.3 L555.2,185.7 L555.1,185.6Z" fill="#ec1c24" stroke="#ec1c24" stroke-width="1.2" stroke-linejoin="round"/>
<path d="M584.7,181.7 L585.5,181.9 L586.4,182.5 L587.3,183.5 L588.2,184.8 L588.9,186.0 L589.2,197.1 L588.7,196.6 L587.8,195.3 L586.9,193.7 L586.0,192.0 L585.1,190.1 L584.2,188.3 L583.3,186.5 L582.4,185.0 L581.5,183.7 L580.6,182.7 L579.7,182.1 L578.9,181.9Z" fill="#ec1c24" stroke="#ec1c24" stroke-width="1.2" stroke-linejoin="round"/>
<path d="M552.9,196.3 L553.7,197.6 L554.6,198.6 L555.5,199.2 L556.3,199.3 L552.2,199.5Z" fill="#f7941e" stroke="#f7941e" stroke-width="1.2" stroke-linejoin="round"/>
<path d="M571.1,182.1 L571.9,182.3 L572.8,182.9 L573.7,183.9 L574.6,185.2 L575.5,186.8 L576.4,188.5 L577.3,190.3 L578.2,192.2 L579.1,193.9 L580.0,195.5 L580.9,196.8 L581.8,197.8 L582.7,198.4 L583.6,198.6 L577.8,198.7 L576.9,198.6 L576.0,198.0 L575.1,197.0 L574.2,195.7 L573.3,194.1 L572.4,192.4 L571.5,190.5 L570.6,188.7 L569.7,186.9 L568.8,185.4 L567.9,184.0 L567.0,183.1 L566.1,182.5 L565.3,182.3Z" fill="#f7941e" stroke="#f7941e" stroke-width="1.2" stroke-linejoin="round"/>
<path d="M522,186.8 L553,183.2 M532,203.3 L553,200.8" stroke="#1d1d1b" stroke-width="1.9" stroke-dasharray="6.5,4" fill="none"/>
<rect x="587.3" y="148.9" width="21.6" height="82.1" rx="10.8" fill="#838788"/>
<path d="M730.0,158.5 L730.8,158.9 L731.7,159.4 L732.5,159.8 L733.4,160.3 L734.3,160.8 L735.1,161.2 L736.0,161.7 L736.8,162.1 L737.6,162.5 L738.4,162.9 L739.2,163.2 L740.0,163.5 L740.7,163.7 L741.4,164.0 L742.1,164.2 L742.7,164.3 L743.4,164.5 L744.0,164.6 L744.6,164.7 L745.3,164.7 L745.9,164.7 L746.6,164.7 L747.3,164.6 L748.0,164.5 L748.8,164.3 L749.6,164.1 L750.4,163.9 L751.3,163.6 L752.1,163.3 L753.0,162.9 L753.9,162.5 L754.7,162.1 L755.6,161.6 L756.4,161.1 L757.2,160.6 L758.0,160.0 L758.7,159.4 L759.4,158.7 L760.0,157.9 L760.6,157.1 L761.2,156.2 L761.8,155.3 L762.4,154.4 L763.0,153.5 L763.7,152.6 L764.4,151.7 L765.2,150.9 L766.0,150.0 L766.9,149.1 L767.9,148.2 L768.9,147.3 L769.9,146.4 L771.0,145.5 L772.1,144.5 L773.2,143.6 L774.3,142.8 L775.5,142.0 L776.7,141.2 L777.8,140.6 L779.0,140.0 L780.2,139.5 L781.4,139.1 L782.7,138.7 L784.0,138.4 L785.3,138.1 L786.6,137.9 L787.9,137.7 L789.1,137.6 L790.4,137.5 L791.7,137.4 L792.8,137.3 L794.0,137.3 L795.1,137.3 L796.2,137.3 L797.3,137.4 L798.4,137.5 L799.4,137.6 L800.4,137.8 L801.4,138.0 L802.4,138.2 L803.4,138.4 L804.3,138.7 L805.1,139.0 L806.0,139.3 L806.8,139.6 L807.6,140.0 L808.3,140.3 L809.0,140.7 L809.6,141.0 L810.2,141.5 L810.9,141.9 L811.5,142.4 L812.1,143.0 L812.7,143.6 L813.3,144.3 L814.0,145.0 L814.7,145.8 L815.3,146.7 L816.0,147.7 L816.7,148.8 L817.3,149.8 L818.0,151.0 L818.7,152.1 L819.3,153.3 L820.0,154.5 L820.7,155.7 L821.3,156.9 L822.0,158.0 L822.7,159.2 L823.3,160.4 L824.0,161.6 L824.6,162.9 L825.2,164.2 L825.9,165.4 L826.5,166.7 L827.2,167.9 L827.9,169.0 L828.6,170.1 L829.3,171.1 L830.0,172.0 L830.8,172.8 L831.5,173.6 L832.3,174.3 L833.1,174.9 L833.9,175.5 L834.8,176.1 L835.6,176.5 L836.4,177.0 L837.3,177.3 L838.2,177.6 L839.1,177.8 L840.0,178.0 L840.9,178.1 L841.9,178.0 L842.9,177.9 L843.9,177.6 L845.0,177.3 L846.0,177.0 L847.0,176.6 L848.1,176.3 L849.1,175.9 L850.1,175.5 L851.1,175.2 L852.0,175.0 L852.9,174.8 L853.8,174.6 L854.6,174.3 L855.5,174.1 L856.3,173.8 L857.1,173.6 L857.9,173.4 L858.7,173.3 L859.5,173.1 L860.4,173.0 L861.2,173.0 L862.0,173.0 L862.8,173.0 L863.7,173.1 L864.5,173.2 L865.3,173.3 L866.2,173.4 L867.0,173.6 L867.8,173.9 L868.7,174.1 L869.5,174.5 L870.3,174.9 L871.2,175.4 L872.0,176.0 L872.8,176.7 L873.7,177.5 L874.6,178.4 L875.5,179.4 L876.4,180.5 L877.3,181.6 L878.2,182.8 L879.0,183.9 L879.9,185.0 L880.6,186.1 L881.3,187.1 L882.0,188.0 L882.6,188.9 L883.1,189.7 L883.6,190.5 L884.0,191.2 L884.4,192.0 L884.8,192.7 L885.2,193.4 L885.5,194.1 L885.9,194.8 L886.2,195.5 L886.6,196.3 L887.0,197.0" fill="none" stroke="#ec1c24" stroke-width="4.6"/>
<path d="M772,116.7 L779.3,140" stroke="#1d1d1b" stroke-width="2.1"/>
<path d="M765.3,286.7 L750.7,324" stroke="#1d1d1b" stroke-width="2.1"/>
<path d="M881.0,207.0 L881.6,206.2 L882.2,205.5 L882.8,204.7 L883.3,204.0 L883.9,203.2 L884.5,202.4 L885.1,201.7 L885.7,200.9 L886.2,200.2 L886.8,199.4 L887.4,198.7 L888.0,198.0 L888.6,197.3 L889.2,196.6 L889.8,195.9 L890.3,195.3 L890.9,194.6 L891.5,193.9 L892.1,193.3 L892.7,192.6 L893.2,192.0 L893.8,191.3 L894.4,190.7 L895.0,190.0" fill="none" stroke="#f7941e" stroke-width="4"/>
<g transform="translate(741,-21)">
<path d="M88.7,222.5 L88.9,221.5 L89.1,220.6 L89.3,219.6 L89.4,218.6 L89.6,217.6 L89.9,216.7 L90.1,215.8 L90.5,215.0 L90.9,214.3 L91.4,213.6 L91.9,213.0 L92.5,212.4 L93.1,211.9 L93.7,211.4 L94.3,210.9 L95.0,210.5 L95.7,210.1 L96.4,209.8 L97.1,209.5 L97.8,209.3 L98.6,209.1 L99.4,208.9 L100.2,208.8 L101.0,208.6 L101.8,208.4 L102.7,208.3 L103.5,208.2 L104.4,208.1 L105.3,208.0 L106.2,207.9 L107.2,207.9 L108.2,207.9 L109.3,207.9 L110.5,208.0 L111.8,208.0 L113.1,208.1 L114.4,208.2 L115.7,208.4 L116.9,208.6 L118.0,208.9 L119.0,209.3 L120.0,209.7 L121.0,210.2 L121.9,210.8 L122.8,211.3 L123.7,211.9 L124.6,212.4 L125.5,212.8 L126.5,213.1 L127.4,213.3 L128.4,213.5 L129.4,213.6 L130.4,213.8 L131.4,214.0 L132.4,214.3 L133.4,214.8 L134.4,215.4 L135.4,216.1 L136.4,216.9 L137.4,217.8 L138.4,218.7 L139.4,219.6 L140.3,220.6 L141.2,221.6 L142.0,222.6 L142.8,223.7 L143.6,224.8 L144.3,225.9 L145.0,227.1 L145.7,228.2 L146.4,229.3 L147.0,230.4 L147.6,231.4 L148.2,232.4 L148.7,233.4 L149.3,234.3 L149.8,235.2 L150.2,236.2 L150.6,237.2 L151.0,238.2 L151.3,239.3 L151.6,240.4 L151.9,241.5 L152.1,242.6 L152.3,243.7 L152.4,244.9 L152.5,245.9 L152.6,247.0 L152.6,248.0 L152.6,249.0 L152.6,250.0 L152.5,250.9 L152.4,251.9 L152.3,252.8 L152.2,253.7 L152.0,254.7 L151.8,255.7 L151.6,256.7 L151.4,257.7 L151.2,258.7 L151.0,259.7 L150.7,260.7 L150.4,261.6 L150.0,262.5 L149.6,263.3 L149.2,264.1 L148.7,264.9 L148.2,265.7 L147.7,266.4 L147.2,267.1 L146.6,267.7 L146.0,268.4 L145.3,269.0 L144.6,269.6 L143.9,270.2 L143.1,270.7 L142.3,271.3 L141.5,271.8 L140.8,272.3 L140.0,272.8 L139.2,273.3 L138.5,273.8 L137.8,274.2 L137.0,274.7 L136.2,275.1 L135.5,275.6 L134.8,276.0 L134.0,276.5 L133.3,277.0 L132.5,277.5 L131.8,278.1 L131.1,278.6 L130.4,279.1 L129.6,279.6 L128.8,280.1 L128.0,280.5 L127.1,280.9 L126.2,281.2 L125.2,281.6 L124.2,281.9 L123.2,282.2 L122.1,282.4 L121.1,282.6 L120.0,282.8 L118.9,282.9 L117.8,283.0 L116.6,283.1 L115.4,283.1 L114.2,283.1 L113.1,283.1 L112.0,283.1 L111.0,283.0 L110.1,282.9 L109.2,282.7 L108.4,282.5 L107.6,282.3 L106.8,282.0 L106.1,281.8 L105.3,281.6 L104.5,281.5 L103.7,281.4 L102.9,281.4 L102.0,281.4 L101.2,281.4 L100.4,281.4 L99.6,281.3 L98.8,281.3 L98.0,281.2 L97.2,281.1 L96.4,280.9 L95.6,280.8 L94.9,280.6 L94.1,280.4 L93.4,280.2 L92.7,279.9 L92.0,279.5 L91.4,279.1 L90.8,278.6 L90.2,278.1 L89.7,277.5 L89.1,276.9 L88.6,276.3 L88.1,275.7 L87.5,275.0 L86.9,274.3 L86.4,273.6 L85.8,272.9 L85.2,272.1 L84.6,271.3 L84.1,270.5 L83.5,269.8 L83.0,269.0 L82.5,268.3 L82.0,267.5 L81.6,266.8 L81.1,266.1 L80.7,265.3 L80.3,264.6 L79.9,263.8 L79.5,263.0 L79.1,262.2 L78.8,261.3 L78.4,260.5 L78.1,259.6 L77.8,258.7 L77.5,257.8 L77.2,256.9 L77.0,256.0 L76.8,255.1 L76.6,254.1 L76.5,253.1 L76.4,252.2 L76.3,251.2 L76.3,250.2 L76.3,249.3 L76.4,248.5 L76.6,247.7 L76.9,247.0 L77.3,246.4 L77.8,245.8 L78.2,245.2 L78.6,244.5 L78.9,243.8 L79.1,243.1 L79.1,242.3 L79.0,241.4 L78.8,240.6 L78.6,239.7 L78.4,238.7 L78.2,237.8 L78.1,236.9 L78.2,236.0 L78.4,235.1 L78.7,234.2 L79.1,233.3 L79.5,232.4 L80.0,231.5 L80.6,230.6 L81.2,229.8 L81.8,228.9 L82.5,228.1 L83.3,227.3 L84.1,226.4 L85.0,225.7 L86.0,224.9 L86.9,224.1 L87.8,223.3 L88.7,222.5Z" fill="#ffda00"/>
<path d="M88.7,244.4 L96.5,241.5 L103.4,245.9 L110.8,250.8 L111.3,258.0 L113.5,263.3 L117.3,266.4 L110.5,267.1 L105.2,269.4 L103.7,267.9 L99.2,264.1 L95.0,262.5 L90.8,261.8 L93.1,259.6 L91.6,251.7Z" fill="#f8b45a"/>
<path d="M88.7,222.6 L89.2,223.0 L89.7,223.3 L90.2,223.7 L90.7,224.1 L91.1,224.4 L91.6,224.8 L92.1,225.1 L92.6,225.5" fill="none" stroke="#fff" stroke-width="1.8" stroke-linecap="round"/>
<path d="M117.5,237.8 L117.2,237.0 L117.0,236.1 L116.7,235.3 L116.5,234.4 L116.2,233.6 L115.9,232.8 L115.5,232.1 L115.1,231.4 L114.6,230.8 L114.1,230.2 L113.5,229.6 L112.9,229.1 L112.3,228.6 L111.6,228.2 L110.9,227.8 L110.2,227.5 L109.4,227.2 L108.6,227.0 L107.7,226.7 L106.9,226.6 L106.0,226.5 L105.1,226.4 L104.2,226.4 L103.4,226.5 L102.6,226.7 L101.8,226.9 L101.0,227.2 L100.2,227.6 L99.4,228.0 L98.7,228.4 L98.0,228.9 L97.5,229.4 L97.0,229.9 L96.7,230.5 L96.4,231.0 L96.1,231.7 L95.9,232.3 L95.7,233.0 L95.6,233.6 L95.5,234.3 L95.4,235.0 L95.4,235.8 L95.5,236.6 L95.6,237.5 L95.7,238.3 L95.8,239.0 L95.9,239.7 L96.0,240.2 L96.1,240.6 L96.1,240.8 L96.2,241.0 L96.2,241.1 L96.3,241.2 L96.4,241.3 L96.4,241.4 L96.5,241.5" fill="none" stroke="#fff" stroke-width="1.8" stroke-linecap="round"/>
<path d="M125.5,212.8 L124.9,213.7 L124.2,214.6 L123.5,215.4 L122.9,216.3 L122.2,217.2 L121.6,218.1 L121.1,218.9 L120.6,219.7 L120.2,220.5 L120.0,221.3 L119.8,222.0 L119.6,222.8 L119.4,223.5 L119.2,224.2 L119.0,224.9 L118.7,225.5 L118.3,226.1 L117.9,226.7 L117.4,227.4 L116.9,227.9 L116.4,228.4 L115.9,228.9 L115.3,229.2 L114.8,229.4 L114.3,229.4 L113.7,229.3 L113.1,229.1 L112.5,228.8 L112.0,228.5 L111.4,228.1 L110.8,227.8 L110.2,227.5" fill="none" stroke="#fff" stroke-width="1.8" stroke-linecap="round"/>
<path d="M114.8,229.4 L115.2,229.9 L115.6,230.4 L116.0,230.9 L116.4,231.4 L116.8,231.8 L117.1,232.3 L117.4,232.9 L117.7,233.4 L117.9,234.0 L118.1,234.5 L118.2,235.1 L118.3,235.8 L118.4,236.4 L118.5,237.0 L118.6,237.6 L118.7,238.2" fill="none" stroke="#fff" stroke-width="1.8" stroke-linecap="round"/>
<path d="M77.9,243.0 L78.6,243.1 L79.4,243.2 L80.2,243.4 L80.9,243.5 L81.7,243.6 L82.4,243.7 L83.1,243.8 L83.8,243.9 L84.5,244.0 L85.1,244.1 L85.7,244.2 L86.3,244.3 L86.9,244.4 L87.5,244.4 L88.1,244.4 L88.7,244.4 L89.3,244.3 L90.0,244.2 L90.6,244.0 L91.3,243.8 L91.9,243.5 L92.5,243.3 L93.1,243.1 L93.6,242.9 L94.1,242.7 L94.5,242.5 L94.8,242.4 L95.2,242.2 L95.5,242.0 L95.8,241.8 L96.2,241.7 L96.5,241.5" fill="none" stroke="#fff" stroke-width="1.8" stroke-linecap="round"/>
<path d="M96.5,241.5 L97.4,242.0 L98.2,242.6 L99.1,243.1 L99.9,243.7 L100.8,244.2 L101.6,244.8 L102.5,245.3 L103.4,245.9 L104.3,246.5 L105.2,247.1 L106.1,247.7 L107.1,248.3 L108.0,248.9 L108.9,249.6 L109.9,250.2 L110.8,250.8" fill="none" stroke="#fff" stroke-width="1.8" stroke-linecap="round"/>
<path d="M88.7,244.4 L89.1,245.3 L89.5,246.2 L89.8,247.1 L90.2,248.0 L90.6,248.9 L91.0,249.8 L91.3,250.8 L91.6,251.7 L91.9,252.7 L92.2,253.8 L92.4,254.9 L92.7,256.0 L92.9,257.0 L93.0,258.0 L93.1,258.9 L93.1,259.6 L93.0,260.1 L92.8,260.6 L92.5,260.8 L92.2,261.1 L91.8,261.2 L91.5,261.4 L91.1,261.6 L90.8,261.8" fill="none" stroke="#fff" stroke-width="1.8" stroke-linecap="round"/>
<path d="M78.5,263.0 L79.2,263.1 L79.8,263.2 L80.4,263.3 L81.0,263.4 L81.7,263.5 L82.4,263.5 L83.1,263.5 L83.8,263.5 L84.6,263.4 L85.4,263.2 L86.3,263.0 L87.2,262.8 L88.1,262.5 L89.0,262.3 L89.9,262.0 L90.8,261.8" fill="none" stroke="#fff" stroke-width="1.8" stroke-linecap="round"/>
<path d="M90.8,261.8 L91.3,261.9 L91.8,262.0 L92.4,262.0 L92.9,262.1 L93.4,262.2 L94.0,262.3 L94.5,262.4 L95.0,262.5 L95.5,262.6 L96.0,262.8 L96.6,262.9 L97.1,263.1 L97.6,263.3 L98.1,263.5 L98.7,263.8 L99.2,264.1 L99.8,264.5 L100.4,264.9 L101.0,265.5 L101.6,266.0 L102.2,266.5 L102.8,267.1 L103.3,267.5 L103.7,267.9 L104.0,268.2 L104.3,268.4 L104.5,268.6 L104.6,268.8 L104.8,268.9 L104.9,269.1 L105.0,269.2 L105.2,269.4" fill="none" stroke="#fff" stroke-width="1.8" stroke-linecap="round"/>
<path d="M105.2,269.4 L105.1,270.1 L105.1,270.7 L105.0,271.3 L105.0,272.0 L104.9,272.6 L104.9,273.3 L104.8,274.0 L104.8,274.7 L104.8,275.5 L104.7,276.3 L104.7,277.1 L104.6,278.0 L104.6,278.9 L104.6,279.8 L104.5,280.6 L104.5,281.5" fill="none" stroke="#fff" stroke-width="1.8" stroke-linecap="round"/>
<path d="M105.2,269.4 L105.9,269.1 L106.5,268.8 L107.1,268.5 L107.8,268.1 L108.4,267.8 L109.1,267.6 L109.8,267.3 L110.5,267.1 L111.3,266.9 L112.1,266.8 L113.0,266.6 L114.0,266.5 L114.9,266.4 L115.7,266.4 L116.5,266.4 L117.3,266.4 L118.0,266.5 L118.6,266.6 L119.2,266.8 L119.8,267.0 L120.3,267.2 L120.8,267.5 L121.3,267.7 L121.8,267.9 L122.2,268.1 L122.6,268.2 L122.9,268.3 L123.3,268.4 L123.6,268.6 L124.0,268.8 L124.4,269.0 L124.9,269.4 L125.5,269.9 L126.3,270.5 L127.0,271.3 L127.9,272.0 L128.7,272.8 L129.5,273.5 L130.2,274.2 L130.9,274.7 L131.5,275.1 L132.0,275.4 L132.4,275.6 L132.9,275.8 L133.3,276.0 L133.7,276.1 L134.1,276.3 L134.5,276.5" fill="none" stroke="#fff" stroke-width="1.8" stroke-linecap="round"/>
<path d="M110.8,250.8 L110.9,251.7 L110.9,252.6 L110.9,253.6 L110.9,254.5 L111.0,255.4 L111.1,256.3 L111.2,257.2 L111.3,258.0 L111.5,258.8 L111.7,259.5 L111.9,260.2 L112.2,260.9 L112.5,261.6 L112.8,262.2 L113.1,262.8 L113.5,263.3 L113.9,263.8 L114.3,264.2 L114.8,264.6 L115.3,265.0 L115.8,265.3 L116.3,265.7 L116.8,266.0 L117.3,266.4" fill="none" stroke="#fff" stroke-width="1.8" stroke-linecap="round"/>
<path d="M110.8,250.8 L111.4,250.2 L112.0,249.5 L112.5,248.8 L113.1,248.1 L113.6,247.5 L114.3,246.9 L114.9,246.3 L115.7,245.9 L116.6,245.6 L117.5,245.3 L118.5,245.1 L119.6,244.9 L120.7,244.8 L121.7,244.8 L122.7,244.8 L123.6,244.9 L124.4,245.1 L125.3,245.3 L126.1,245.7 L126.8,246.0 L127.5,246.5 L128.2,246.9 L128.8,247.4 L129.4,247.8 L129.9,248.2 L130.4,248.7 L130.9,249.1 L131.3,249.6 L131.6,250.0 L131.9,250.6 L132.2,251.1 L132.4,251.7 L132.5,252.3 L132.6,253.0 L132.6,253.8 L132.6,254.5 L132.5,255.3 L132.5,256.1 L132.4,256.8 L132.4,257.6" fill="none" stroke="#fff" stroke-width="1.8" stroke-linecap="round"/>
<path d="M132.4,251.7 L133.5,251.6 L134.6,251.5 L135.6,251.5 L136.7,251.4 L137.8,251.4 L138.9,251.2 L140.0,251.1 L141.2,250.8 L142.4,250.4 L143.7,250.0 L145.0,249.5 L146.3,249.0 L147.6,248.4 L148.9,247.9 L150.2,247.3 L151.5,246.8" fill="none" stroke="#fff" stroke-width="1.8" stroke-linecap="round"/>
</g>
<path d="M709.0,298.0 L712.1,297.4 L715.3,296.8 L718.5,296.2 L721.7,295.6 L724.9,295.1 L728.0,294.5 L731.1,293.9 L734.2,293.3 L737.1,292.6 L740.0,292.0 L742.7,291.4 L745.2,290.8 L747.6,290.2 L750.0,289.7 L752.2,289.1 L754.6,288.4 L757.0,287.7 L759.5,286.9 L762.1,286.0 L765.0,285.0 L768.0,283.9 L771.1,282.9 L774.3,281.8 L777.6,280.6 L781.0,279.4 L784.5,278.0 L788.2,276.4 L791.9,274.5 L795.9,272.4 L800.0,270.0 L804.3,267.2 L808.9,264.0 L813.7,260.5 L818.6,256.8 L823.6,252.9 L828.7,248.9 L833.9,244.8 L839.0,240.8 L844.0,236.8 L849.0,233.0" fill="none" stroke="#f7941e" stroke-width="5.4" stroke-linecap="butt"/>
<path d="M882.0,258.5 L901.2,270.7 L896.4,293.7 L893.2,285.1 L878.8,291.5 L872.4,274.0 L885.2,268.0Z" fill="#808384"/>
<path d="M886.0,187.1 L886.1,187.1 L886.0,187.1Z" fill="#a0141b" stroke="#a0141b" stroke-width="1.2" stroke-linejoin="round"/>
<path d="M898.1,203.8 L899.1,203.6 L900.2,203.0 L901.3,202.0 L902.3,200.7 L903.4,199.1 L904.6,197.4 L905.7,195.5 L906.8,193.7 L908.0,191.9 L909.1,190.4 L910.3,189.1 L911.4,188.1 L912.5,187.6 L913.6,187.4 L908.0,187.2 L906.8,187.4 L905.7,187.9 L904.6,188.9 L903.4,190.2 L902.3,191.8 L901.2,193.6 L900.1,195.4 L899.0,197.3 L897.9,199.1 L896.8,200.7 L895.8,202.0 L894.7,203.0 L893.6,203.6 L892.6,203.9Z" fill="#a0141b" stroke="#a0141b" stroke-width="1.2" stroke-linejoin="round"/>
<path d="M924.9,204.8 L926.0,204.6 L927.1,204.0 L928.2,203.1 L929.4,201.8 L930.2,200.7 L927.7,195.9 L927.3,196.5 L926.1,198.3 L924.9,200.0 L923.8,201.5 L922.6,202.8 L921.5,203.8 L920.3,204.3 L919.3,204.5Z" fill="#a0141b" stroke="#a0141b" stroke-width="1.2" stroke-linejoin="round"/>
<path d="M886.0,203.4 L886.7,203.1 L887.8,202.1 L888.9,200.7 L889.9,199.1 L891.0,197.3 L892.1,195.5 L893.1,193.6 L894.2,191.8 L895.3,190.2 L896.4,188.9 L897.5,187.9 L898.6,187.2 L899.7,187.0 L894.0,187.0 L892.9,187.3 L891.8,187.9 L890.8,188.9 L889.7,190.2 L888.6,191.8 L887.6,193.6 L886.5,195.5 L886.0,196.3Z" fill="#c6691d" stroke="#c6691d" stroke-width="1.2" stroke-linejoin="round"/>
<path d="M911.3,204.1 L912.4,204.0 L913.5,203.4 L914.6,202.4 L915.8,201.2 L916.9,199.6 L918.1,197.9 L919.3,196.1 L920.4,194.3 L921.6,192.6 L922.8,191.0 L923.9,189.7 L924.2,189.5 L923.4,187.9 L921.7,187.8 L920.6,187.9 L919.5,188.5 L918.3,189.5 L917.2,190.7 L916.0,192.3 L914.8,194.0 L913.7,195.8 L912.5,197.6 L911.4,199.4 L910.2,200.9 L909.1,202.2 L908.0,203.2 L906.9,203.7 L905.8,203.9Z" fill="#c6691d" stroke="#c6691d" stroke-width="1.2" stroke-linejoin="round"/>
<path d="M886.0,187.1 L886.2,187.1 L887.0,187.3 L887.9,187.9 L888.7,188.9 L889.6,190.2 L890.4,191.8 L891.3,193.6 L892.2,195.5 L893.1,197.3 L893.9,199.1 L894.8,200.7 L895.6,202.0 L896.5,203.0 L897.3,203.6 L898.2,203.8 L892.5,203.9 L891.6,203.7 L890.7,203.0 L889.9,202.1 L889.0,200.7 L888.1,199.1 L887.2,197.4 L886.4,195.5 L886.0,194.7Z" fill="#ec1c24" stroke="#ec1c24" stroke-width="1.2" stroke-linejoin="round"/>
<path d="M913.8,187.4 L914.6,187.7 L915.4,188.3 L916.3,189.4 L917.1,190.7 L917.8,192.4 L918.6,194.2 L919.4,196.1 L920.1,198.0 L920.9,199.8 L921.7,201.4 L922.5,202.8 L923.3,203.9 L924.1,204.5 L925.0,204.8 L919.2,204.5 L918.3,204.2 L917.5,203.6 L916.7,202.5 L915.9,201.2 L915.1,199.5 L914.3,197.7 L913.6,195.8 L912.8,193.9 L912.0,192.1 L911.2,190.5 L910.4,189.1 L909.6,188.1 L908.7,187.4 L907.9,187.2Z" fill="#ec1c24" stroke="#ec1c24" stroke-width="1.2" stroke-linejoin="round"/>
<path d="M899.8,187.0 L900.7,187.2 L901.6,187.9 L902.4,188.9 L903.3,190.2 L904.1,191.8 L905.0,193.6 L905.8,195.5 L906.6,197.4 L907.4,199.2 L908.2,200.8 L909.0,202.2 L909.8,203.2 L910.6,203.9 L911.4,204.1 L905.7,203.9 L904.9,203.7 L904.1,203.1 L903.3,202.0 L902.5,200.7 L901.7,199.1 L900.8,197.3 L900.0,195.4 L899.1,193.6 L898.3,191.8 L897.4,190.2 L896.5,188.9 L895.6,187.9 L894.8,187.3 L893.9,187.0Z" fill="#f7941e" stroke="#f7941e" stroke-width="1.2" stroke-linejoin="round"/>
<path d="M923.4,187.9 L932.6,205.1 L931.9,204.9 L931.1,204.2 L930.3,203.2 L929.5,201.8 L928.7,200.2 L927.9,198.4 L927.2,196.5 L926.4,194.6 L925.6,192.7 L924.8,191.1 L924.0,189.7 L923.2,188.7 L922.4,188.0 L921.6,187.8Z" fill="#f7941e" stroke="#f7941e" stroke-width="1.2" stroke-linejoin="round"/>
<path d="M909.4,159.8 L909.6,160.8 L909.9,161.8 L910.2,162.7 L910.5,163.7 L910.8,164.6 L911.1,165.6 L911.4,166.5 L911.8,167.5 L912.2,168.4 L912.5,169.3 L912.9,170.2 L913.4,171.1 L913.8,172.0 L914.3,172.9 L914.7,173.8 L915.2,174.7 L915.7,175.5 L916.2,176.4 L916.8,177.2 L917.3,178.1 L917.9,178.9 L918.5,179.7 L919.1,180.5 L919.7,181.3 L920.3,182.1 L920.9,182.9 L921.6,183.6 L922.3,184.4 L923.0,185.1 L923.7,185.8 L924.4,186.4 L925.2,187.1 L926.0,187.7 L926.8,188.3 L927.7,188.8 L928.5,189.3 L929.4,189.7 L930.3,190.1 L931.3,190.4 L932.3,190.7 L933.2,191.0 L934.2,191.2 L935.2,191.4 L936.2,191.6" fill="none" stroke="#fff" stroke-width="21"/>
<path d="M957.1,187.1 L957.1,186.2 L957.5,185.0 L958.1,184.0 L956.1,186.1Z" fill="#a0141b" stroke="#a0141b" stroke-width="1.2" stroke-linejoin="round"/>
<path d="M978.4,187.4 L979.0,186.5 L979.4,185.3 L979.5,183.7 L979.3,182.0 L978.9,180.0 L978.3,178.0 L977.6,175.9 L976.7,174.0 L975.9,172.1 L975.1,170.4 L974.6,168.8 L974.3,167.4 L974.2,166.4 L974.4,165.5 L971.8,169.6 L971.6,170.3 L971.6,171.3 L971.8,172.7 L972.2,174.2 L972.7,176.0 L973.3,178.0 L973.8,180.1 L974.4,182.2 L974.9,184.2 L975.3,186.0 L975.6,187.7 L975.5,189.2 L975.1,190.5 L974.5,191.5Z" fill="#a0141b" stroke="#a0141b" stroke-width="1.2" stroke-linejoin="round"/>
<path d="M994.1,161.3 L994.3,160.2 L994.1,158.9 L993.5,157.5 L992.6,156.0 L991.4,154.4 L990.1,152.8 L988.6,151.2 L987.1,149.7 L985.6,148.3 L984.3,146.9 L983.2,145.7 L982.4,144.6 L982.0,143.6 L981.9,142.7 L981.0,147.2 L981.0,148.2 L981.3,149.3 L982.0,150.5 L982.9,151.9 L984.1,153.4 L985.5,154.9 L986.9,156.6 L988.3,158.2 L989.6,159.8 L990.7,161.4 L991.7,162.8 L992.3,164.1 L992.5,165.4 L992.3,166.6Z" fill="#a0141b" stroke="#a0141b" stroke-width="1.2" stroke-linejoin="round"/>
<path d="M998.2,130.7 L997.9,129.6 L997.1,128.5 L995.9,127.5 L994.4,126.6 L992.6,125.8 L990.6,125.1 L988.6,124.4 L986.5,123.8 L984.5,123.2 L982.7,122.6 L981.2,122.0 L979.9,121.3 L979.1,120.6 L978.6,119.8 L980.0,124.5 L980.4,125.4 L981.2,126.2 L982.4,127.0 L983.9,127.7 L985.7,128.4 L987.6,129.1 L989.6,129.9 L991.6,130.7 L993.6,131.6 L995.3,132.5 L996.7,133.5 L997.8,134.6 L998.5,135.8 L998.8,137.0Z" fill="#a0141b" stroke="#a0141b" stroke-width="1.2" stroke-linejoin="round"/>
<path d="M987.6,101.2 L986.6,100.3 L985.2,99.7 L983.6,99.4 L981.8,99.5 L979.8,99.8 L977.7,100.4 L975.7,101.1 L973.7,101.9 L971.8,102.7 L970.1,103.4 L968.5,104.0 L967.2,104.3 L966.1,104.4 L965.2,104.0 L969.1,106.6 L970.0,107.0 L971.0,107.1 L972.4,106.9 L973.9,106.5 L975.7,106.0 L977.7,105.5 L979.8,104.9 L981.9,104.6 L984.0,104.4 L986.0,104.4 L987.9,104.7 L989.4,105.3 L990.7,106.2 L991.6,107.3Z" fill="#a0141b" stroke="#a0141b" stroke-width="1.2" stroke-linejoin="round"/>
<path d="M960.1,84.2 L958.7,84.2 L957.4,84.6 L956.0,85.4 L954.6,86.6 L953.2,88.0 L952.0,89.7 L950.8,91.5 L949.7,93.4 L948.6,95.1 L947.7,96.8 L946.8,98.1 L946.0,99.2 L945.2,99.9 L944.3,100.2 L948.8,99.9 L949.7,99.7 L950.6,99.1 L951.6,98.2 L952.6,96.9 L953.8,95.4 L955.0,93.8 L956.3,92.1 L957.8,90.4 L959.2,88.9 L960.8,87.6 L962.3,86.7 L963.8,86.1 L965.3,85.9 L966.6,86.1Z" fill="#a0141b" stroke="#a0141b" stroke-width="1.2" stroke-linejoin="round"/>
<path d="M928.1,87.5 L927.0,88.3 L926.1,89.5 L925.5,91.0 L925.1,92.8 L925.0,94.7 L925.0,96.8 L925.2,99.0 L925.4,101.2 L925.7,103.2 L926.0,105.0 L926.2,106.6 L926.2,108.0 L926.0,109.0 L925.6,109.7 L928.8,106.8 L929.3,106.1 L929.7,105.1 L929.9,103.7 L929.9,102.1 L929.9,100.3 L929.9,98.2 L929.9,96.1 L930.0,93.9 L930.3,91.8 L930.8,89.8 L931.5,88.1 L932.4,86.7 L933.4,85.7 L934.6,85.1Z" fill="#a0141b" stroke="#a0141b" stroke-width="1.2" stroke-linejoin="round"/>
<path d="M905.3,110.7 L905.0,112.0 L905.1,113.4 L905.6,114.8 L906.5,116.4 L907.6,118.0 L909.0,119.6 L910.4,121.2 L911.9,122.8 L913.4,124.2 L914.6,125.7 L915.7,126.9 L916.4,128.2 L916.8,129.3 L916.8,130.3 L918.0,125.4 L918.1,124.3 L917.7,123.2 L917.1,122.0 L916.1,120.6 L914.9,119.1 L913.6,117.6 L912.2,115.9 L910.9,114.2 L909.7,112.4 L908.8,110.7 L908.1,109.0 L907.8,107.4 L907.9,105.9 L908.4,104.7Z" fill="#a0141b" stroke="#a0141b" stroke-width="1.2" stroke-linejoin="round"/>
<path d="M898.7,140.3 L898.9,141.5 L899.6,142.8 L900.6,144.0 L902.0,145.1 L903.6,146.1 L905.5,147.1 L907.4,148.1 L909.4,148.9 L911.3,149.8 L913.0,150.6 L914.5,151.4 L915.6,152.2 L916.4,153.1 L916.8,154.0 L916.0,149.0 L915.7,148.1 L915.0,147.2 L913.9,146.3 L912.5,145.4 L910.8,144.5 L909.0,143.5 L907.1,142.5 L905.2,141.4 L903.5,140.2 L901.9,139.0 L900.7,137.7 L899.7,136.4 L899.2,135.1 L899.2,133.8Z" fill="#a0141b" stroke="#a0141b" stroke-width="1.2" stroke-linejoin="round"/>
<path d="M903.8,170.1 L904.5,171.2 L905.5,172.1 L906.9,172.9 L908.6,173.4 L910.6,173.7 L912.7,173.9 L914.9,174.0 L917.0,174.0 L919.1,174.0 L920.9,174.0 L922.6,174.1 L923.9,174.4 L925.0,174.8 L925.7,175.4 L923.0,171.4 L922.4,170.7 L921.4,170.2 L920.1,169.9 L918.4,169.6 L916.6,169.4 L914.5,169.2 L912.4,169.0 L910.3,168.7 L908.2,168.3 L906.3,167.7 L904.6,167.0 L903.3,166.2 L902.4,165.2 L901.8,164.0Z" fill="#a0141b" stroke="#a0141b" stroke-width="1.2" stroke-linejoin="round"/>
<path d="M923.1,195.8 L924.6,196.5 L926.3,196.6 L928.1,196.3 L929.9,195.5 L931.6,194.3 L933.2,192.9 L934.6,191.3 L936.0,189.6 L937.3,188.1 L938.6,186.6 L939.8,185.5 L941.1,184.6 L942.3,184.2 L943.5,184.2 L937.9,183.3 L937.0,183.4 L936.0,183.8 L934.9,184.6 L933.8,185.7 L932.4,187.0 L931.0,188.3 L929.3,189.7 L927.4,190.8 L925.4,191.7 L923.5,192.3 L921.6,192.6 L919.9,192.5 L918.4,192.0 L917.3,191.3Z" fill="#a0141b" stroke="#a0141b" stroke-width="1.2" stroke-linejoin="round"/>
<path d="M967.9,197.9 L968.8,197.1 L969.4,196.2 L969.7,195.0 L969.8,193.6 L969.6,191.8 L969.3,189.9 L968.8,187.9 L968.3,185.8 L967.7,183.7 L967.2,181.7 L966.8,179.9 L966.5,178.2 L966.6,176.6 L967.0,175.4 L967.6,174.5 L963.7,178.5 L963.1,179.4 L962.8,180.6 L962.7,182.0 L962.9,183.7 L963.3,185.6 L963.7,187.7 L964.3,189.7 L964.8,191.8 L965.3,193.9 L965.6,195.6Z" fill="#c6691d" stroke="#c6691d" stroke-width="1.2" stroke-linejoin="round"/>
<path d="M988.1,175.3 L988.6,174.1 L988.7,172.7 L988.4,171.0 L987.8,169.3 L986.8,167.6 L985.6,165.8 L984.3,164.1 L982.9,162.5 L981.5,160.9 L980.4,159.4 L979.5,157.9 L978.9,156.5 L978.7,155.3 L978.8,154.2 L976.9,159.6 L976.8,160.6 L977.1,161.6 L977.7,162.9 L978.6,164.2 L979.6,165.7 L980.8,167.4 L982.0,169.2 L983.0,171.1 L984.0,173.0 L984.7,174.9 L985.2,176.6 L985.4,178.0 L985.2,179.5 L984.5,180.8Z" fill="#c6691d" stroke="#c6691d" stroke-width="1.2" stroke-linejoin="round"/>
<path d="M998.2,146.9 L998.2,145.5 L997.8,144.1 L996.9,142.8 L995.7,141.4 L994.1,140.1 L992.4,138.9 L990.5,137.8 L988.5,136.9 L986.7,136.0 L985.0,135.1 L983.6,134.2 L982.5,133.4 L981.7,132.5 L981.4,131.6 L982.0,136.5 L982.2,137.4 L982.9,138.3 L983.9,139.2 L985.3,140.1 L986.8,141.1 L988.5,142.2 L990.3,143.4 L992.0,144.8 L993.5,146.2 L994.9,147.7 L995.9,149.1 L996.6,150.6 L996.9,151.9 L996.8,153.1Z" fill="#c6691d" stroke="#c6691d" stroke-width="1.2" stroke-linejoin="round"/>
<path d="M995.0,116.1 L994.5,115.0 L993.5,114.0 L992.1,113.2 L990.4,112.5 L988.5,112.1 L986.4,111.7 L984.3,111.5 L982.1,111.5 L980.1,111.5 L978.3,111.6 L976.7,111.6 L975.4,111.5 L974.4,111.3 L973.7,110.8 L976.1,114.1 L976.6,114.6 L977.6,115.0 L978.8,115.4 L980.4,115.7 L982.3,116.0 L984.3,116.3 L986.4,116.7 L988.5,117.1 L990.6,117.7 L992.4,118.3 L994.0,119.1 L995.3,120.0 L996.2,121.0 L996.7,122.1Z" fill="#c6691d" stroke="#c6691d" stroke-width="1.2" stroke-linejoin="round"/>
<path d="M975.2,90.5 L974.1,90.1 L972.7,90.0 L971.2,90.2 L969.4,90.8 L967.6,91.7 L965.8,92.8 L964.1,94.2 L962.4,95.5 L960.9,96.9 L959.5,98.1 L958.3,99.2 L957.2,100.0 L956.2,100.4 L955.3,100.4 L959.6,101.5 L960.4,101.5 L961.4,101.3 L962.6,100.6 L964.0,99.8 L965.5,98.8 L967.2,97.7 L969.1,96.6 L971.0,95.6 L972.9,94.6 L974.7,93.9 L976.5,93.5 L978.1,93.4 L979.4,93.7 L980.6,94.3Z" fill="#c6691d" stroke="#c6691d" stroke-width="1.2" stroke-linejoin="round"/>
<path d="M944.0,83.3 L942.7,83.7 L941.6,84.5 L940.4,85.7 L939.5,87.2 L938.6,89.0 L937.9,91.0 L937.3,93.1 L936.8,95.2 L936.4,97.2 L936.0,99.0 L935.7,100.6 L935.3,101.8 L934.8,102.7 L934.2,103.3 L938.1,101.6 L938.8,101.2 L939.5,100.3 L940.1,99.1 L940.7,97.6 L941.3,95.9 L942.0,94.0 L942.8,91.9 L943.7,89.9 L944.6,88.1 L945.7,86.4 L946.8,85.0 L948.1,83.9 L949.3,83.3 L950.6,83.1Z" fill="#c6691d" stroke="#c6691d" stroke-width="1.2" stroke-linejoin="round"/>
<path d="M914.7,96.9 L913.9,98.0 L913.4,99.4 L913.3,101.0 L913.5,102.8 L914.1,104.8 L914.8,106.8 L915.8,108.7 L916.8,110.6 L917.9,112.3 L918.8,113.9 L919.6,115.4 L920.1,116.6 L920.4,117.7 L920.2,118.6 L922.1,114.5 L922.3,113.7 L922.2,112.7 L921.9,111.4 L921.3,109.9 L920.6,108.2 L919.9,106.3 L919.2,104.3 L918.6,102.2 L918.1,100.1 L917.9,98.1 L918.0,96.3 L918.3,94.7 L918.9,93.4 L919.9,92.5Z" fill="#c6691d" stroke="#c6691d" stroke-width="1.2" stroke-linejoin="round"/>
<path d="M900.7,125.2 L900.7,126.4 L901.0,127.6 L901.8,129.0 L902.9,130.4 L904.3,131.7 L905.9,133.1 L907.6,134.5 L909.3,135.8 L911.0,137.0 L912.5,138.1 L913.7,139.1 L914.7,140.1 L915.3,141.0 L915.5,142.0 L915.7,137.2 L915.6,136.4 L915.1,135.3 L914.2,134.2 L913.1,133.0 L911.7,131.7 L910.1,130.4 L908.5,129.0 L906.9,127.5 L905.4,126.0 L904.1,124.6 L903.1,123.1 L902.4,121.7 L902.1,120.4 L902.3,119.2Z" fill="#c6691d" stroke="#c6691d" stroke-width="1.2" stroke-linejoin="round"/>
<path d="M900.0,155.4 L900.4,156.5 L901.2,157.6 L902.4,158.5 L903.9,159.4 L905.7,160.1 L907.7,160.8 L909.8,161.4 L911.9,162.0 L913.9,162.5 L915.7,162.9 L917.3,163.4 L918.6,164.0 L919.5,164.6 L920.0,165.4 L918.4,160.9 L917.9,160.1 L917.1,159.3 L915.9,158.6 L914.4,158.0 L912.6,157.3 L910.6,156.7 L908.6,156.0 L906.6,155.2 L904.6,154.4 L902.9,153.6 L901.4,152.6 L900.2,151.6 L899.5,150.5 L899.1,149.3Z" fill="#c6691d" stroke="#c6691d" stroke-width="1.2" stroke-linejoin="round"/>
<path d="M911.1,183.9 L912.0,184.8 L913.3,185.5 L914.9,185.8 L916.7,185.9 L918.7,185.8 L920.8,185.5 L922.9,185.0 L924.9,184.3 L926.8,183.7 L928.6,183.0 L930.0,182.5 L931.2,182.1 L932.1,181.9 L932.6,181.9 L929.9,180.0 L929.1,179.6 L928.1,179.5 L926.8,179.6 L925.2,179.8 L923.4,180.1 L921.3,180.4 L919.2,180.7 L917.1,181.0 L914.9,181.0 L913.0,181.0 L911.2,180.7 L909.7,180.2 L908.5,179.5 L907.7,178.5Z" fill="#c6691d" stroke="#c6691d" stroke-width="1.2" stroke-linejoin="round"/>
<path d="M939.4,200.5 L940.4,200.5 L941.4,200.0 L942.5,199.2 L943.7,198.1 L943.9,197.9 L945.9,189.0 L945.5,189.4 L944.0,190.9 L942.5,192.5 L941.2,194.2 L939.9,195.8 L938.6,197.2 L937.3,198.4 L936.0,199.2 L934.8,199.6 L933.5,199.6Z" fill="#c6691d" stroke="#c6691d" stroke-width="1.2" stroke-linejoin="round"/>
<path d="M956.1,186.1 L958.2,184.0 L958.9,183.5 L960.0,183.4 L961.3,183.5 L962.8,183.8 L964.6,184.4 L966.4,185.0 L968.3,185.7 L970.3,186.4 L972.1,187.1 L973.9,187.5 L975.5,187.8 L976.8,187.9 L977.8,187.8 L978.5,187.3 L974.4,191.5 L973.6,192.0 L972.6,192.2 L971.3,192.1 L969.7,191.8 L968.0,191.2 L966.1,190.6 L964.2,189.8 L962.3,189.1 L960.4,188.4 L958.7,187.9 L957.7,187.7Z" fill="#ec1c24" stroke="#ec1c24" stroke-width="1.2" stroke-linejoin="round"/>
<path d="M974.5,165.4 L975.0,165.0 L975.8,164.6 L977.0,164.5 L978.5,164.3 L980.3,164.3 L982.2,164.2 L984.3,164.0 L986.3,163.9 L988.3,163.6 L990.1,163.3 L991.6,162.9 L992.8,162.5 L993.7,161.9 L994.2,161.2 L992.2,166.7 L991.7,167.6 L990.7,168.3 L989.4,168.8 L987.8,169.2 L986.0,169.4 L984.0,169.4 L981.9,169.3 L979.9,169.1 L977.9,168.9 L976.2,168.8 L974.6,168.7 L973.4,168.8 L972.4,169.2 L971.8,169.6Z" fill="#ec1c24" stroke="#ec1c24" stroke-width="1.2" stroke-linejoin="round"/>
<path d="M981.9,142.6 L982.2,142.0 L982.9,141.4 L983.9,140.8 L985.3,140.2 L986.9,139.5 L988.6,138.7 L990.5,137.7 L992.3,136.8 L994.0,135.8 L995.5,134.7 L996.7,133.7 L997.6,132.6 L998.1,131.6 L998.2,130.6 L998.8,137.1 L998.7,138.1 L998.1,139.2 L997.1,140.2 L995.7,141.2 L994.1,142.1 L992.2,142.9 L990.2,143.5 L988.3,144.1 L986.4,144.6 L984.7,145.1 L983.3,145.6 L982.1,146.1 L981.4,146.6 L981.0,147.3Z" fill="#ec1c24" stroke="#ec1c24" stroke-width="1.2" stroke-linejoin="round"/>
<path d="M978.6,119.7 L978.5,118.9 L978.8,118.0 L979.5,117.0 L980.5,115.8 L981.6,114.5 L982.9,113.0 L984.2,111.4 L985.5,109.8 L986.6,108.1 L987.4,106.4 L988.0,104.8 L988.2,103.4 L988.0,102.1 L987.5,101.1 L991.6,107.4 L991.9,108.5 L991.8,109.7 L991.3,111.0 L990.4,112.4 L989.3,113.9 L987.9,115.4 L986.4,116.8 L984.9,118.2 L983.5,119.5 L982.2,120.8 L981.1,121.9 L980.4,122.9 L980.0,123.8 L980.0,124.6Z" fill="#ec1c24" stroke="#ec1c24" stroke-width="1.2" stroke-linejoin="round"/>
<path d="M965.1,104.0 L964.5,103.4 L964.2,102.6 L964.1,101.4 L964.1,99.9 L964.1,98.1 L964.0,96.2 L964.0,94.1 L963.8,92.1 L963.5,90.1 L963.1,88.3 L962.5,86.7 L961.8,85.5 L960.9,84.6 L959.9,84.2 L966.7,86.2 L967.7,86.8 L968.4,87.8 L969.0,89.1 L969.3,90.7 L969.4,92.6 L969.3,94.6 L969.2,96.7 L968.9,98.7 L968.7,100.6 L968.5,102.4 L968.5,103.9 L968.5,105.2 L968.7,106.1 L969.2,106.7Z" fill="#ec1c24" stroke="#ec1c24" stroke-width="1.2" stroke-linejoin="round"/>
<path d="M944.2,100.2 L943.5,100.1 L942.7,99.6 L941.8,98.8 L940.8,97.6 L939.7,96.2 L938.5,94.7 L937.2,93.1 L935.9,91.6 L934.4,90.1 L933.0,89.0 L931.6,88.0 L930.3,87.5 L929.1,87.3 L928.0,87.6 L934.7,85.1 L935.8,85.0 L936.9,85.4 L938.1,86.1 L939.3,87.2 L940.6,88.6 L941.7,90.2 L942.9,91.9 L944.0,93.7 L945.0,95.3 L945.9,96.9 L946.7,98.1 L947.5,99.1 L948.2,99.7 L948.9,99.9Z" fill="#ec1c24" stroke="#ec1c24" stroke-width="1.2" stroke-linejoin="round"/>
<path d="M925.5,109.8 L925.0,110.1 L924.0,110.2 L922.9,110.1 L921.4,109.9 L919.6,109.5 L917.7,109.1 L915.7,108.8 L913.7,108.6 L911.7,108.5 L909.8,108.6 L908.2,108.9 L906.8,109.4 L905.8,110.0 L905.2,110.8 L908.5,104.5 L909.2,103.8 L910.4,103.2 L911.8,103.0 L913.5,102.9 L915.3,103.2 L917.3,103.6 L919.2,104.2 L921.2,104.9 L923.0,105.6 L924.6,106.2 L926.1,106.7 L927.3,107.0 L928.2,107.0 L928.8,106.8Z" fill="#ec1c24" stroke="#ec1c24" stroke-width="1.2" stroke-linejoin="round"/>
<path d="M916.8,130.4 L916.4,131.1 L915.7,131.7 L914.5,132.3 L913.1,132.9 L911.4,133.4 L909.5,134.0 L907.6,134.6 L905.6,135.2 L903.7,135.9 L902.1,136.7 L900.7,137.6 L899.6,138.5 L899.0,139.5 L898.7,140.4 L899.2,133.7 L899.5,132.8 L900.3,131.9 L901.4,131.2 L902.9,130.5 L904.6,129.9 L906.5,129.3 L908.5,128.9 L910.5,128.4 L912.4,128.0 L914.2,127.5 L915.6,127.1 L916.8,126.5 L917.6,126.0 L918.0,125.3Z" fill="#ec1c24" stroke="#ec1c24" stroke-width="1.2" stroke-linejoin="round"/>
<path d="M916.8,154.1 L916.7,155.0 L916.3,155.9 L915.5,156.8 L914.3,157.9 L913.0,159.0 L911.4,160.2 L909.8,161.5 L908.3,162.9 L906.8,164.2 L905.6,165.6 L904.6,166.9 L904.0,168.1 L903.7,169.3 L903.8,170.2 L901.8,163.9 L901.7,162.9 L902.1,161.8 L902.9,160.7 L904.0,159.5 L905.3,158.3 L906.9,157.1 L908.6,155.9 L910.3,154.7 L911.9,153.6 L913.3,152.5 L914.5,151.5 L915.4,150.6 L915.9,149.7 L916.0,148.9Z" fill="#ec1c24" stroke="#ec1c24" stroke-width="1.2" stroke-linejoin="round"/>
<path d="M925.7,175.5 L926.0,176.2 L926.0,177.1 L925.7,178.3 L925.1,179.7 L924.4,181.3 L923.7,183.1 L922.9,185.0 L922.3,187.0 L921.8,188.9 L921.5,190.8 L921.5,192.5 L921.8,193.9 L922.3,195.1 L923.2,195.9 L917.2,191.2 L916.6,190.3 L916.3,189.1 L916.4,187.6 L916.8,186.0 L917.4,184.3 L918.2,182.5 L919.1,180.6 L920.2,178.9 L921.1,177.2 L922.0,175.6 L922.7,174.2 L923.1,173.1 L923.2,172.1 L923.0,171.3Z" fill="#ec1c24" stroke="#ec1c24" stroke-width="1.2" stroke-linejoin="round"/>
<path d="M943.6,184.2 L944.6,184.5 L945.4,185.3 L946.2,186.5 L946.4,187.0 L943.8,198.2 L943.8,198.1 L943.4,196.4 L942.9,194.5 L942.4,192.5 L941.9,190.5 L941.3,188.6 L940.6,186.9 L940.0,185.5 L939.3,184.4 L938.6,183.6 L937.8,183.3Z" fill="#ec1c24" stroke="#ec1c24" stroke-width="1.2" stroke-linejoin="round"/>
<path d="M967.6,197.6 L968.1,197.5 L968.8,197.1 L967.9,197.9Z" fill="#f7941e" stroke="#f7941e" stroke-width="1.2" stroke-linejoin="round"/>
<path d="M967.6,174.4 L968.4,174.0 L969.4,173.8 L970.6,174.0 L972.1,174.3 L973.8,174.8 L975.7,175.3 L977.7,175.9 L979.7,176.3 L981.7,176.6 L983.5,176.7 L985.1,176.7 L986.4,176.5 L987.5,176.0 L988.2,175.2 L984.4,180.8 L983.6,181.6 L982.4,181.9 L981.0,182.0 L979.4,181.9 L977.6,181.4 L975.7,180.8 L973.8,180.2 L971.8,179.5 L970.0,178.8 L968.2,178.3 L966.6,178.1 L965.3,178.0 L964.3,178.2 L963.6,178.6Z" fill="#f7941e" stroke="#f7941e" stroke-width="1.2" stroke-linejoin="round"/>
<path d="M978.9,154.1 L979.3,153.4 L980.2,152.8 L981.4,152.4 L982.9,152.0 L984.7,151.7 L986.6,151.4 L988.6,151.2 L990.7,150.8 L992.6,150.4 L994.4,149.9 L995.9,149.3 L997.1,148.5 L997.9,147.7 L998.3,146.7 L996.8,153.2 L996.3,154.1 L995.4,154.8 L994.2,155.4 L992.7,155.9 L990.9,156.2 L988.9,156.5 L986.9,156.7 L984.8,156.9 L982.8,157.1 L981.1,157.4 L979.5,157.7 L978.3,158.3 L977.4,158.9 L976.9,159.7Z" fill="#f7941e" stroke="#f7941e" stroke-width="1.2" stroke-linejoin="round"/>
<path d="M981.4,131.5 L981.5,130.7 L981.9,129.8 L982.8,128.9 L983.9,127.8 L985.3,126.7 L986.9,125.5 L988.5,124.3 L990.2,123.0 L991.7,121.7 L993.0,120.5 L994.1,119.3 L994.8,118.1 L995.1,117.0 L995.0,116.0 L996.7,122.2 L996.7,123.2 L996.3,124.2 L995.5,125.3 L994.3,126.5 L992.9,127.7 L991.3,128.8 L989.6,130.0 L987.9,131.1 L986.3,132.2 L984.8,133.2 L983.6,134.1 L982.7,135.0 L982.1,135.8 L982.0,136.6Z" fill="#f7941e" stroke="#f7941e" stroke-width="1.2" stroke-linejoin="round"/>
<path d="M973.6,110.7 L973.4,110.1 L973.4,109.2 L973.6,108.0 L974.0,106.6 L974.5,104.9 L975.1,103.0 L975.6,101.0 L976.1,99.0 L976.4,97.1 L976.6,95.2 L976.6,93.6 L976.3,92.2 L975.9,91.2 L975.2,90.5 L980.7,94.4 L981.4,95.2 L981.8,96.3 L981.8,97.7 L981.7,99.4 L981.2,101.2 L980.6,103.1 L979.8,105.0 L979.0,106.9 L978.1,108.6 L977.3,110.2 L976.6,111.5 L976.2,112.6 L976.0,113.5 L976.1,114.1Z" fill="#f7941e" stroke="#f7941e" stroke-width="1.2" stroke-linejoin="round"/>
<path d="M955.2,100.4 L954.6,100.1 L954.0,99.4 L953.4,98.3 L952.8,96.9 L952.1,95.3 L951.4,93.4 L950.7,91.5 L949.8,89.6 L949.0,87.9 L948.0,86.3 L947.0,85.0 L946.0,84.0 L944.9,83.5 L943.9,83.4 L950.7,83.1 L951.7,83.4 L952.7,84.1 L953.6,85.1 L954.4,86.5 L955.2,88.2 L955.9,90.1 L956.4,92.1 L956.9,94.1 L957.4,96.0 L957.8,97.7 L958.2,99.2 L958.6,100.3 L959.1,101.1 L959.6,101.5Z" fill="#f7941e" stroke="#f7941e" stroke-width="1.2" stroke-linejoin="round"/>
<path d="M934.1,103.3 L933.4,103.5 L932.5,103.3 L931.3,102.8 L930.0,102.1 L928.5,101.1 L926.8,100.1 L925.1,99.1 L923.3,98.1 L921.5,97.2 L919.7,96.6 L918.1,96.2 L916.7,96.1 L915.5,96.4 L914.6,97.0 L920.0,92.4 L921.0,92.0 L922.1,91.9 L923.5,92.2 L925.0,92.8 L926.6,93.7 L928.3,94.8 L930.0,96.0 L931.6,97.3 L933.1,98.5 L934.4,99.7 L935.6,100.6 L936.6,101.3 L937.4,101.6 L938.2,101.6Z" fill="#f7941e" stroke="#f7941e" stroke-width="1.2" stroke-linejoin="round"/>
<path d="M920.2,118.7 L919.7,119.3 L918.9,119.8 L917.7,120.2 L916.2,120.5 L914.4,120.8 L912.4,121.0 L910.4,121.3 L908.4,121.6 L906.4,122.0 L904.6,122.4 L903.1,123.0 L901.9,123.6 L901.1,124.4 L900.7,125.3 L902.3,119.1 L902.8,118.3 L903.6,117.6 L904.9,117.0 L906.4,116.5 L908.2,116.2 L910.2,116.0 L912.3,115.8 L914.3,115.7 L916.3,115.6 L918.0,115.6 L919.6,115.4 L920.8,115.3 L921.6,114.9 L922.1,114.4Z" fill="#f7941e" stroke="#f7941e" stroke-width="1.2" stroke-linejoin="round"/>
<path d="M915.5,142.1 L915.3,142.8 L914.7,143.6 L913.8,144.4 L912.5,145.3 L910.9,146.2 L909.2,147.1 L907.5,148.2 L905.7,149.2 L904.0,150.3 L902.6,151.4 L901.4,152.5 L900.5,153.5 L900.0,154.5 L900.0,155.5 L899.1,149.2 L899.2,148.2 L899.8,147.2 L900.7,146.2 L902.0,145.2 L903.5,144.2 L905.3,143.3 L907.1,142.4 L909.0,141.5 L910.8,140.7 L912.4,140.0 L913.7,139.2 L914.8,138.6 L915.4,137.9 L915.7,137.2Z" fill="#f7941e" stroke="#f7941e" stroke-width="1.2" stroke-linejoin="round"/>
<path d="M920.0,165.5 L920.1,166.2 L919.9,167.2 L919.3,168.2 L918.4,169.5 L917.3,170.9 L916.1,172.5 L914.9,174.1 L913.7,175.8 L912.6,177.5 L911.8,179.1 L911.1,180.6 L910.8,181.9 L910.8,183.1 L911.2,184.0 L907.7,178.4 L907.4,177.4 L907.5,176.3 L907.9,174.9 L908.7,173.5 L909.7,172.0 L911.0,170.4 L912.4,168.9 L913.8,167.4 L915.1,166.0 L916.3,164.7 L917.3,163.5 L918.0,162.5 L918.4,161.6 L918.4,160.8Z" fill="#f7941e" stroke="#f7941e" stroke-width="1.2" stroke-linejoin="round"/>
<path d="M932.7,182.0 L932.9,182.3 L933.2,183.1 L933.4,184.2 L933.6,185.7 L933.9,187.4 L934.3,189.3 L934.7,191.3 L935.3,193.3 L935.8,195.2 L936.5,196.9 L937.2,198.4 L937.9,199.5 L938.7,200.2 L939.5,200.5 L933.4,199.6 L932.4,199.2 L931.5,198.4 L930.7,197.1 L930.0,195.5 L929.6,193.7 L929.3,191.7 L929.2,189.6 L929.3,187.6 L929.6,185.7 L929.9,184.0 L930.1,182.5 L930.2,181.4 L930.2,180.5 L929.8,180.0Z" fill="#f7941e" stroke="#f7941e" stroke-width="1.2" stroke-linejoin="round"/>
<path d="M1067.6,198.8 L1070.2,198.9 L1071.3,198.8 L1072.4,198.2 L1073.5,197.3 L1074.7,196.0 L1075.9,194.5 L1077.0,192.7 L1078.2,190.9 L1079.4,189.1 L1080.6,187.4 L1081.7,185.9 L1082.9,184.6 L1084.0,183.6 L1085.1,183.1 L1086.2,182.9 L1080.6,182.6 L1079.5,182.8 L1078.4,183.4 L1077.3,184.3 L1076.1,185.6 L1075.0,187.1 L1073.8,188.8 L1072.6,190.6 L1071.4,192.4 L1070.3,194.2 L1069.1,195.7 L1068.0,197.0 L1067.1,197.7Z" fill="#a0141b" stroke="#a0141b" stroke-width="1.2" stroke-linejoin="round"/>
<path d="M1097.4,200.2 L1098.5,200.1 L1099.7,199.5 L1100.8,198.5 L1101.9,197.3 L1103.1,195.7 L1104.2,194.0 L1105.4,192.2 L1106.6,190.3 L1107.7,188.6 L1108.9,187.0 L1110.0,185.8 L1111.1,184.8 L1112.2,184.2 L1113.3,184.1 L1107.7,183.8 L1106.6,184.0 L1105.5,184.6 L1104.4,185.5 L1103.3,186.8 L1102.1,188.4 L1101.0,190.1 L1099.8,191.9 L1098.6,193.7 L1097.5,195.5 L1096.3,197.0 L1095.2,198.3 L1094.0,199.3 L1092.9,199.8 L1091.8,200.0Z" fill="#a0141b" stroke="#a0141b" stroke-width="1.2" stroke-linejoin="round"/>
<path d="M1064.3,190.8 L1064.6,190.2 L1065.8,188.4 L1067.0,186.7 L1068.2,185.2 L1069.3,183.9 L1070.4,182.9 L1071.6,182.4 L1072.7,182.2 L1067.1,181.9 L1066.0,182.1 L1064.8,182.7 L1063.7,183.6 L1062.6,184.9 L1062.1,185.5Z" fill="#c6691d" stroke="#c6691d" stroke-width="1.2" stroke-linejoin="round"/>
<path d="M1083.8,199.6 L1084.9,199.5 L1086.0,198.9 L1087.2,197.9 L1088.3,196.7 L1089.5,195.1 L1090.6,193.4 L1091.8,191.6 L1093.0,189.8 L1094.1,188.0 L1095.3,186.5 L1096.4,185.2 L1097.5,184.3 L1098.7,183.7 L1099.7,183.5 L1094.2,183.3 L1093.1,183.4 L1092.0,184.0 L1090.8,185.0 L1089.7,186.2 L1088.6,187.8 L1087.4,189.5 L1086.2,191.3 L1085.0,193.1 L1083.9,194.9 L1082.7,196.4 L1081.5,197.7 L1080.4,198.6 L1079.3,199.2 L1078.2,199.3Z" fill="#c6691d" stroke="#c6691d" stroke-width="1.2" stroke-linejoin="round"/>
<path d="M1111.0,200.8 L1112.1,200.6 L1113.2,200.0 L1113.7,199.7 L1114.0,191.4 L1113.4,192.5 L1112.2,194.3 L1111.1,196.0 L1109.9,197.6 L1108.8,198.9 L1107.7,199.8 L1106.5,200.4 L1105.5,200.6Z" fill="#c6691d" stroke="#c6691d" stroke-width="1.2" stroke-linejoin="round"/>
<path d="M1060.8,182.4 L1060.8,182.5 L1061.6,183.5 L1062.4,184.9 L1063.2,186.5 L1064.0,188.3 L1064.7,190.2 L1065.5,192.1 L1066.3,194.0 L1067.0,195.6 L1067.8,197.0 L1068.6,198.0 L1069.5,198.7 L1070.3,198.9 L1067.6,198.8Z" fill="#ec1c24" stroke="#ec1c24" stroke-width="1.2" stroke-linejoin="round"/>
<path d="M1086.3,182.9 L1087.2,183.2 L1088.0,183.8 L1088.8,184.9 L1089.6,186.2 L1090.4,187.9 L1091.1,189.7 L1091.9,191.6 L1092.7,193.5 L1093.5,195.3 L1094.2,196.9 L1095.0,198.3 L1095.9,199.3 L1096.7,200.0 L1097.5,200.2 L1091.7,200.0 L1090.9,199.7 L1090.0,199.1 L1089.2,198.0 L1088.4,196.7 L1087.7,195.0 L1086.9,193.2 L1086.1,191.3 L1085.3,189.4 L1084.6,187.6 L1083.8,186.0 L1083.0,184.6 L1082.2,183.5 L1081.4,182.9 L1080.5,182.6Z" fill="#ec1c24" stroke="#ec1c24" stroke-width="1.2" stroke-linejoin="round"/>
<path d="M1113.4,184.1 L1114.3,184.3 L1114.3,184.4 L1113.9,194.1 L1113.3,192.5 L1112.5,190.6 L1111.7,188.8 L1110.9,187.1 L1110.1,185.8 L1109.3,184.7 L1108.5,184.1 L1107.6,183.8Z" fill="#ec1c24" stroke="#ec1c24" stroke-width="1.2" stroke-linejoin="round"/>
<path d="M1072.8,182.2 L1073.6,182.5 L1074.4,183.2 L1075.2,184.2 L1076.0,185.6 L1076.8,187.2 L1077.6,189.0 L1078.3,190.9 L1079.1,192.8 L1079.9,194.7 L1080.6,196.3 L1081.4,197.7 L1082.2,198.7 L1083.1,199.4 L1083.9,199.6 L1078.1,199.3 L1077.2,199.1 L1076.4,198.4 L1075.6,197.4 L1074.8,196.0 L1074.1,194.4 L1073.3,192.5 L1072.5,190.6 L1071.8,188.7 L1071.0,186.9 L1070.2,185.3 L1069.4,183.9 L1068.6,182.9 L1067.8,182.2 L1067.0,181.9Z" fill="#f7941e" stroke="#f7941e" stroke-width="1.2" stroke-linejoin="round"/>
<path d="M1099.8,183.5 L1100.7,183.8 L1101.5,184.4 L1102.3,185.5 L1103.1,186.8 L1103.9,188.4 L1104.7,190.3 L1105.5,192.2 L1106.3,194.1 L1107.1,195.9 L1107.9,197.5 L1108.7,198.9 L1109.5,199.9 L1110.3,200.5 L1111.1,200.8 L1105.4,200.6 L1104.5,200.3 L1103.7,199.7 L1102.9,198.6 L1102.1,197.3 L1101.3,195.6 L1100.5,193.8 L1099.7,191.9 L1098.9,190.0 L1098.1,188.2 L1097.3,186.6 L1096.6,185.2 L1095.7,184.2 L1094.9,183.5 L1094.1,183.3Z" fill="#f7941e" stroke="#f7941e" stroke-width="1.2" stroke-linejoin="round"/>
<path d="M1062.8,322.9 L1062.7,323.3 L1062.4,324.8 L1061.8,325.9 L1061.0,326.7 L1064.0,324.7Z" fill="#a0141b" stroke="#a0141b" stroke-width="1.2" stroke-linejoin="round"/>
<path d="M1054.6,310.8 L1053.0,311.8 L1052.2,312.6 L1051.7,313.7 L1051.3,315.1 L1051.2,316.8 L1051.1,318.8 L1051.2,320.6 L1054.2,331.2 L1054.3,331.1 L1055.1,330.3 L1055.6,329.2 L1056.0,327.8 L1056.2,326.1 L1056.2,324.2 L1056.1,322.1 L1056.0,319.9 L1055.9,317.8 L1055.8,315.7 L1055.8,313.8 L1055.9,312.7Z" fill="#c6691d" stroke="#c6691d" stroke-width="1.2" stroke-linejoin="round"/>
<path d="M1064.0,324.7 L1060.9,326.7 L1060.1,327.1 L1059.0,327.0 L1057.7,326.7 L1056.3,326.0 L1054.7,325.2 L1053.0,324.2 L1052.0,323.5 L1050.0,316.5 L1051.0,316.9 L1052.6,317.8 L1054.3,318.8 L1056.1,319.9 L1057.8,320.9 L1059.5,321.9 L1061.1,322.8 L1062.6,323.4 L1063.2,323.6Z" fill="#ec1c24" stroke="#ec1c24" stroke-width="1.2" stroke-linejoin="round"/>
<path d="M1055.2,311.8 L1054.8,311.6 L1053.7,311.6 L1052.9,311.9 L1054.6,310.8Z" fill="#f7941e" stroke="#f7941e" stroke-width="1.2" stroke-linejoin="round"/>
<path d="M1054.2,331.2 L1054.1,331.1 L1054.4,331.1Z" fill="#f7941e" stroke="#f7941e" stroke-width="1.2" stroke-linejoin="round"/>
<path d="M1023.3,331.6 L1018.9,334.6 L1018.0,335.5 L1017.4,336.7 L1017.1,338.2 L1017.0,340.0 L1017.1,342.0 L1017.4,344.1 L1017.8,346.2 L1018.3,348.3 L1018.8,350.3 L1019.3,352.0 L1019.7,353.6 L1019.8,355.0 L1019.7,356.1 L1019.3,357.0 L1022.3,353.5 L1022.8,352.7 L1023.0,351.7 L1023.0,350.3 L1022.9,348.7 L1022.7,346.8 L1022.4,344.8 L1022.1,342.6 L1021.9,340.5 L1021.8,338.4 L1021.8,336.4 L1022.0,334.7 L1022.3,333.2 L1023.0,332.1 L1023.4,331.7Z" fill="#a0141b" stroke="#a0141b" stroke-width="1.2" stroke-linejoin="round"/>
<path d="M998.8,358.6 L998.5,359.9 L998.6,361.3 L999.1,362.8 L999.9,364.4 L1001.1,366.0 L1002.4,367.6 L1003.9,369.2 L1005.4,370.7 L1006.9,372.1 L1008.3,373.5 L1009.4,374.7 L1010.2,375.8 L1010.6,376.8 L1010.7,377.8 L1011.6,373.1 L1011.6,372.2 L1011.2,371.1 L1010.6,369.9 L1009.6,368.6 L1008.4,367.1 L1007.1,365.6 L1005.7,363.9 L1004.4,362.2 L1003.2,360.4 L1002.3,358.6 L1001.6,357.0 L1001.3,355.4 L1001.4,354.0 L1001.8,352.8Z" fill="#a0141b" stroke="#a0141b" stroke-width="1.2" stroke-linejoin="round"/>
<path d="M993.4,388.9 L993.7,390.1 L994.4,391.3 L995.5,392.4 L996.9,393.4 L998.6,394.4 L1000.5,395.3 L1002.5,396.2 L1004.5,396.9 L1006.4,397.6 L1008.2,398.3 L1009.7,398.9 L1010.9,399.6 L1011.7,400.2 L1012.2,401.0 L1011.1,396.6 L1010.7,395.8 L1010.0,394.9 L1008.8,394.1 L1007.4,393.3 L1005.7,392.4 L1003.9,391.5 L1001.9,390.6 L1000.0,389.6 L998.2,388.6 L996.6,387.4 L995.2,386.3 L994.2,385.1 L993.6,383.9 L993.5,382.7Z" fill="#a0141b" stroke="#a0141b" stroke-width="1.2" stroke-linejoin="round"/>
<path d="M1002.1,418.9 L1002.9,419.8 L1004.2,420.6 L1005.7,421.0 L1007.5,421.2 L1009.5,421.2 L1011.6,420.9 L1013.8,420.5 L1015.9,420.0 L1017.8,419.4 L1019.6,418.8 L1021.1,418.4 L1022.4,418.1 L1023.3,418.1 L1024.0,418.2 L1021.0,415.8 L1020.3,415.4 L1019.2,415.2 L1017.9,415.3 L1016.3,415.4 L1014.4,415.6 L1012.4,415.9 L1010.3,416.1 L1008.1,416.2 L1006.0,416.2 L1004.0,416.0 L1002.3,415.6 L1000.8,415.0 L999.7,414.1 L998.9,413.1Z" fill="#a0141b" stroke="#a0141b" stroke-width="1.2" stroke-linejoin="round"/>
<path d="M1028.8,437.9 L1030.0,438.0 L1031.3,437.6 L1032.7,436.9 L1034.1,435.8 L1035.5,434.4 L1036.9,432.8 L1038.2,431.0 L1039.5,429.3 L1040.6,427.6 L1041.8,426.1 L1042.9,424.8 L1043.9,423.9 L1044.9,423.3 L1045.9,423.1 L1040.9,422.9 L1039.9,423.0 L1038.9,423.5 L1037.8,424.4 L1036.6,425.5 L1035.4,427.0 L1034.1,428.5 L1032.7,430.2 L1031.2,431.8 L1029.7,433.2 L1028.1,434.5 L1026.6,435.5 L1025.1,436.1 L1023.8,436.3 L1022.4,436.0Z" fill="#a0141b" stroke="#a0141b" stroke-width="1.2" stroke-linejoin="round"/>
<path d="M1059.0,438.9 L1060.2,438.5 L1061.3,437.6 L1062.3,436.4 L1063.2,434.9 L1063.9,433.0 L1064.6,431.0 L1065.1,428.9 L1065.6,426.8 L1066.0,424.8 L1066.3,423.0 L1066.7,421.4 L1067.1,420.2 L1067.6,419.3 L1068.2,418.7 L1064.3,420.4 L1063.5,420.9 L1062.8,421.7 L1062.2,422.9 L1061.6,424.5 L1061.0,426.3 L1060.4,428.2 L1059.7,430.3 L1058.9,432.3 L1058.1,434.2 L1057.2,436.0 L1056.2,437.4 L1055.2,438.6 L1054.0,439.3 L1052.8,439.6Z" fill="#a0141b" stroke="#a0141b" stroke-width="1.2" stroke-linejoin="round"/>
<path d="M1087.8,423.1 L1088.4,421.8 L1088.6,420.4 L1088.4,418.8 L1087.9,417.1 L1087.1,415.3 L1086.0,413.4 L1084.9,411.6 L1083.7,409.8 L1082.5,408.1 L1081.4,406.6 L1080.6,405.2 L1080.0,403.9 L1079.7,402.8 L1079.9,401.8 L1078.1,406.4 L1077.9,407.3 L1078.0,408.4 L1078.5,409.7 L1079.2,411.1 L1080.1,412.8 L1081.1,414.6 L1082.1,416.5 L1083.0,418.4 L1083.8,420.4 L1084.3,422.4 L1084.6,424.2 L1084.5,425.8 L1084.0,427.3 L1083.1,428.4Z" fill="#a0141b" stroke="#a0141b" stroke-width="1.2" stroke-linejoin="round"/>
<path d="M1098.7,393.7 L1098.6,392.5 L1098.1,391.2 L1097.1,390.0 L1095.9,388.7 L1094.3,387.5 L1092.5,386.4 L1090.7,385.3 L1088.8,384.3 L1086.9,383.3 L1085.3,382.5 L1083.9,381.6 L1082.8,380.8 L1082.0,380.0 L1081.7,379.1 L1082.2,383.8 L1082.4,384.7 L1083.1,385.6 L1084.1,386.5 L1085.4,387.5 L1087.0,388.6 L1088.7,389.7 L1090.5,390.9 L1092.3,392.1 L1093.9,393.5 L1095.4,394.8 L1096.6,396.1 L1097.4,397.5 L1097.8,398.8 L1097.7,400.1Z" fill="#a0141b" stroke="#a0141b" stroke-width="1.2" stroke-linejoin="round"/>
<path d="M1094.9,362.8 L1094.2,361.6 L1093.0,360.6 L1091.4,359.9 L1089.6,359.4 L1087.6,359.3 L1085.4,359.3 L1083.3,359.6 L1081.2,360.0 L1079.2,360.4 L1077.3,360.8 L1075.7,361.0 L1074.4,361.1 L1073.3,360.9 L1072.5,360.6 L1075.7,363.7 L1076.5,364.2 L1077.5,364.4 L1078.8,364.5 L1080.4,364.5 L1082.2,364.3 L1084.2,364.2 L1086.4,364.3 L1088.5,364.5 L1090.6,364.9 L1092.6,365.5 L1094.3,366.3 L1095.6,367.3 L1096.5,368.4 L1097.0,369.7Z" fill="#a0141b" stroke="#a0141b" stroke-width="1.2" stroke-linejoin="round"/>
<path d="M1073.0,340.1 L1071.9,339.6 L1070.6,339.5 L1069.2,339.8 L1067.5,340.3 L1065.7,341.0 L1063.9,341.9 L1061.9,342.9 L1060.0,344.0 L1058.2,344.9 L1057.5,345.2 L1055.3,348.7 L1055.8,349.0 L1056.8,349.4 L1058.1,349.4 L1059.5,349.2 L1061.1,348.6 L1062.9,347.8 L1064.7,346.9 L1066.7,346.0 L1068.6,345.0 L1070.5,344.1 L1072.3,343.4 L1074.0,343.0 L1075.5,342.8 L1076.8,342.9 L1077.9,343.4Z" fill="#a0141b" stroke="#a0141b" stroke-width="1.2" stroke-linejoin="round"/>
<path d="M1028.6,335.9 L1028.6,336.0 L1028.7,338.1 L1028.8,340.3 L1028.9,342.3 L1028.9,344.2 L1028.8,345.9 L1028.5,347.3 L1028.1,348.4 L1027.4,349.2 L1031.7,346.2 L1032.4,345.5 L1033.0,344.4 L1033.3,342.9 L1033.5,341.2 L1033.5,339.9Z" fill="#c6691d" stroke="#c6691d" stroke-width="1.2" stroke-linejoin="round"/>
<path d="M1007.2,345.2 L1006.6,346.3 L1006.3,347.7 L1006.4,349.3 L1006.8,351.0 L1007.4,352.9 L1008.3,354.8 L1009.3,356.7 L1010.3,358.6 L1011.4,360.4 L1012.3,362.0 L1013.1,363.4 L1013.6,364.7 L1013.8,365.8 L1013.6,366.7 L1015.6,362.6 L1015.9,361.6 L1015.8,360.5 L1015.5,359.2 L1014.9,357.7 L1014.1,356.0 L1013.3,354.1 L1012.4,352.1 L1011.6,350.1 L1011.0,348.1 L1010.5,346.2 L1010.3,344.4 L1010.5,342.7 L1011.0,341.4 L1011.8,340.3Z" fill="#c6691d" stroke="#c6691d" stroke-width="1.2" stroke-linejoin="round"/>
<path d="M994.3,373.7 L994.4,375.0 L994.8,376.2 L995.7,377.6 L996.9,378.9 L998.4,380.2 L1000.1,381.4 L1001.9,382.6 L1003.7,383.8 L1005.4,384.8 L1007.0,385.9 L1008.4,386.9 L1009.4,387.8 L1010.0,388.8 L1010.3,389.8 L1010.2,384.8 L1010.0,383.8 L1009.4,382.8 L1008.5,381.8 L1007.2,380.7 L1005.7,379.5 L1004.1,378.3 L1002.3,377.0 L1000.6,375.7 L999.1,374.3 L997.7,372.9 L996.6,371.4 L995.9,370.0 L995.6,368.7 L995.7,367.4Z" fill="#c6691d" stroke="#c6691d" stroke-width="1.2" stroke-linejoin="round"/>
<path d="M995.6,404.3 L996.2,405.5 L997.2,406.5 L998.5,407.4 L1000.2,408.0 L1002.1,408.6 L1004.2,408.9 L1006.4,409.2 L1008.5,409.3 L1010.5,409.4 L1012.4,409.6 L1014.0,409.8 L1015.4,410.0 L1016.4,410.5 L1017.0,411.1 L1014.7,407.2 L1014.1,406.4 L1013.2,405.9 L1011.9,405.4 L1010.3,405.0 L1008.4,404.7 L1006.4,404.4 L1004.3,404.0 L1002.2,403.5 L1000.2,402.9 L998.3,402.1 L996.7,401.2 L995.5,400.2 L994.7,399.1 L994.3,397.9Z" fill="#c6691d" stroke="#c6691d" stroke-width="1.2" stroke-linejoin="round"/>
<path d="M1013.3,431.3 L1014.7,432.0 L1016.2,432.2 L1017.9,432.0 L1019.7,431.4 L1021.4,430.5 L1023.2,429.3 L1025.0,428.0 L1026.6,426.6 L1028.1,425.3 L1029.5,424.0 L1030.8,423.0 L1032.0,422.3 L1033.0,421.9 L1034.0,421.9 L1029.4,420.7 L1028.6,420.6 L1027.5,420.9 L1026.3,421.5 L1025.0,422.3 L1023.5,423.4 L1021.8,424.5 L1019.9,425.6 L1018.0,426.6 L1016.0,427.3 L1014.0,427.8 L1012.1,428.0 L1010.5,427.9 L1009.1,427.4 L1008.0,426.6Z" fill="#c6691d" stroke="#c6691d" stroke-width="1.2" stroke-linejoin="round"/>
<path d="M1043.9,439.9 L1045.1,439.7 L1046.3,439.1 L1047.5,438.1 L1048.6,436.7 L1049.8,435.1 L1050.8,433.2 L1051.8,431.3 L1052.7,429.3 L1053.5,427.5 L1054.4,425.8 L1055.2,424.3 L1056.0,423.2 L1056.8,422.4 L1057.8,422.1 L1052.9,422.8 L1052.0,423.1 L1051.0,423.8 L1050.1,424.8 L1049.2,426.2 L1048.2,427.8 L1047.2,429.6 L1046.2,431.5 L1045.0,433.4 L1043.9,435.1 L1042.7,436.6 L1041.4,437.9 L1040.1,438.8 L1038.9,439.3 L1037.7,439.4Z" fill="#c6691d" stroke="#c6691d" stroke-width="1.2" stroke-linejoin="round"/>
<path d="M1074.4,434.4 L1075.5,433.6 L1076.4,432.4 L1077.1,430.8 L1077.5,429.0 L1077.6,426.9 L1077.4,424.8 L1077.0,422.6 L1076.5,420.5 L1075.9,418.6 L1075.3,416.8 L1074.8,415.3 L1074.6,414.0 L1074.6,413.0 L1074.9,412.2 L1072.3,415.5 L1071.9,416.1 L1071.8,417.2 L1071.9,418.4 L1072.0,420.0 L1072.3,421.8 L1072.5,423.8 L1072.5,425.9 L1072.4,428.1 L1072.1,430.2 L1071.7,432.1 L1071.0,433.9 L1070.1,435.2 L1069.1,436.3 L1068.0,436.9Z" fill="#c6691d" stroke="#c6691d" stroke-width="1.2" stroke-linejoin="round"/>
<path d="M1095.1,409.0 L1095.3,407.8 L1095.1,406.5 L1094.6,405.0 L1093.7,403.4 L1092.4,401.8 L1091.0,400.3 L1089.4,398.8 L1087.8,397.4 L1086.2,396.1 L1084.8,394.8 L1083.6,393.7 L1082.8,392.6 L1082.2,391.6 L1082.1,390.6 L1081.5,395.4 L1081.6,396.4 L1082.0,397.4 L1082.7,398.5 L1083.8,399.8 L1085.1,401.1 L1086.5,402.6 L1087.9,404.2 L1089.3,405.9 L1090.6,407.5 L1091.7,409.2 L1092.4,410.8 L1092.9,412.3 L1093.0,413.7 L1092.6,414.9Z" fill="#c6691d" stroke="#c6691d" stroke-width="1.2" stroke-linejoin="round"/>
<path d="M1098.5,378.2 L1098.1,377.0 L1097.3,376.0 L1096.2,375.0 L1094.7,374.2 L1092.9,373.3 L1091.0,372.5 L1088.9,371.8 L1086.9,371.2 L1084.9,370.7 L1083.1,370.2 L1081.6,369.8 L1080.4,369.4 L1079.5,368.9 L1079.0,368.4 L1080.3,372.0 L1080.8,372.8 L1081.5,373.5 L1082.7,374.3 L1084.2,375.0 L1085.9,375.8 L1087.9,376.6 L1089.9,377.3 L1091.9,378.1 L1093.8,379.0 L1095.6,380.0 L1097.0,381.1 L1098.1,382.2 L1098.8,383.5 L1099.0,384.7Z" fill="#c6691d" stroke="#c6691d" stroke-width="1.2" stroke-linejoin="round"/>
<path d="M1084.9,349.0 L1083.8,348.3 L1082.4,348.0 L1080.8,348.0 L1079.1,348.3 L1077.2,348.9 L1075.3,349.6 L1073.3,350.5 L1071.3,351.4 L1069.4,352.2 L1067.6,352.9 L1066.0,353.4 L1064.6,353.7 L1063.4,353.6 L1062.4,353.2 L1066.8,356.2 L1067.8,356.6 L1068.9,356.7 L1070.3,356.5 L1072.0,356.0 L1073.7,355.4 L1075.7,354.7 L1077.7,353.9 L1079.7,353.2 L1081.8,352.7 L1083.8,352.4 L1085.6,352.3 L1087.1,352.5 L1088.5,353.1 L1089.5,353.9Z" fill="#c6691d" stroke="#c6691d" stroke-width="1.2" stroke-linejoin="round"/>
<path d="M1064.2,334.4 L1063.7,335.2 L1063.7,335.1 L1065.0,335.2 L1066.1,335.6Z" fill="#c6691d" stroke="#c6691d" stroke-width="1.2" stroke-linejoin="round"/>
<path d="M1036.3,342.2 L1035.0,341.8 L1033.6,341.2 L1032.0,340.3 L1030.4,339.3 L1028.6,338.2 L1026.9,337.1 L1025.2,336.1 L1023.6,335.2 L1022.1,334.6 L1020.8,334.3 L1019.7,334.3 L1018.8,334.7 L1023.3,331.6Z" fill="#ec1c24" stroke="#ec1c24" stroke-width="1.2" stroke-linejoin="round"/>
<path d="M1019.3,357.0 L1018.7,357.5 L1017.7,357.7 L1016.5,357.7 L1014.9,357.6 L1013.2,357.4 L1011.3,357.1 L1009.2,356.8 L1007.2,356.6 L1005.2,356.5 L1003.3,356.6 L1001.7,356.8 L1000.4,357.3 L999.4,357.9 L998.8,358.7 L1001.9,352.7 L1002.6,352.0 L1003.7,351.5 L1005.0,351.2 L1006.7,351.2 L1008.5,351.3 L1010.5,351.6 L1012.5,352.0 L1014.5,352.5 L1016.4,353.0 L1018.1,353.4 L1019.6,353.7 L1020.8,353.8 L1021.8,353.7 L1022.3,353.5Z" fill="#ec1c24" stroke="#ec1c24" stroke-width="1.2" stroke-linejoin="round"/>
<path d="M1010.7,377.9 L1010.4,378.5 L1009.7,379.2 L1008.6,379.9 L1007.2,380.6 L1005.6,381.2 L1003.8,382.0 L1001.9,382.7 L1000.0,383.5 L998.2,384.3 L996.6,385.2 L995.2,386.1 L994.2,387.1 L993.6,388.0 L993.4,389.0 L993.5,382.6 L993.7,381.6 L994.4,380.7 L995.5,379.8 L996.9,379.0 L998.5,378.3 L1000.4,377.6 L1002.4,376.9 L1004.3,376.4 L1006.2,375.8 L1007.9,375.3 L1009.3,374.8 L1010.5,374.3 L1011.2,373.7 L1011.6,373.0Z" fill="#ec1c24" stroke="#ec1c24" stroke-width="1.2" stroke-linejoin="round"/>
<path d="M1012.2,401.1 L1012.2,401.8 L1011.9,402.7 L1011.2,403.8 L1010.2,404.9 L1009.1,406.3 L1007.8,407.7 L1006.4,409.3 L1005.1,410.9 L1003.9,412.4 L1002.9,414.0 L1002.2,415.5 L1001.8,416.8 L1001.8,418.0 L1002.1,419.0 L998.9,413.0 L998.6,412.0 L998.8,410.8 L999.4,409.6 L1000.2,408.2 L1001.4,406.7 L1002.8,405.3 L1004.3,403.9 L1005.8,402.5 L1007.3,401.2 L1008.6,400.1 L1009.7,399.0 L1010.5,398.1 L1011.0,397.2 L1011.1,396.5Z" fill="#ec1c24" stroke="#ec1c24" stroke-width="1.2" stroke-linejoin="round"/>
<path d="M1024.1,418.3 L1024.5,418.8 L1024.7,419.6 L1024.9,420.8 L1024.9,422.3 L1024.9,424.1 L1025.0,426.0 L1025.1,428.0 L1025.2,430.1 L1025.5,432.1 L1025.9,433.9 L1026.5,435.4 L1027.2,436.7 L1028.0,437.5 L1028.9,437.9 L1022.3,436.0 L1021.4,435.4 L1020.7,434.4 L1020.1,433.1 L1019.8,431.5 L1019.6,429.6 L1019.6,427.6 L1019.8,425.5 L1020.1,423.5 L1020.5,421.6 L1020.9,419.9 L1021.2,418.4 L1021.3,417.2 L1021.3,416.4 L1020.9,415.8Z" fill="#ec1c24" stroke="#ec1c24" stroke-width="1.2" stroke-linejoin="round"/>
<path d="M1045.9,423.1 L1046.7,423.3 L1047.5,423.9 L1048.3,424.9 L1049.1,426.2 L1050.0,427.8 L1050.9,429.5 L1051.9,431.3 L1052.9,433.1 L1053.9,434.8 L1055.0,436.3 L1056.1,437.5 L1057.2,438.3 L1058.2,438.8 L1059.2,438.9 L1052.7,439.6 L1051.7,439.5 L1050.8,438.9 L1049.8,438.0 L1048.8,436.7 L1047.9,435.1 L1046.9,433.4 L1046.1,431.5 L1045.2,429.6 L1044.5,427.8 L1043.7,426.2 L1043.0,424.8 L1042.3,423.8 L1041.5,423.1 L1040.8,422.9Z" fill="#ec1c24" stroke="#ec1c24" stroke-width="1.2" stroke-linejoin="round"/>
<path d="M1068.2,418.7 L1068.8,418.6 L1069.6,418.8 L1070.7,419.3 L1072.0,420.0 L1073.5,420.8 L1075.2,421.7 L1077.1,422.5 L1079.0,423.3 L1081.0,423.8 L1082.8,424.2 L1084.5,424.3 L1085.9,424.1 L1087.0,423.7 L1087.8,423.0 L1083.0,428.5 L1082.1,429.1 L1080.8,429.4 L1079.3,429.3 L1077.7,428.8 L1075.9,428.1 L1074.1,427.1 L1072.4,426.0 L1070.8,424.7 L1069.3,423.5 L1068.0,422.3 L1066.8,421.4 L1065.8,420.7 L1064.9,420.4 L1064.2,420.4Z" fill="#ec1c24" stroke="#ec1c24" stroke-width="1.2" stroke-linejoin="round"/>
<path d="M1079.9,401.7 L1080.3,401.1 L1081.1,400.6 L1082.3,400.3 L1083.8,399.9 L1085.5,399.5 L1087.4,399.1 L1089.4,398.7 L1091.4,398.2 L1093.3,397.7 L1095.1,397.0 L1096.5,396.3 L1097.7,395.5 L1098.4,394.6 L1098.7,393.6 L1097.7,400.2 L1097.3,401.1 L1096.5,402.0 L1095.2,402.7 L1093.7,403.3 L1091.9,403.7 L1089.9,404.1 L1087.9,404.3 L1085.9,404.5 L1083.9,404.6 L1082.1,404.8 L1080.6,405.1 L1079.4,405.4 L1078.5,405.8 L1078.0,406.4Z" fill="#ec1c24" stroke="#ec1c24" stroke-width="1.2" stroke-linejoin="round"/>
<path d="M1081.7,379.0 L1081.7,378.1 L1082.2,377.2 L1083.0,376.2 L1084.2,375.1 L1085.6,374.1 L1087.2,372.9 L1088.9,371.7 L1090.5,370.5 L1092.0,369.2 L1093.3,367.8 L1094.3,366.4 L1094.9,365.1 L1095.1,363.8 L1094.9,362.7 L1097.1,369.8 L1097.1,370.8 L1096.6,371.8 L1095.8,372.9 L1094.7,374.0 L1093.2,375.2 L1091.6,376.3 L1089.9,377.4 L1088.2,378.6 L1086.6,379.6 L1085.1,380.6 L1083.8,381.5 L1082.9,382.3 L1082.4,383.1 L1082.2,383.9Z" fill="#ec1c24" stroke="#ec1c24" stroke-width="1.2" stroke-linejoin="round"/>
<path d="M1072.5,360.5 L1072.1,359.9 L1071.8,358.9 L1071.9,357.6 L1072.1,356.1 L1072.4,354.4 L1072.8,352.4 L1073.2,350.4 L1073.6,348.4 L1073.9,346.4 L1074.1,344.6 L1074.1,343.0 L1073.9,341.7 L1073.5,340.7 L1072.9,340.0 L1077.9,343.5 L1078.6,344.2 L1078.9,345.3 L1079.1,346.6 L1079.0,348.2 L1078.7,350.0 L1078.3,352.0 L1077.8,354.0 L1077.2,355.9 L1076.6,357.8 L1076.1,359.5 L1075.7,360.9 L1075.5,362.2 L1075.5,363.1 L1075.8,363.8Z" fill="#ec1c24" stroke="#ec1c24" stroke-width="1.2" stroke-linejoin="round"/>
<path d="M1055.3,348.7 L1055.4,348.6 L1055.9,349.1Z" fill="#ec1c24" stroke="#ec1c24" stroke-width="1.2" stroke-linejoin="round"/>
<path d="M1027.3,349.2 L1026.6,349.5 L1025.6,349.5 L1024.4,349.1 L1023.0,348.6 L1021.4,347.9 L1019.6,347.1 L1017.7,346.3 L1015.8,345.5 L1013.9,344.9 L1012.1,344.5 L1010.4,344.3 L1009.0,344.3 L1007.9,344.7 L1007.1,345.3 L1011.9,340.2 L1012.7,339.7 L1013.9,339.5 L1015.3,339.6 L1016.9,340.1 L1018.6,340.8 L1020.4,341.6 L1022.2,342.6 L1024.0,343.6 L1025.7,344.5 L1027.3,345.4 L1028.7,346.0 L1029.9,346.4 L1031.0,346.4 L1031.8,346.2Z" fill="#f7941e" stroke="#f7941e" stroke-width="1.2" stroke-linejoin="round"/>
<path d="M1013.6,366.8 L1013.1,367.4 L1012.3,367.8 L1011.1,368.2 L1009.6,368.5 L1007.8,368.7 L1005.9,369.0 L1003.9,369.3 L1001.9,369.7 L999.9,370.1 L998.2,370.6 L996.7,371.3 L995.5,372.0 L994.7,372.9 L994.3,373.8 L995.7,367.3 L996.2,366.4 L997.1,365.6 L998.3,365.0 L999.9,364.5 L1001.7,364.2 L1003.7,363.9 L1005.7,363.8 L1007.8,363.7 L1009.7,363.7 L1011.5,363.6 L1013.0,363.6 L1014.3,363.3 L1015.1,363.0 L1015.7,362.5Z" fill="#f7941e" stroke="#f7941e" stroke-width="1.2" stroke-linejoin="round"/>
<path d="M1010.3,389.8 L1010.1,390.6 L1009.6,391.4 L1008.6,392.3 L1007.4,393.1 L1005.9,394.1 L1004.2,395.2 L1002.5,396.3 L1000.8,397.4 L999.2,398.6 L997.8,399.8 L996.7,401.1 L996.0,402.2 L995.6,403.4 L995.7,404.4 L994.2,397.8 L994.3,396.7 L994.8,395.7 L995.7,394.6 L996.9,393.6 L998.4,392.5 L1000.1,391.5 L1001.9,390.5 L1003.7,389.6 L1005.5,388.7 L1007.0,387.8 L1008.4,387.0 L1009.4,386.2 L1010.0,385.4 L1010.2,384.7Z" fill="#f7941e" stroke="#f7941e" stroke-width="1.2" stroke-linejoin="round"/>
<path d="M1017.1,411.2 L1017.3,411.9 L1017.2,412.7 L1016.8,413.9 L1016.2,415.3 L1015.5,416.9 L1014.7,418.7 L1013.8,420.6 L1013.1,422.5 L1012.5,424.4 L1012.1,426.2 L1012.0,427.9 L1012.2,429.4 L1012.7,430.5 L1013.5,431.4 L1007.9,426.5 L1007.3,425.6 L1007.1,424.4 L1007.2,422.9 L1007.6,421.3 L1008.3,419.6 L1009.2,417.8 L1010.2,416.0 L1011.3,414.3 L1012.4,412.7 L1013.3,411.2 L1014.1,409.8 L1014.6,408.8 L1014.8,407.8 L1014.7,407.1Z" fill="#f7941e" stroke="#f7941e" stroke-width="1.2" stroke-linejoin="round"/>
<path d="M1034.1,421.9 L1034.7,422.2 L1035.4,423.0 L1035.9,424.1 L1036.5,425.5 L1037.1,427.2 L1037.7,429.1 L1038.3,431.0 L1038.9,433.0 L1039.7,434.8 L1040.5,436.5 L1041.3,437.9 L1042.2,439.0 L1043.1,439.6 L1044.0,439.9 L1037.6,439.4 L1036.6,439.1 L1035.8,438.4 L1035.0,437.2 L1034.3,435.8 L1033.6,434.1 L1033.1,432.2 L1032.6,430.2 L1032.1,428.1 L1031.7,426.2 L1031.3,424.5 L1030.9,423.0 L1030.5,421.9 L1030.0,421.1 L1029.4,420.7Z" fill="#f7941e" stroke="#f7941e" stroke-width="1.2" stroke-linejoin="round"/>
<path d="M1057.9,422.1 L1058.6,422.1 L1059.5,422.6 L1060.4,423.4 L1061.5,424.5 L1062.6,425.8 L1063.9,427.3 L1065.2,428.9 L1066.6,430.4 L1068.0,431.8 L1069.5,433.0 L1070.8,433.9 L1072.1,434.5 L1073.4,434.6 L1074.4,434.4 L1067.9,436.9 L1066.9,437.0 L1065.7,436.6 L1064.5,435.9 L1063.3,434.8 L1062.1,433.5 L1060.8,431.9 L1059.6,430.3 L1058.4,428.6 L1057.3,427.0 L1056.3,425.5 L1055.3,424.3 L1054.4,423.4 L1053.6,422.9 L1052.8,422.8Z" fill="#f7941e" stroke="#f7941e" stroke-width="1.2" stroke-linejoin="round"/>
<path d="M1075.0,412.1 L1075.5,411.6 L1076.4,411.3 L1077.6,411.2 L1079.1,411.2 L1080.9,411.3 L1082.9,411.4 L1084.9,411.5 L1087.0,411.5 L1089.0,411.5 L1090.8,411.3 L1092.4,410.9 L1093.7,410.4 L1094.6,409.7 L1095.2,408.9 L1092.6,415.0 L1091.9,415.8 L1090.9,416.4 L1089.6,416.8 L1088.0,417.0 L1086.1,417.0 L1084.1,416.8 L1082.1,416.5 L1080.0,416.2 L1078.1,415.8 L1076.4,415.5 L1074.9,415.2 L1073.7,415.1 L1072.8,415.2 L1072.2,415.5Z" fill="#f7941e" stroke="#f7941e" stroke-width="1.2" stroke-linejoin="round"/>
<path d="M1082.1,390.6 L1082.4,389.8 L1083.0,389.1 L1084.1,388.4 L1085.4,387.7 L1087.0,386.9 L1088.8,386.1 L1090.7,385.2 L1092.5,384.3 L1094.2,383.3 L1095.8,382.3 L1097.0,381.2 L1097.9,380.1 L1098.4,379.1 L1098.5,378.1 L1099.0,384.8 L1098.9,385.8 L1098.2,386.7 L1097.2,387.7 L1095.9,388.6 L1094.2,389.4 L1092.4,390.2 L1090.5,391.0 L1088.6,391.7 L1086.7,392.3 L1085.1,392.9 L1083.6,393.6 L1082.6,394.2 L1081.8,394.8 L1081.5,395.5Z" fill="#f7941e" stroke="#f7941e" stroke-width="1.2" stroke-linejoin="round"/>
<path d="M1079.0,368.3 L1078.9,367.7 L1079.2,366.9 L1079.7,365.8 L1080.4,364.5 L1081.3,363.0 L1082.3,361.3 L1083.2,359.5 L1084.1,357.7 L1084.8,355.8 L1085.4,354.0 L1085.7,352.4 L1085.7,351.0 L1085.4,349.8 L1084.8,348.9 L1089.6,354.1 L1090.1,355.0 L1090.2,356.2 L1090.1,357.7 L1089.5,359.3 L1088.7,361.0 L1087.6,362.7 L1086.4,364.4 L1085.1,365.9 L1083.8,367.4 L1082.6,368.6 L1081.6,369.7 L1080.8,370.6 L1080.4,371.4 L1080.4,372.1Z" fill="#f7941e" stroke="#f7941e" stroke-width="1.2" stroke-linejoin="round"/>
<path d="M1062.3,353.1 L1061.7,352.5 L1061.4,351.5 L1061.2,350.3 L1061.2,348.7 L1061.4,346.9 L1061.6,344.9 L1061.9,342.9 L1062.1,340.8 L1062.3,338.9 L1062.4,337.2 L1064.2,334.4 L1066.2,335.7 L1066.8,336.3 L1067.2,337.3 L1067.4,338.6 L1067.4,340.2 L1067.3,342.0 L1067.0,344.0 L1066.7,346.0 L1066.4,348.0 L1066.2,350.0 L1066.0,351.8 L1065.9,353.3 L1066.0,354.6 L1066.3,355.6 L1066.9,356.3Z" fill="#f7941e" stroke="#f7941e" stroke-width="1.2" stroke-linejoin="round"/>
<path d="M1057.5,345.2 L1056.4,345.7 L1054.8,346.2 L1053.4,346.5 L1052.1,346.5 L1051.1,346.1 L1055.3,348.7Z" fill="#a0141b" stroke="#a0141b" stroke-width="1.2" stroke-linejoin="round"/>
<path d="M1049.7,325.6 L1048.7,325.2 L1047.4,325.1 L1046.0,325.4 L1044.4,326.0 L1042.6,326.7 L1040.7,327.6 L1038.8,328.6 L1036.9,329.6 L1035.1,330.6 L1033.4,331.5 L1031.8,332.1 L1030.4,332.4 L1029.2,332.5 L1028.2,332.2 L1032.8,334.8 L1033.8,335.1 L1035.0,335.1 L1036.4,334.8 L1037.9,334.3 L1039.7,333.5 L1041.6,332.6 L1043.5,331.6 L1045.5,330.6 L1047.3,329.7 L1049.1,328.9 L1050.7,328.3 L1052.1,328.0 L1053.3,328.1 L1054.4,328.4Z" fill="#a0141b" stroke="#a0141b" stroke-width="1.2" stroke-linejoin="round"/>
<path d="M1026.5,311.8 L1025.6,311.5 L1024.6,311.5 L1023.3,311.8 L1021.8,312.3 L1020.0,312.8 L1018.1,313.5 L1016.0,314.0 L1013.9,314.4 L1011.7,314.6 L1009.7,314.6 L1007.9,314.3 L1006.3,313.8 L1005.1,312.9 L1004.2,311.9 L1008.1,317.7 L1009.2,318.7 L1010.6,319.3 L1012.3,319.6 L1014.2,319.5 L1016.1,319.2 L1018.2,318.5 L1020.2,317.7 L1022.1,316.8 L1024.0,315.9 L1025.7,315.1 L1027.2,314.5 L1028.6,314.1 L1029.7,314.1 L1030.7,314.4Z" fill="#a0141b" stroke="#a0141b" stroke-width="1.2" stroke-linejoin="round"/>
<path d="M1015.4,294.3 L1014.9,293.4 L1014.0,292.5 L1012.7,291.8 L1011.2,291.1 L1009.4,290.5 L1007.4,289.9 L1005.3,289.3 L1003.3,288.6 L1001.3,287.9 L999.5,287.1 L998.0,286.2 L996.8,285.2 L996.0,284.2 L995.6,283.0 L996.7,289.0 L997.1,290.2 L998.0,291.2 L999.2,292.1 L1000.8,293.0 L1002.7,293.6 L1004.7,294.2 L1006.8,294.7 L1008.8,295.3 L1010.8,295.8 L1012.7,296.4 L1014.2,296.9 L1015.5,297.6 L1016.4,298.3 L1016.9,299.1Z" fill="#a0141b" stroke="#a0141b" stroke-width="1.2" stroke-linejoin="round"/>
<path d="M1011.1,269.4 L1010.9,268.3 L1010.2,267.3 L1009.1,266.3 L1007.8,265.3 L1006.1,264.4 L1004.3,263.4 L1002.4,262.3 L1000.6,261.2 L998.8,260.1 L997.2,259.0 L995.9,257.8 L994.9,256.6 L994.4,255.4 L994.2,254.2 L994.0,260.3 L994.2,261.4 L994.9,262.6 L995.9,263.7 L997.3,264.8 L998.9,265.9 L1000.7,266.9 L1002.6,267.9 L1004.6,268.9 L1006.4,269.8 L1008.1,270.8 L1009.5,271.7 L1010.5,272.7 L1011.3,273.7 L1011.6,274.7Z" fill="#a0141b" stroke="#a0141b" stroke-width="1.2" stroke-linejoin="round"/>
<path d="M1012.2,244.1 L1012.1,243.1 L1011.7,241.9 L1010.9,240.7 L1009.8,239.5 L1008.4,238.2 L1006.9,236.8 L1005.3,235.3 L1003.7,233.8 L1002.3,232.2 L1001.2,230.6 L1000.3,228.9 L999.9,227.3 L999.9,225.8 L1000.3,224.4 L997.7,231.1 L997.6,232.4 L997.9,233.8 L998.6,235.2 L999.6,236.6 L1001.0,238.0 L1002.5,239.4 L1004.2,240.8 L1005.9,242.2 L1007.4,243.5 L1008.9,244.8 L1010.0,246.0 L1010.9,247.2 L1011.4,248.2 L1011.5,249.3Z" fill="#a0141b" stroke="#a0141b" stroke-width="1.2" stroke-linejoin="round"/>
<path d="M1020.9,224.5 L1021.3,223.7 L1021.6,222.7 L1021.5,221.4 L1021.4,219.7 L1021.2,217.9 L1020.9,215.9 L1020.8,213.7 L1020.7,211.6 L1021.0,209.4 L1021.5,207.4 L1022.3,205.6 L1023.4,204.2 L1024.5,203.2 L1025.7,202.7 L1018.6,205.3 L1017.4,206.2 L1016.5,207.5 L1015.9,209.1 L1015.7,210.9 L1015.7,212.9 L1015.9,215.0 L1016.3,217.2 L1016.9,219.3 L1017.4,221.2 L1017.9,223.0 L1018.2,224.6 L1018.4,226.0 L1018.3,227.0 L1017.9,227.9Z" fill="#a0141b" stroke="#a0141b" stroke-width="1.2" stroke-linejoin="round"/>
<path d="M1041.5,216.8 L1042.0,216.6 L1040.6,211.0 L1040.2,212.2 L1039.4,214.0 L1038.5,215.5 L1037.5,216.7 L1036.4,217.6 L1035.4,217.9Z" fill="#a0141b" stroke="#a0141b" stroke-width="1.2" stroke-linejoin="round"/>
<path d="M1064.2,334.4 L1061.2,332.6 L1060.2,332.2 L1058.9,332.2 L1057.5,332.5 L1055.9,333.0 L1054.1,333.8 L1052.2,334.8 L1050.3,335.8 L1048.4,336.9 L1046.6,337.8 L1044.8,338.6 L1043.2,339.2 L1041.7,339.4 L1040.5,339.4 L1039.4,339.0 L1044.3,342.0 L1045.3,342.4 L1046.6,342.4 L1048.0,342.1 L1049.6,341.5 L1051.4,340.7 L1053.2,339.8 L1055.1,338.7 L1057.0,337.7 L1058.9,336.8 L1060.7,336.0 L1062.3,335.4 L1063.7,335.2Z" fill="#c6691d" stroke="#c6691d" stroke-width="1.2" stroke-linejoin="round"/>
<path d="M1037.8,318.2 L1036.7,317.9 L1035.4,317.9 L1033.9,318.2 L1032.3,318.9 L1030.6,319.8 L1028.8,320.8 L1027.0,321.9 L1025.1,323.0 L1023.3,324.0 L1021.5,324.8 L1019.8,325.3 L1018.2,325.5 L1016.8,325.4 L1015.6,324.8 L1021.1,328.2 L1022.2,328.6 L1023.5,328.6 L1024.9,328.3 L1026.5,327.6 L1028.3,326.8 L1030.1,325.7 L1031.9,324.6 L1033.8,323.5 L1035.6,322.5 L1037.3,321.6 L1039.0,321.0 L1040.5,320.8 L1041.8,320.8 L1042.9,321.3Z" fill="#c6691d" stroke="#c6691d" stroke-width="1.2" stroke-linejoin="round"/>
<path d="M1019.6,304.9 L1019.0,304.3 L1018.0,303.8 L1016.8,303.5 L1015.1,303.2 L1013.3,303.0 L1011.3,302.7 L1009.1,302.4 L1007.0,302.0 L1005.0,301.5 L1003.1,300.9 L1001.5,300.2 L1000.2,299.3 L999.3,298.4 L998.8,297.4 L1000.5,303.2 L1001.1,304.2 L1002.1,305.2 L1003.5,306.0 L1005.2,306.6 L1007.1,307.1 L1009.2,307.3 L1011.4,307.5 L1013.6,307.5 L1015.6,307.5 L1017.4,307.4 L1019.0,307.3 L1020.3,307.4 L1021.3,307.7 L1022.0,308.1Z" fill="#c6691d" stroke="#c6691d" stroke-width="1.2" stroke-linejoin="round"/>
<path d="M1012.5,282.1 L1012.1,281.1 L1011.4,280.2 L1010.2,279.4 L1008.8,278.5 L1007.1,277.6 L1005.2,276.8 L1003.2,275.9 L1001.3,275.0 L999.4,274.0 L997.7,273.1 L996.3,272.0 L995.2,271.0 L994.5,269.9 L994.3,268.8 L994.7,274.6 L995.0,275.7 L995.7,276.8 L996.8,277.8 L998.3,278.8 L1000.0,279.7 L1001.9,280.6 L1003.9,281.4 L1005.9,282.2 L1007.8,283.0 L1009.6,283.8 L1011.1,284.5 L1012.2,285.4 L1013.0,286.2 L1013.4,287.1Z" fill="#c6691d" stroke="#c6691d" stroke-width="1.2" stroke-linejoin="round"/>
<path d="M1010.9,256.7 L1010.7,255.7 L1010.2,254.6 L1009.3,253.5 L1008.0,252.4 L1006.5,251.2 L1004.8,250.0 L1003.1,248.7 L1001.3,247.4 L999.7,246.1 L998.3,244.8 L997.1,243.5 L996.3,242.2 L995.9,241.0 L995.8,239.8 L995.0,245.7 L995.0,246.9 L995.5,248.1 L996.4,249.4 L997.6,250.6 L999.1,251.9 L1000.8,253.1 L1002.6,254.3 L1004.4,255.5 L1006.2,256.6 L1007.7,257.7 L1009.0,258.8 L1010.0,259.8 L1010.6,260.8 L1010.8,261.8Z" fill="#c6691d" stroke="#c6691d" stroke-width="1.2" stroke-linejoin="round"/>
<path d="M1014.8,232.9 L1015.0,232.1 L1014.7,231.2 L1014.3,230.0 L1013.6,228.6 L1012.8,226.9 L1011.9,225.1 L1011.0,223.1 L1010.2,221.1 L1009.5,219.1 L1009.1,217.1 L1008.9,215.3 L1009.0,213.7 L1009.5,212.3 L1010.3,211.3 L1005.7,216.2 L1005.1,217.3 L1004.8,218.7 L1004.9,220.4 L1005.3,222.1 L1006.0,224.0 L1006.9,225.9 L1008.0,227.8 L1009.2,229.6 L1010.4,231.2 L1011.5,232.6 L1012.5,233.9 L1013.2,235.0 L1013.5,236.0 L1013.5,236.9Z" fill="#c6691d" stroke="#c6691d" stroke-width="1.2" stroke-linejoin="round"/>
<path d="M1028.6,219.3 L1029.3,218.9 L1030.0,218.1 L1030.7,216.9 L1031.4,215.4 L1032.1,213.7 L1032.9,211.7 L1033.6,209.7 L1034.4,207.7 L1035.2,205.8 L1035.9,204.0 L1036.6,202.5 L1037.3,201.4 L1038.1,200.6 L1038.0,200.3 L1034.2,201.1 L1033.2,201.5 L1032.2,202.3 L1031.3,203.4 L1030.4,204.9 L1029.6,206.7 L1028.8,208.7 L1028.1,210.7 L1027.6,212.8 L1027.1,214.8 L1026.7,216.6 L1026.5,218.1 L1026.3,219.3 L1026.0,220.1 L1025.6,220.6Z" fill="#c6691d" stroke="#c6691d" stroke-width="1.2" stroke-linejoin="round"/>
<path d="M1055.3,348.7 L1051.0,346.1 L1050.4,345.4 L1050.0,344.5 L1049.8,343.2 L1049.7,341.6 L1049.8,339.8 L1050.0,337.8 L1050.3,335.8 L1050.5,333.7 L1050.7,331.8 L1050.8,330.0 L1050.8,328.4 L1050.6,327.1 L1050.2,326.1 L1049.6,325.5 L1054.5,328.5 L1055.1,329.1 L1055.5,330.1 L1055.7,331.4 L1055.7,333.0 L1055.6,334.8 L1055.5,336.8 L1055.2,338.8 L1055.0,340.8 L1054.8,342.8 L1054.7,344.6 L1054.7,346.2 L1054.9,347.5 L1055.3,348.4 L1055.4,348.6Z" fill="#ec1c24" stroke="#ec1c24" stroke-width="1.2" stroke-linejoin="round"/>
<path d="M1028.1,332.1 L1027.5,331.5 L1027.0,330.6 L1026.8,329.3 L1026.7,327.7 L1026.7,325.9 L1026.8,323.9 L1026.9,321.9 L1027.1,319.8 L1027.2,317.9 L1027.3,316.1 L1027.3,314.5 L1027.2,313.3 L1026.9,312.4 L1026.4,311.8 L1030.8,314.4 L1031.4,315.0 L1031.9,316.0 L1032.1,317.2 L1032.2,318.8 L1032.2,320.6 L1032.1,322.6 L1032.0,324.6 L1031.8,326.7 L1031.7,328.7 L1031.7,330.5 L1031.7,332.0 L1031.9,333.3 L1032.3,334.2 L1032.9,334.8Z" fill="#ec1c24" stroke="#ec1c24" stroke-width="1.2" stroke-linejoin="round"/>
<path d="M1004.2,311.8 L1003.9,310.7 L1004.0,309.5 L1004.4,308.2 L1005.3,306.7 L1006.4,305.2 L1007.7,303.7 L1009.1,302.3 L1010.6,300.8 L1012.0,299.5 L1013.3,298.2 L1014.3,297.1 L1015.0,296.0 L1015.4,295.1 L1015.3,294.2 L1016.9,299.2 L1017.0,300.0 L1016.7,300.8 L1016.0,301.9 L1015.1,303.1 L1014.0,304.5 L1012.7,306.0 L1011.5,307.6 L1010.2,309.2 L1009.2,311.0 L1008.3,312.6 L1007.8,314.2 L1007.6,315.6 L1007.7,316.8 L1008.3,317.9Z" fill="#ec1c24" stroke="#ec1c24" stroke-width="1.2" stroke-linejoin="round"/>
<path d="M995.6,282.9 L995.7,282.0 L996.2,281.0 L997.1,280.0 L998.3,278.9 L999.8,277.9 L1001.5,276.8 L1003.2,275.8 L1005.0,274.8 L1006.7,273.8 L1008.2,272.8 L1009.5,271.9 L1010.4,271.0 L1011.0,270.1 L1011.1,269.3 L1011.6,274.8 L1011.4,275.6 L1010.9,276.5 L1010.0,277.4 L1008.8,278.4 L1007.3,279.4 L1005.7,280.5 L1003.9,281.5 L1002.2,282.7 L1000.6,283.8 L999.1,284.9 L998.0,286.1 L997.2,287.1 L996.7,288.2 L996.7,289.1Z" fill="#ec1c24" stroke="#ec1c24" stroke-width="1.2" stroke-linejoin="round"/>
<path d="M994.2,254.1 L994.5,253.2 L995.2,252.4 L996.2,251.5 L997.6,250.7 L999.3,250.0 L1001.1,249.3 L1003.1,248.6 L1005.0,248.0 L1006.9,247.4 L1008.6,246.8 L1010.0,246.1 L1011.1,245.5 L1011.8,244.8 L1012.2,244.0 L1011.5,249.4 L1011.2,250.1 L1010.5,250.9 L1009.4,251.6 L1008.0,252.3 L1006.4,253.0 L1004.5,253.7 L1002.6,254.4 L1000.7,255.2 L998.9,256.0 L997.3,256.8 L995.9,257.7 L994.9,258.5 L994.2,259.5 L994.0,260.4Z" fill="#ec1c24" stroke="#ec1c24" stroke-width="1.2" stroke-linejoin="round"/>
<path d="M1000.3,224.3 L1001.0,223.4 L1002.1,222.7 L1003.5,222.4 L1005.2,222.2 L1007.0,222.3 L1009.0,222.6 L1011.0,223.0 L1013.0,223.5 L1014.9,224.0 L1016.6,224.4 L1018.1,224.7 L1019.4,224.9 L1020.3,224.8 L1020.9,224.4 L1017.8,228.0 L1017.3,228.4 L1016.4,228.6 L1015.1,228.6 L1013.6,228.5 L1011.9,228.3 L1010.0,228.1 L1007.9,227.9 L1005.9,227.9 L1003.8,228.0 L1002.0,228.3 L1000.4,228.8 L999.1,229.4 L998.2,230.2 L997.7,231.2Z" fill="#ec1c24" stroke="#ec1c24" stroke-width="1.2" stroke-linejoin="round"/>
<path d="M1025.9,202.7 L1026.9,202.6 L1028.0,203.0 L1029.1,203.8 L1030.3,205.0 L1031.4,206.4 L1032.6,208.0 L1033.7,209.7 L1034.9,211.4 L1036.0,213.0 L1037.2,214.4 L1038.3,215.6 L1039.5,216.4 L1040.5,216.8 L1041.6,216.8 L1035.3,218.0 L1034.4,217.9 L1033.5,217.4 L1032.5,216.6 L1031.5,215.4 L1030.4,214.0 L1029.3,212.4 L1028.0,210.8 L1026.7,209.2 L1025.4,207.7 L1023.9,206.5 L1022.5,205.6 L1021.0,205.1 L1019.7,205.0 L1018.4,205.4Z" fill="#ec1c24" stroke="#ec1c24" stroke-width="1.2" stroke-linejoin="round"/>
<path d="M1062.4,337.2 L1062.4,337.1 L1062.4,335.5 L1062.2,334.2 L1061.8,333.2 L1061.1,332.6 L1064.2,334.4Z" fill="#f7941e" stroke="#f7941e" stroke-width="1.2" stroke-linejoin="round"/>
<path d="M1039.3,338.9 L1038.7,338.2 L1038.3,337.2 L1038.0,335.9 L1038.1,334.3 L1038.2,332.5 L1038.5,330.6 L1038.7,328.6 L1039.0,326.5 L1039.2,324.5 L1039.2,322.7 L1039.1,321.1 L1038.8,319.8 L1038.3,318.8 L1037.7,318.2 L1043.0,321.3 L1043.6,322.0 L1044.1,323.0 L1044.3,324.3 L1044.3,325.9 L1044.1,327.7 L1043.9,329.6 L1043.6,331.7 L1043.4,333.7 L1043.1,335.7 L1043.0,337.5 L1043.1,339.1 L1043.3,340.4 L1043.7,341.4 L1044.3,342.0Z" fill="#f7941e" stroke="#f7941e" stroke-width="1.2" stroke-linejoin="round"/>
<path d="M1015.5,324.7 L1014.8,323.9 L1014.3,322.8 L1014.2,321.3 L1014.2,319.6 L1014.6,317.8 L1015.2,315.9 L1015.9,313.9 L1016.8,312.1 L1017.6,310.3 L1018.4,308.8 L1019.1,307.4 L1019.5,306.3 L1019.7,305.4 L1019.5,304.8 L1022.0,308.2 L1022.3,308.7 L1022.3,309.6 L1022.0,310.8 L1021.7,312.2 L1021.2,313.9 L1020.7,315.8 L1020.3,317.8 L1019.9,319.8 L1019.7,321.8 L1019.6,323.6 L1019.7,325.3 L1020.0,326.6 L1020.4,327.6 L1021.1,328.3Z" fill="#f7941e" stroke="#f7941e" stroke-width="1.2" stroke-linejoin="round"/>
<path d="M998.7,297.3 L998.7,296.4 L999.1,295.4 L999.8,294.3 L1000.9,293.1 L1002.2,291.8 L1003.7,290.5 L1005.3,289.2 L1006.9,288.0 L1008.5,286.8 L1009.9,285.7 L1011.1,284.7 L1011.9,283.7 L1012.4,282.8 L1012.5,282.0 L1013.5,287.2 L1013.4,288.0 L1013.0,288.9 L1012.2,289.8 L1011.1,291.0 L1009.8,292.2 L1008.4,293.5 L1006.8,294.8 L1005.2,296.2 L1003.7,297.5 L1002.5,298.8 L1001.4,300.0 L1000.8,301.2 L1000.5,302.3 L1000.5,303.2Z" fill="#f7941e" stroke="#f7941e" stroke-width="1.2" stroke-linejoin="round"/>
<path d="M994.3,268.7 L994.4,267.8 L995.0,266.9 L996.0,265.9 L997.3,265.0 L998.8,264.0 L1000.6,263.1 L1002.4,262.2 L1004.3,261.3 L1006.1,260.5 L1007.7,259.7 L1009.0,258.9 L1010.0,258.1 L1010.7,257.4 L1010.9,256.6 L1010.8,261.9 L1010.6,262.7 L1010.0,263.5 L1009.0,264.3 L1007.8,265.2 L1006.2,266.1 L1004.5,267.1 L1002.6,268.0 L1000.8,269.0 L999.1,270.0 L997.6,270.9 L996.3,271.9 L995.4,272.9 L994.8,273.8 L994.7,274.7Z" fill="#f7941e" stroke="#f7941e" stroke-width="1.2" stroke-linejoin="round"/>
<path d="M995.9,239.7 L996.2,238.9 L997.0,238.1 L998.1,237.4 L999.6,236.7 L1001.4,236.2 L1003.3,235.7 L1005.3,235.2 L1007.3,234.9 L1009.2,234.5 L1011.0,234.3 L1012.5,234.0 L1013.6,233.7 L1014.4,233.3 L1014.9,232.8 L1013.5,237.0 L1013.1,237.7 L1012.4,238.3 L1011.2,238.8 L1009.8,239.4 L1008.1,239.9 L1006.2,240.4 L1004.2,240.9 L1002.2,241.5 L1000.3,242.0 L998.6,242.7 L997.1,243.4 L996.0,244.1 L995.3,244.9 L995.0,245.8Z" fill="#f7941e" stroke="#f7941e" stroke-width="1.2" stroke-linejoin="round"/>
<path d="M1010.4,211.2 L1011.3,210.7 L1012.5,210.5 L1014.0,210.6 L1015.6,211.0 L1017.3,211.7 L1019.1,212.6 L1020.8,213.7 L1022.5,214.9 L1024.0,216.0 L1025.3,217.2 L1026.4,218.1 L1027.3,218.9 L1028.0,219.3 L1028.7,219.3 L1025.5,220.7 L1024.8,220.9 L1024.0,220.7 L1022.8,220.3 L1021.5,219.7 L1019.9,218.9 L1018.1,218.1 L1016.3,217.2 L1014.4,216.5 L1012.5,215.9 L1010.7,215.4 L1009.0,215.2 L1007.6,215.3 L1006.5,215.6 L1005.7,216.3Z" fill="#f7941e" stroke="#f7941e" stroke-width="1.2" stroke-linejoin="round"/>
<path d="M1038.0,200.3 L1039.3,205.6 L1038.9,205.0 L1037.7,203.7 L1036.7,202.5 L1035.8,201.7 L1034.9,201.2 L1034.1,201.1Z" fill="#f7941e" stroke="#f7941e" stroke-width="1.2" stroke-linejoin="round"/>
<path d="M953.0,193.0 L954.0,193.0 L955.0,193.0 L956.0,193.0 L957.0,193.0 L958.0,193.0 L959.0,193.0 L960.0,193.0 L961.0,193.0 L962.0,193.0 L963.0,193.0 L964.0,193.0 L965.0,193.0 L966.0,193.0 L967.0,193.0 L968.0,193.0 L969.0,193.0 L970.0,193.0 L971.0,193.0 L972.0,193.0 L973.0,193.0 L974.0,193.0 L975.0,193.0 L976.0,193.0 L977.0,193.0 L978.0,193.0 L979.0,193.0 L980.0,193.0 L981.0,193.0 L982.0,193.0 L983.0,193.0 L984.0,193.0 L985.0,193.0 L986.0,193.0 L987.0,193.0 L988.0,193.0 L989.0,193.0 L990.0,193.0 L991.0,193.0 L992.0,193.0 L993.0,193.0 L994.0,193.0 L995.0,193.0 L996.0,193.0 L997.0,193.0 L998.0,193.0 L999.0,193.0 L1000.0,193.0 L1001.0,193.0 L1002.0,193.0 L1003.0,193.0 L1004.0,193.0 L1005.0,193.0 L1006.0,193.0 L1007.0,193.0 L1008.0,193.0 L1009.0,193.0 L1010.0,193.0 L1011.0,193.0 L1012.0,193.0 L1013.0,193.0 L1014.0,193.0 L1015.0,193.0 L1016.0,193.0 L1017.0,193.0 L1018.0,193.1 L1019.0,193.1 L1020.0,193.1 L1021.0,193.1 L1022.0,193.1 L1023.0,193.1 L1024.0,193.2 L1025.0,193.2 L1026.0,193.3 L1027.0,193.3 L1028.0,193.4 L1029.0,193.4 L1030.0,193.5 L1031.0,193.6 L1032.0,193.7 L1033.0,193.7 L1034.0,193.8 L1035.0,193.9 L1036.0,194.0 L1037.0,194.1 L1038.0,194.1 L1039.0,194.3 L1039.9,194.4 L1040.9,194.5 L1041.9,194.7 L1042.9,194.9 L1043.9,195.1 L1044.9,195.3 L1045.8,195.5 L1046.8,195.8 L1047.7,196.1 L1048.7,196.5 L1049.6,196.8 L1050.5,197.2 L1051.5,197.6 L1052.4,198.0 L1053.3,198.5 L1054.2,198.9 L1055.0,199.4 L1055.9,199.9 L1056.8,200.4 L1057.7,200.9 L1058.5,201.4 L1059.4,201.9 L1060.2,202.4 L1061.0,203.0 L1061.9,203.5 L1062.7,204.1 L1063.5,204.7 L1064.3,205.3 L1065.1,205.9 L1065.9,206.5 L1066.7,207.1 L1067.5,207.7 L1068.2,208.4 L1069.0,209.1 L1069.7,209.7 L1070.4,210.4 L1071.2,211.1 L1071.9,211.8 L1072.6,212.5 L1073.3,213.2 L1074.0,214.0 L1074.6,214.7 L1075.3,215.4 L1076.0,216.2 L1076.6,217.0 L1077.2,217.8 L1077.8,218.5 L1078.4,219.3 L1079.0,220.2 L1079.6,221.0 L1080.1,221.8 L1080.7,222.7" fill="none" stroke="#fff" stroke-width="24"/>
<path d="M940.0,201.4 L943.9,201.4 L945.0,201.2 L946.1,200.6 L947.2,199.6 L948.3,198.2 L949.3,196.6 L950.4,194.9 L951.5,193.0 L952.6,191.1 L953.7,189.4 L954.8,187.8 L955.9,186.4 L956.9,185.4 L958.0,184.8 L959.1,184.6 L953.5,184.6 L952.4,184.8 L951.3,185.4 L950.3,186.4 L949.2,187.8 L948.1,189.4 L947.0,191.1 L945.9,193.0 L944.8,194.9 L943.7,196.6 L942.7,198.2 L941.6,199.6 L940.5,200.6 L940.0,200.8Z" fill="#a0141b" stroke="#a0141b" stroke-width="1.2" stroke-linejoin="round"/>
<path d="M971.1,201.4 L972.2,201.2 L973.3,200.6 L974.4,199.6 L975.5,198.2 L976.6,196.6 L977.6,194.9 L978.7,193.0 L979.8,191.1 L980.9,189.3 L982.0,187.7 L983.0,186.4 L984.1,185.4 L985.2,184.8 L986.3,184.6 L980.7,184.6 L979.6,184.8 L978.5,185.4 L977.4,186.4 L976.4,187.8 L975.3,189.3 L974.2,191.1 L973.1,193.0 L972.0,194.9 L971.0,196.6 L969.9,198.2 L968.8,199.6 L967.7,200.6 L966.6,201.2 L965.5,201.4Z" fill="#a0141b" stroke="#a0141b" stroke-width="1.2" stroke-linejoin="round"/>
<path d="M998.3,201.4 L999.3,201.2 L1000.4,200.6 L1001.5,199.6 L1002.6,198.3 L1003.7,196.7 L1004.8,194.9 L1005.9,193.0 L1007.0,191.2 L1008.1,189.4 L1009.2,187.8 L1010.3,186.5 L1011.4,185.5 L1012.4,184.8 L1013.5,184.6 L1007.9,184.6 L1006.8,184.8 L1005.8,185.5 L1004.7,186.5 L1003.6,187.8 L1002.5,189.4 L1001.4,191.1 L1000.3,193.0 L999.2,194.9 L998.1,196.6 L997.0,198.2 L995.9,199.5 L994.9,200.5 L993.8,201.2 L992.7,201.4Z" fill="#a0141b" stroke="#a0141b" stroke-width="1.2" stroke-linejoin="round"/>
<path d="M1025.2,201.6 L1026.2,201.5 L1027.2,200.9 L1028.3,200.0 L1029.5,198.7 L1030.7,197.2 L1031.9,195.5 L1033.1,193.7 L1034.3,192.0 L1035.6,190.3 L1036.8,188.8 L1038.1,187.6 L1039.3,186.7 L1040.6,186.2 L1041.9,186.2 L1035.8,185.5 L1034.6,185.6 L1033.5,186.2 L1032.3,187.1 L1031.2,188.3 L1030.0,189.8 L1028.7,191.5 L1027.5,193.3 L1026.3,195.1 L1025.2,196.9 L1024.1,198.4 L1023.0,199.7 L1021.9,200.7 L1020.8,201.3 L1019.8,201.5Z" fill="#a0141b" stroke="#a0141b" stroke-width="1.2" stroke-linejoin="round"/>
<path d="M1048.6,205.5 L1049.5,205.8 L1050.6,205.6 L1051.9,205.2 L1053.4,204.5 L1055.1,203.6 L1056.9,202.6 L1058.8,201.5 L1060.7,200.5 L1062.6,199.6 L1064.5,198.9 L1066.2,198.5 L1067.7,198.4 L1069.1,198.6 L1070.2,199.2 L1065.1,195.6 L1063.9,195.1 L1062.6,195.0 L1061.0,195.2 L1059.4,195.8 L1057.6,196.6 L1055.7,197.6 L1053.9,198.8 L1052.1,200.0 L1050.4,201.2 L1048.9,202.2 L1047.4,203.1 L1046.3,203.7 L1045.2,203.9 L1044.4,203.9Z" fill="#a0141b" stroke="#a0141b" stroke-width="1.2" stroke-linejoin="round"/>
<path d="M1067.8,219.6 L1068.6,220.2 L1069.7,220.5 L1071.0,220.6 L1072.7,220.5 L1074.6,220.3 L1076.6,220.0 L1078.7,219.8 L1080.9,219.6 L1083.0,219.6 L1085.0,219.7 L1086.8,220.0 L1088.3,220.6 L1089.4,221.4 L1090.2,222.4 L1086.9,216.8 L1086.0,215.9 L1084.8,215.2 L1083.2,214.8 L1081.5,214.7 L1079.5,214.7 L1077.4,215.0 L1075.3,215.4 L1073.1,215.8 L1071.1,216.3 L1069.3,216.6 L1067.6,216.9 L1066.2,216.9 L1065.1,216.6 L1064.2,216.1Z" fill="#a0141b" stroke="#a0141b" stroke-width="1.2" stroke-linejoin="round"/>
<path d="M1079.1,239.9 L1079.6,240.8 L1080.5,241.6 L1081.7,242.2 L1083.3,242.9 L1085.1,243.5 L1087.0,244.1 L1089.1,244.7 L1091.2,245.4 L1093.1,246.1 L1094.9,246.9 L1096.4,247.8 L1097.6,248.8 L1098.4,249.9 L1098.8,251.1 L1097.8,245.0 L1097.3,243.9 L1096.4,242.9 L1095.2,242.0 L1093.6,241.2 L1091.8,240.5 L1089.8,239.8 L1087.7,239.3 L1085.6,238.8 L1083.6,238.3 L1081.8,237.8 L1080.2,237.3 L1078.9,236.7 L1078.0,236.0 L1077.4,235.1Z" fill="#a0141b" stroke="#a0141b" stroke-width="1.2" stroke-linejoin="round"/>
<path d="M1082.7,264.1 L1082.9,265.0 L1083.5,266.1 L1084.4,267.1 L1085.7,268.2 L1087.2,269.4 L1088.9,270.5 L1090.7,271.8 L1092.5,273.0 L1094.1,274.3 L1095.6,275.6 L1096.8,276.9 L1097.6,278.2 L1098.0,279.5 L1098.1,280.7 L1098.9,274.6 L1098.8,273.4 L1098.3,272.2 L1097.4,271.0 L1096.1,269.7 L1094.6,268.5 L1092.9,267.3 L1091.1,266.2 L1089.2,265.0 L1087.5,263.9 L1085.9,262.9 L1084.5,261.9 L1083.5,260.9 L1082.9,259.9 L1082.6,258.9Z" fill="#a0141b" stroke="#a0141b" stroke-width="1.2" stroke-linejoin="round"/>
<path d="M1078.9,287.6 L1078.8,288.5 L1079.0,289.4 L1079.5,290.7 L1080.2,292.1 L1081.1,293.7 L1082.0,295.5 L1082.9,297.4 L1083.7,299.5 L1084.3,301.5 L1084.7,303.5 L1084.8,305.3 L1084.7,306.9 L1084.2,308.2 L1083.5,309.2 L1088.1,304.4 L1088.8,303.3 L1089.1,301.8 L1089.1,300.1 L1088.7,298.3 L1087.9,296.4 L1087.0,294.5 L1085.8,292.7 L1084.6,290.9 L1083.3,289.3 L1082.2,287.8 L1081.3,286.5 L1080.6,285.3 L1080.3,284.3 L1080.3,283.4Z" fill="#a0141b" stroke="#a0141b" stroke-width="1.2" stroke-linejoin="round"/>
<path d="M1063.5,304.3 L1062.8,305.1 L1062.4,306.2 L1062.2,307.6 L1062.2,309.3 L1062.3,311.2 L1062.4,313.3 L1062.6,315.4 L1062.8,317.6 L1062.9,319.7 L1062.9,321.6 L1062.8,322.9 L1064.0,324.7 L1065.7,323.5 L1066.5,322.7 L1067.1,321.5 L1067.4,320.0 L1067.6,318.3 L1067.6,316.4 L1067.4,314.3 L1067.1,312.1 L1066.8,310.0 L1066.6,307.9 L1066.4,306.1 L1066.3,304.4 L1066.4,303.0 L1066.8,301.8 L1067.5,300.9Z" fill="#a0141b" stroke="#a0141b" stroke-width="1.2" stroke-linejoin="round"/>
<path d="M940.0,189.5 L940.1,189.4 L941.2,187.8 L942.3,186.4 L943.3,185.4 L944.4,184.8 L945.5,184.6 L940.0,184.6Z" fill="#c6691d" stroke="#c6691d" stroke-width="1.2" stroke-linejoin="round"/>
<path d="M957.5,201.4 L958.6,201.2 L959.7,200.6 L960.8,199.6 L961.9,198.2 L962.9,196.6 L964.0,194.9 L965.1,193.0 L966.2,191.1 L967.3,189.4 L968.4,187.8 L969.5,186.4 L970.5,185.4 L971.6,184.8 L972.7,184.6 L967.1,184.6 L966.0,184.8 L964.9,185.4 L963.9,186.4 L962.8,187.8 L961.7,189.4 L960.6,191.1 L959.5,193.0 L958.4,194.9 L957.3,196.6 L956.3,198.2 L955.2,199.6 L954.1,200.6 L953.0,201.2 L951.9,201.4Z" fill="#c6691d" stroke="#c6691d" stroke-width="1.2" stroke-linejoin="round"/>
<path d="M984.7,201.4 L985.8,201.2 L986.9,200.5 L988.0,199.5 L989.1,198.2 L990.1,196.6 L991.2,194.8 L992.3,193.0 L993.4,191.1 L994.5,189.3 L995.6,187.7 L996.7,186.4 L997.8,185.4 L998.9,184.8 L1000.0,184.6 L994.3,184.6 L993.3,184.8 L992.2,185.4 L991.1,186.4 L990.0,187.7 L988.9,189.3 L987.8,191.1 L986.7,193.0 L985.6,194.8 L984.6,196.6 L983.5,198.2 L982.4,199.5 L981.3,200.5 L980.2,201.2 L979.1,201.4Z" fill="#c6691d" stroke="#c6691d" stroke-width="1.2" stroke-linejoin="round"/>
<path d="M1011.9,201.4 L1013.0,201.2 L1014.1,200.6 L1015.1,199.6 L1016.2,198.3 L1017.3,196.7 L1018.4,194.9 L1019.5,193.1 L1020.6,191.2 L1021.8,189.5 L1022.9,187.9 L1024.1,186.6 L1025.2,185.6 L1026.4,185.1 L1027.6,184.9 L1021.7,184.7 L1020.6,184.9 L1019.5,185.5 L1018.3,186.5 L1017.2,187.8 L1016.1,189.4 L1015.0,191.2 L1013.9,193.0 L1012.8,194.9 L1011.7,196.7 L1010.7,198.3 L1009.6,199.6 L1008.5,200.6 L1007.4,201.2 L1006.3,201.4Z" fill="#c6691d" stroke="#c6691d" stroke-width="1.2" stroke-linejoin="round"/>
<path d="M1038.1,202.6 L1039.1,202.5 L1040.1,202.0 L1041.1,201.2 L1042.3,200.1 L1043.6,198.7 L1045.0,197.3 L1046.5,195.8 L1048.1,194.3 L1049.8,193.0 L1051.5,192.0 L1053.2,191.2 L1054.7,190.8 L1056.1,190.8 L1057.3,191.1 L1051.3,188.5 L1050.0,188.3 L1048.5,188.4 L1047.0,189.1 L1045.5,190.0 L1043.9,191.3 L1042.5,192.9 L1041.1,194.5 L1039.7,196.2 L1038.5,197.9 L1037.3,199.3 L1036.2,200.6 L1035.0,201.5 L1033.9,202.0 L1032.9,202.1Z" fill="#c6691d" stroke="#c6691d" stroke-width="1.2" stroke-linejoin="round"/>
<path d="M1058.8,211.7 L1059.7,212.1 L1060.9,212.1 L1062.3,212.0 L1063.9,211.6 L1065.7,211.0 L1067.6,210.3 L1069.7,209.7 L1071.7,209.1 L1073.8,208.6 L1075.7,208.2 L1077.5,208.1 L1079.0,208.3 L1080.3,208.7 L1081.3,209.5 L1077.0,205.0 L1076.0,204.4 L1074.7,204.0 L1073.1,203.9 L1071.3,204.1 L1069.4,204.6 L1067.4,205.3 L1065.4,206.1 L1063.4,206.9 L1061.5,207.7 L1059.7,208.4 L1058.2,208.9 L1056.8,209.2 L1055.6,209.2 L1054.7,208.9Z" fill="#c6691d" stroke="#c6691d" stroke-width="1.2" stroke-linejoin="round"/>
<path d="M1074.6,228.9 L1075.2,229.6 L1076.2,230.1 L1077.5,230.5 L1079.1,230.9 L1081.0,231.1 L1083.0,231.4 L1085.1,231.7 L1087.3,232.1 L1089.3,232.5 L1091.2,233.1 L1092.8,233.7 L1094.2,234.5 L1095.1,235.5 L1095.6,236.5 L1093.7,230.7 L1093.1,229.7 L1092.1,228.8 L1090.7,228.1 L1089.1,227.5 L1087.1,227.1 L1085.0,226.8 L1082.9,226.6 L1080.7,226.5 L1078.7,226.5 L1076.8,226.4 L1075.2,226.2 L1073.8,226.0 L1072.8,225.6 L1072.1,224.9Z" fill="#c6691d" stroke="#c6691d" stroke-width="1.2" stroke-linejoin="round"/>
<path d="M1081.9,251.9 L1082.3,252.8 L1083.0,253.7 L1084.1,254.6 L1085.6,255.4 L1087.2,256.3 L1089.1,257.2 L1091.0,258.2 L1092.9,259.2 L1094.7,260.3 L1096.3,261.4 L1097.7,262.5 L1098.7,263.7 L1099.3,264.8 L1099.5,266.0 L1099.5,259.9 L1099.2,258.8 L1098.6,257.6 L1097.5,256.5 L1096.1,255.4 L1094.4,254.4 L1092.5,253.5 L1090.5,252.6 L1088.5,251.8 L1086.6,251.0 L1084.9,250.3 L1083.4,249.5 L1082.2,248.7 L1081.4,247.9 L1081.0,246.9Z" fill="#c6691d" stroke="#c6691d" stroke-width="1.2" stroke-linejoin="round"/>
<path d="M1081.7,276.5 L1081.8,277.5 L1082.2,278.6 L1083.0,279.7 L1084.2,280.9 L1085.5,282.3 L1087.0,283.7 L1088.5,285.2 L1090.1,286.7 L1091.4,288.3 L1092.6,290.0 L1093.4,291.5 L1093.9,293.2 L1094.0,294.6 L1093.6,295.9 L1096.0,289.5 L1096.2,288.3 L1095.9,286.9 L1095.2,285.5 L1094.2,284.0 L1092.9,282.5 L1091.4,281.1 L1089.7,279.7 L1088.0,278.3 L1086.5,277.0 L1085.0,275.8 L1083.8,274.6 L1082.9,273.5 L1082.4,272.4 L1082.3,271.4Z" fill="#c6691d" stroke="#c6691d" stroke-width="1.2" stroke-linejoin="round"/>
<path d="M1073.0,295.9 L1072.5,296.7 L1072.2,297.9 L1072.2,299.3 L1072.3,301.0 L1072.5,302.9 L1072.9,304.9 L1073.3,307.0 L1073.7,309.1 L1074.0,311.2 L1074.2,313.1 L1074.2,314.9 L1073.9,316.4 L1073.4,317.7 L1072.6,318.5 L1077.3,314.7 L1078.0,313.8 L1078.4,312.6 L1078.5,311.2 L1078.5,309.4 L1078.3,307.5 L1077.9,305.4 L1077.5,303.3 L1077.0,301.2 L1076.5,299.2 L1076.1,297.4 L1075.7,295.8 L1075.6,294.5 L1075.6,293.4 L1076.0,292.7Z" fill="#c6691d" stroke="#c6691d" stroke-width="1.2" stroke-linejoin="round"/>
<path d="M1054.6,310.8 L1055.9,312.7 L1055.9,312.1 L1056.2,310.6 L1056.7,309.5 L1057.5,308.8Z" fill="#c6691d" stroke="#c6691d" stroke-width="1.2" stroke-linejoin="round"/>
<path d="M940.0,197.1 L940.6,198.2 L941.4,199.6 L942.3,200.6 L943.2,201.2 L944.0,201.4 L940.0,201.4Z" fill="#ec1c24" stroke="#ec1c24" stroke-width="1.2" stroke-linejoin="round"/>
<path d="M959.2,184.6 L960.1,184.8 L960.9,185.4 L961.8,186.4 L962.6,187.8 L963.5,189.4 L964.4,191.1 L965.2,193.0 L966.1,194.9 L966.9,196.6 L967.8,198.2 L968.6,199.6 L969.5,200.6 L970.4,201.2 L971.2,201.4 L965.4,201.4 L964.6,201.2 L963.7,200.6 L962.8,199.6 L962.0,198.2 L961.1,196.6 L960.3,194.9 L959.4,193.0 L958.6,191.1 L957.7,189.4 L956.8,187.8 L956.0,186.4 L955.1,185.4 L954.3,184.8 L953.4,184.6Z" fill="#ec1c24" stroke="#ec1c24" stroke-width="1.2" stroke-linejoin="round"/>
<path d="M986.4,184.6 L987.3,184.8 L988.1,185.4 L989.0,186.4 L989.8,187.7 L990.7,189.3 L991.6,191.1 L992.4,193.0 L993.3,194.8 L994.1,196.6 L995.0,198.2 L995.8,199.5 L996.7,200.5 L997.5,201.2 L998.4,201.4 L992.6,201.4 L991.8,201.2 L990.9,200.5 L990.0,199.5 L989.2,198.2 L988.3,196.6 L987.5,194.8 L986.6,193.0 L985.8,191.1 L984.9,189.3 L984.0,187.7 L983.2,186.4 L982.3,185.4 L981.5,184.8 L980.6,184.6Z" fill="#ec1c24" stroke="#ec1c24" stroke-width="1.2" stroke-linejoin="round"/>
<path d="M1013.6,184.6 L1014.5,184.8 L1015.4,185.5 L1016.2,186.5 L1017.1,187.8 L1017.9,189.4 L1018.8,191.2 L1019.6,193.1 L1020.4,195.0 L1021.3,196.7 L1022.1,198.4 L1022.9,199.7 L1023.6,200.7 L1024.5,201.4 L1025.3,201.6 L1019.7,201.5 L1018.8,201.3 L1018.0,200.6 L1017.2,199.6 L1016.4,198.3 L1015.5,196.7 L1014.7,194.9 L1013.8,193.0 L1013.0,191.2 L1012.1,189.4 L1011.3,187.8 L1010.4,186.5 L1009.5,185.5 L1008.7,184.8 L1007.8,184.6Z" fill="#ec1c24" stroke="#ec1c24" stroke-width="1.2" stroke-linejoin="round"/>
<path d="M1042.0,186.2 L1042.9,186.5 L1043.8,187.3 L1044.6,188.5 L1045.3,190.0 L1045.9,191.8 L1046.3,193.7 L1046.6,195.8 L1046.8,197.8 L1047.0,199.8 L1047.2,201.5 L1047.4,203.0 L1047.7,204.2 L1048.1,205.1 L1048.6,205.6 L1044.3,203.9 L1043.7,203.5 L1043.3,202.7 L1042.8,201.5 L1042.4,200.1 L1042.0,198.4 L1041.5,196.5 L1041.0,194.5 L1040.4,192.5 L1039.7,190.7 L1039.0,189.0 L1038.2,187.6 L1037.4,186.5 L1036.5,185.8 L1035.7,185.5Z" fill="#ec1c24" stroke="#ec1c24" stroke-width="1.2" stroke-linejoin="round"/>
<path d="M1070.2,199.2 L1070.9,200.0 L1071.2,201.1 L1071.3,202.4 L1071.2,204.1 L1070.9,205.9 L1070.3,207.8 L1069.7,209.7 L1069.1,211.7 L1068.4,213.5 L1067.9,215.3 L1067.5,216.8 L1067.4,218.0 L1067.5,219.0 L1067.8,219.7 L1064.1,216.0 L1063.8,215.4 L1063.6,214.4 L1063.7,213.2 L1064.0,211.6 L1064.3,209.9 L1064.8,208.0 L1065.3,206.0 L1065.7,204.0 L1066.1,202.0 L1066.3,200.2 L1066.3,198.6 L1066.1,197.2 L1065.6,196.2 L1065.0,195.5Z" fill="#ec1c24" stroke="#ec1c24" stroke-width="1.2" stroke-linejoin="round"/>
<path d="M1090.2,222.5 L1090.5,223.5 L1090.4,224.7 L1089.8,226.0 L1089.0,227.4 L1087.9,228.8 L1086.6,230.3 L1085.2,231.8 L1083.7,233.3 L1082.4,234.7 L1081.1,236.0 L1080.1,237.2 L1079.4,238.3 L1079.1,239.2 L1079.1,240.0 L1077.4,235.0 L1077.3,234.3 L1077.6,233.3 L1078.2,232.2 L1079.1,231.0 L1080.3,229.6 L1081.5,228.1 L1082.8,226.5 L1084.1,224.9 L1085.2,223.3 L1086.2,221.7 L1086.8,220.2 L1087.2,218.8 L1087.2,217.6 L1086.8,216.7Z" fill="#ec1c24" stroke="#ec1c24" stroke-width="1.2" stroke-linejoin="round"/>
<path d="M1098.8,251.2 L1098.7,252.2 L1098.2,253.2 L1097.3,254.2 L1096.1,255.3 L1094.5,256.3 L1092.8,257.3 L1091.0,258.3 L1089.2,259.2 L1087.4,260.1 L1085.9,260.9 L1084.5,261.8 L1083.5,262.6 L1082.9,263.4 L1082.7,264.1 L1082.6,258.8 L1082.8,258.1 L1083.4,257.3 L1084.3,256.4 L1085.6,255.5 L1087.1,254.6 L1088.8,253.6 L1090.5,252.5 L1092.2,251.4 L1093.9,250.2 L1095.3,249.1 L1096.5,248.0 L1097.3,246.9 L1097.7,245.9 L1097.7,244.9Z" fill="#ec1c24" stroke="#ec1c24" stroke-width="1.2" stroke-linejoin="round"/>
<path d="M1098.1,280.8 L1097.7,281.7 L1096.9,282.5 L1095.7,283.2 L1094.2,283.9 L1092.5,284.4 L1090.5,284.9 L1088.5,285.3 L1086.5,285.6 L1084.6,285.9 L1082.8,286.1 L1081.3,286.4 L1080.2,286.7 L1079.3,287.1 L1078.9,287.7 L1080.4,283.3 L1080.7,282.6 L1081.5,282.1 L1082.7,281.5 L1084.1,281.0 L1085.8,280.6 L1087.7,280.1 L1089.7,279.6 L1091.7,279.0 L1093.6,278.4 L1095.3,277.8 L1096.8,277.1 L1097.9,276.3 L1098.6,275.4 L1098.9,274.5Z" fill="#ec1c24" stroke="#ec1c24" stroke-width="1.2" stroke-linejoin="round"/>
<path d="M1083.4,309.2 L1082.6,309.7 L1081.5,309.9 L1080.1,309.7 L1078.6,309.3 L1076.9,308.7 L1075.1,307.9 L1073.2,307.1 L1071.3,306.2 L1069.5,305.4 L1067.8,304.8 L1066.3,304.3 L1065.1,304.1 L1064.1,304.1 L1063.4,304.4 L1067.6,300.9 L1068.4,300.5 L1069.4,300.4 L1070.7,300.6 L1072.2,301.0 L1073.9,301.7 L1075.7,302.4 L1077.6,303.2 L1079.5,304.0 L1081.3,304.7 L1083.1,305.2 L1084.8,305.4 L1086.2,305.4 L1087.3,305.0 L1088.2,304.3Z" fill="#ec1c24" stroke="#ec1c24" stroke-width="1.2" stroke-linejoin="round"/>
<path d="M1064.0,324.7 L1063.2,323.6 L1063.9,323.7 L1065.0,323.8 L1065.8,323.4Z" fill="#ec1c24" stroke="#ec1c24" stroke-width="1.2" stroke-linejoin="round"/>
<path d="M940.0,184.6 L945.6,184.6 L946.5,184.8 L947.3,185.4 L948.2,186.4 L949.0,187.8 L949.9,189.4 L950.8,191.1 L951.6,193.0 L952.5,194.9 L953.3,196.6 L954.2,198.2 L955.0,199.6 L955.9,200.6 L956.8,201.2 L957.6,201.4 L951.8,201.4 L951.0,201.2 L950.1,200.6 L949.2,199.6 L948.4,198.2 L947.5,196.6 L946.7,194.9 L945.8,193.0 L945.0,191.1 L944.1,189.4 L943.2,187.8 L942.4,186.4 L941.5,185.4 L940.7,184.8 L940.0,184.6Z" fill="#f7941e" stroke="#f7941e" stroke-width="1.2" stroke-linejoin="round"/>
<path d="M972.8,184.6 L973.7,184.8 L974.5,185.4 L975.4,186.4 L976.2,187.8 L977.1,189.3 L978.0,191.1 L978.8,193.0 L979.7,194.9 L980.5,196.6 L981.4,198.2 L982.3,199.5 L983.1,200.5 L984.0,201.2 L984.8,201.4 L979.0,201.4 L978.2,201.2 L977.3,200.6 L976.5,199.6 L975.6,198.2 L974.7,196.6 L973.9,194.9 L973.0,193.0 L972.2,191.1 L971.3,189.4 L970.4,187.8 L969.6,186.4 L968.7,185.4 L967.9,184.8 L967.0,184.6Z" fill="#f7941e" stroke="#f7941e" stroke-width="1.2" stroke-linejoin="round"/>
<path d="M1000.1,184.6 L1000.9,184.8 L1001.8,185.4 L1002.6,186.4 L1003.5,187.8 L1004.3,189.4 L1005.2,191.2 L1006.0,193.0 L1006.9,194.9 L1007.7,196.7 L1008.6,198.3 L1009.5,199.6 L1010.3,200.6 L1011.2,201.2 L1012.0,201.4 L1006.2,201.4 L1005.4,201.2 L1004.5,200.6 L1003.6,199.6 L1002.8,198.3 L1001.9,196.7 L1001.1,194.9 L1000.2,193.0 L999.4,191.1 L998.5,189.3 L997.7,187.7 L996.8,186.4 L996.0,185.4 L995.1,184.8 L994.2,184.6Z" fill="#f7941e" stroke="#f7941e" stroke-width="1.2" stroke-linejoin="round"/>
<path d="M1027.7,184.9 L1028.6,185.2 L1029.5,185.9 L1030.3,186.9 L1031.0,188.3 L1031.8,190.0 L1032.5,191.8 L1033.2,193.7 L1033.9,195.7 L1034.6,197.5 L1035.3,199.2 L1036.0,200.6 L1036.7,201.6 L1037.5,202.3 L1038.2,202.6 L1032.8,202.1 L1031.9,201.9 L1031.1,201.2 L1030.3,200.1 L1029.6,198.7 L1028.9,197.1 L1028.2,195.2 L1027.4,193.3 L1026.6,191.4 L1025.9,189.6 L1025.0,188.0 L1024.2,186.6 L1023.4,185.6 L1022.5,184.9 L1021.6,184.7Z" fill="#f7941e" stroke="#f7941e" stroke-width="1.2" stroke-linejoin="round"/>
<path d="M1057.4,191.2 L1058.2,191.8 L1058.7,192.8 L1059.1,194.1 L1059.2,195.7 L1059.2,197.6 L1059.1,199.5 L1058.9,201.6 L1058.6,203.6 L1058.3,205.6 L1058.1,207.3 L1058.1,208.9 L1058.1,210.1 L1058.4,211.1 L1058.9,211.7 L1054.6,208.8 L1054.1,208.3 L1053.7,207.3 L1053.6,206.1 L1053.5,204.5 L1053.6,202.8 L1053.7,200.8 L1053.8,198.8 L1053.9,196.7 L1053.8,194.7 L1053.6,192.9 L1053.3,191.3 L1052.8,190.0 L1052.1,189.0 L1051.2,188.4Z" fill="#f7941e" stroke="#f7941e" stroke-width="1.2" stroke-linejoin="round"/>
<path d="M1081.3,209.6 L1081.8,210.5 L1082.0,211.6 L1081.8,213.0 L1081.4,214.5 L1080.7,216.3 L1079.8,218.0 L1078.8,219.8 L1077.8,221.6 L1076.7,223.3 L1075.8,224.8 L1075.1,226.2 L1074.6,227.3 L1074.5,228.2 L1074.6,229.0 L1072.1,224.9 L1071.8,224.2 L1071.9,223.2 L1072.2,222.0 L1072.8,220.6 L1073.5,218.9 L1074.3,217.2 L1075.2,215.3 L1076.0,213.4 L1076.7,211.6 L1077.2,209.8 L1077.6,208.2 L1077.6,206.9 L1077.4,205.8 L1076.9,204.9Z" fill="#f7941e" stroke="#f7941e" stroke-width="1.2" stroke-linejoin="round"/>
<path d="M1095.7,236.6 L1095.7,237.6 L1095.4,238.7 L1094.7,239.8 L1093.6,241.0 L1092.3,242.3 L1090.8,243.6 L1089.1,244.8 L1087.5,246.0 L1085.9,247.2 L1084.5,248.3 L1083.4,249.4 L1082.5,250.3 L1082.0,251.2 L1081.9,252.0 L1081.0,246.8 L1081.0,246.0 L1081.4,245.1 L1082.2,244.1 L1083.3,243.0 L1084.6,241.8 L1086.1,240.5 L1087.7,239.2 L1089.2,237.8 L1090.7,236.5 L1091.9,235.1 L1092.9,233.8 L1093.5,232.7 L1093.8,231.6 L1093.7,230.6Z" fill="#f7941e" stroke="#f7941e" stroke-width="1.2" stroke-linejoin="round"/>
<path d="M1099.5,266.1 L1099.2,267.0 L1098.6,267.9 L1097.5,268.8 L1096.1,269.6 L1094.5,270.4 L1092.6,271.1 L1090.7,271.9 L1088.8,272.5 L1086.9,273.2 L1085.3,273.8 L1083.8,274.5 L1082.7,275.2 L1082.0,275.8 L1081.7,276.6 L1082.3,271.3 L1082.6,270.6 L1083.3,269.8 L1084.3,269.1 L1085.7,268.3 L1087.3,267.6 L1089.2,266.9 L1091.1,266.1 L1092.9,265.3 L1094.7,264.4 L1096.3,263.5 L1097.7,262.6 L1098.7,261.7 L1099.3,260.8 L1099.5,259.8Z" fill="#f7941e" stroke="#f7941e" stroke-width="1.2" stroke-linejoin="round"/>
<path d="M1093.5,296.0 L1092.9,296.9 L1091.8,297.6 L1090.4,298.0 L1088.7,298.2 L1086.9,298.1 L1084.9,297.9 L1082.8,297.5 L1080.9,297.0 L1079.0,296.5 L1077.3,296.1 L1075.8,295.7 L1074.6,295.5 L1073.6,295.7 L1073.0,296.0 L1076.1,292.6 L1076.6,292.2 L1077.5,292.0 L1078.6,292.1 L1080.1,292.2 L1081.9,292.3 L1083.8,292.5 L1085.9,292.6 L1087.9,292.6 L1089.9,292.5 L1091.8,292.2 L1093.4,291.7 L1094.6,291.1 L1095.6,290.3 L1096.1,289.4Z" fill="#f7941e" stroke="#f7941e" stroke-width="1.2" stroke-linejoin="round"/>
<path d="M1072.5,318.6 L1071.6,319.0 L1070.5,319.1 L1069.2,318.8 L1067.7,318.2 L1066.0,317.5 L1064.3,316.5 L1062.5,315.5 L1060.8,314.4 L1059.1,313.5 L1057.5,312.6 L1056.0,312.0 L1055.2,311.8 L1054.6,310.8 L1057.5,308.7 L1058.3,308.4 L1059.4,308.4 L1060.6,308.8 L1062.1,309.4 L1063.7,310.2 L1065.4,311.1 L1067.2,312.1 L1069.0,313.0 L1070.8,313.9 L1072.5,314.5 L1074.1,315.0 L1075.5,315.1 L1076.6,315.0 L1077.3,314.6Z" fill="#f7941e" stroke="#f7941e" stroke-width="1.2" stroke-linejoin="round"/>
<rect x="1113.3" y="148.7" width="21.4" height="82.1" rx="10.7" fill="#838788"/>
<g font-family="Liberation Sans, sans-serif" font-weight="bold" fill="#1d1d1b" stroke="#1d1d1b" stroke-width="0.4">
<text x="23.5" y="177.6" font-size="23.5">3</text>
<path d="M42.1,157.79999999999998 L45.5,158.2 L41.9,166.4 L40.0,166.2Z" fill="#1d1d1b"/>
<text x="25.8" y="306" font-size="23.5">5</text>
<path d="M43.4,286.2 L46.8,286.6 L43.199999999999996,294.8 L41.3,294.6Z" fill="#1d1d1b"/>
<text x="21.3" y="420.7" font-size="21.9">(</text>
<text x="28.5" y="422.6" font-size="23.5" textLength="15.9" lengthAdjust="spacingAndGlyphs">A</text>
<text x="44.7" y="420.7" font-size="21.9">)</text>
<text x="285.5" y="297.8" font-size="23.5" textLength="278" lengthAdjust="spacingAndGlyphs">if the DNA cannot rapidly</text>
<text x="285.5" y="326" font-size="23.5" textLength="246.5" lengthAdjust="spacingAndGlyphs">rotate, torsional stress</text>
<text x="285.5" y="354.6" font-size="23.5" textLength="136" lengthAdjust="spacingAndGlyphs">will build up</text>
<text x="708" y="78.6" font-size="23.5" textLength="162.5" lengthAdjust="spacingAndGlyphs">leading-strand</text>
<text x="708" y="106.7" font-size="23.5" textLength="100" lengthAdjust="spacingAndGlyphs">template</text>
<text x="708" y="160.7" font-size="23.5">3</text>
<path d="M726,141.5 L729.4,141.9 L725.8,150.10000000000002 L723.9,149.9Z" fill="#1d1d1b"/>
<text x="683.5" y="308" font-size="23.5">5</text>
<path d="M702,288.2 L705.4,288.6 L701.8,296.8 L699.9,296.6Z" fill="#1d1d1b"/>
<text x="708" y="345.5" font-size="23.5" textLength="163.5" lengthAdjust="spacingAndGlyphs">lagging-strand</text>
<text x="708" y="373.7" font-size="23.5" textLength="100" lengthAdjust="spacingAndGlyphs">template</text>
<text x="677.2" y="420.9" font-size="21.9">(</text>
<text x="684.5" y="422.8" font-size="23.5">B</text>
<text x="700.5" y="420.9" font-size="21.9">)</text>
</g>
</svg>
</body></html>
